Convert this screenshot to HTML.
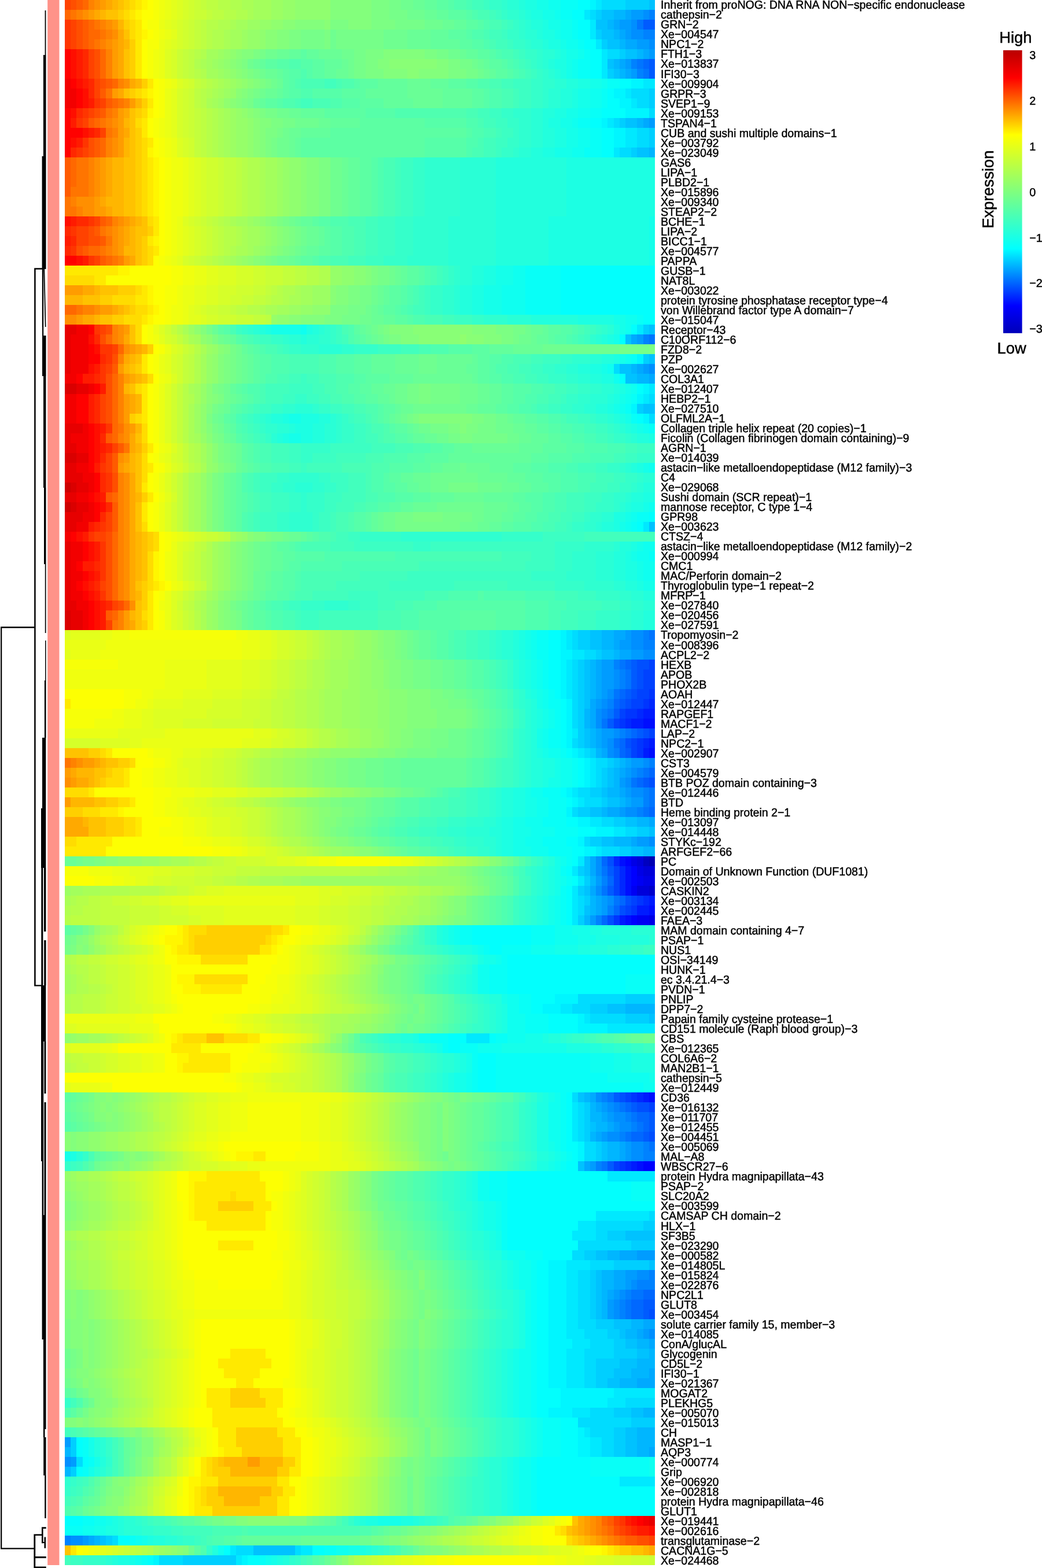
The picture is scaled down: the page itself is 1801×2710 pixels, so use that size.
<!DOCTYPE html>
<html lang="en"><head><meta charset="utf-8"><title>Expression heatmap</title>
<style>html,body{margin:0;padding:0;background:#fff}svg{display:block}text{font-family:"Liberation Sans",Arial,Helvetica,sans-serif;fill:#000;text-rendering:geometricPrecision}</style></head><body>
<svg width="1801" height="2710" viewBox="0 0 1801 2710">
<rect width="1801" height="2710" fill="#fff"/>
<g transform="translate(112,0) scale(10.2,17.0126)" shape-rendering="crispEdges">
<path fill="#0000b3" d="M99 87h1v1h-1z"/>
<path fill="#0000c0" d="M98 87h1v1h-1z"/>
<path fill="#0000cd" d="M99 90h1v1h-1z"/>
<path fill="#0000da" d="M97 87h1v1h-1zM98 88h2v1h-2zM97 90h2v1h-2z"/>
<path fill="#0000e7" d="M96 87h1v1h-1zM97 88h1v1h-1zM98 89h2v1h-2zM99 93h1v1h-1z"/>
<path fill="#0000f3" d="M97 89h1v1h-1zM96 90h1v1h-1zM97 93h2v1h-2z"/>
<path fill="#0001ff" d="M95 87h1v1h-1zM96 88h1v1h-1zM96 89h1v1h-1zM96 93h1v1h-1zM98 118h2v1h-2z"/>
<path fill="#000eff" d="M98 73h2v1h-2zM99 76h1v1h-1zM94 87h1v1h-1zM95 88h1v1h-1zM95 89h1v1h-1zM95 90h1v1h-1zM99 92h1v1h-1zM95 93h1v1h-1zM99 111h1v1h-1zM97 118h1v1h-1z"/>
<path fill="#001bff" d="M98 72h2v1h-2zM96 73h2v1h-2zM99 75h1v1h-1zM98 76h1v1h-1zM99 91h1v1h-1zM97 92h2v1h-2zM94 93h1v1h-1zM98 111h1v1h-1zM96 118h1v1h-1z"/>
<path fill="#0028ff" d="M99 71h1v1h-1zM97 72h1v1h-1zM95 73h1v1h-1zM98 75h1v1h-1zM93 87h1v1h-1zM94 88h1v1h-1zM94 89h1v1h-1zM94 90h1v1h-1zM98 91h1v1h-1zM97 111h1v1h-1zM95 118h1v1h-1z"/>
<path fill="#0035ff" d="M99 70h1v1h-1zM98 71h1v1h-1zM95 72h2v1h-2zM94 73h1v1h-1zM97 75h1v1h-1zM97 76h1v1h-1zM97 91h1v1h-1zM96 92h1v1h-1zM93 93h1v1h-1zM96 111h1v1h-1zM94 118h1v1h-1z"/>
<path fill="#0042ff" d="M99 67h1v1h-1zM98 68h2v1h-2zM98 69h2v1h-2zM97 70h2v1h-2zM96 71h2v1h-2zM94 72h1v1h-1zM93 73h1v1h-1zM99 74h1v1h-1zM96 75h1v1h-1zM96 76h1v1h-1zM93 88h1v1h-1zM93 89h1v1h-1zM93 90h1v1h-1zM96 91h1v1h-1zM95 92h1v1h-1zM95 111h1v1h-1zM99 112h1v1h-1zM93 118h1v1h-1z"/>
<path fill="#004fff" d="M97 67h2v1h-2zM97 68h1v1h-1zM97 69h1v1h-1zM96 70h1v1h-1zM95 71h1v1h-1zM98 74h1v1h-1zM95 75h1v1h-1zM99 79h1v1h-1zM92 87h1v1h-1zM95 91h1v1h-1zM94 92h1v1h-1zM92 93h1v1h-1zM94 111h1v1h-1zM97 112h2v1h-2zM99 115h1v1h-1zM99 133h1v1h-1z"/>
<path fill="#005bff" d="M98 2h2v1h-2zM99 6h1v1h-1zM99 7h1v1h-1zM96 67h1v1h-1zM96 68h1v1h-1zM96 69h1v1h-1zM95 70h1v1h-1zM94 71h1v1h-1zM93 72h1v1h-1zM92 73h1v1h-1zM97 74h1v1h-1zM95 76h1v1h-1zM98 79h1v1h-1zM92 88h1v1h-1zM92 90h1v1h-1zM93 111h1v1h-1zM96 112h1v1h-1zM99 113h1v1h-1zM99 114h1v1h-1zM98 115h1v1h-1zM92 118h1v1h-1zM98 132h2v1h-2zM98 133h1v1h-1z"/>
<path fill="#0068ff" d="M98 6h1v1h-1zM95 67h1v1h-1zM94 70h1v1h-1zM93 71h1v1h-1zM96 74h1v1h-1zM94 75h1v1h-1zM94 76h1v1h-1zM99 78h1v1h-1zM97 79h1v1h-1zM99 82h1v1h-1zM91 87h1v1h-1zM92 89h1v1h-1zM94 91h1v1h-1zM93 92h1v1h-1zM91 93h1v1h-1zM95 112h1v1h-1zM97 113h2v1h-2zM98 114h1v1h-1zM96 115h2v1h-2zM98 131h2v1h-2zM96 132h2v1h-2zM96 133h2v1h-2z"/>
<path fill="#0075ff" d="M97 2h1v1h-1zM97 6h1v1h-1zM98 7h1v1h-1zM99 34h1v1h-1zM99 64h1v1h-1zM94 67h1v1h-1zM95 68h1v1h-1zM95 69h1v1h-1zM93 70h1v1h-1zM92 72h1v1h-1zM91 73h1v1h-1zM95 74h1v1h-1zM93 75h1v1h-1zM98 78h1v1h-1zM96 79h1v1h-1zM99 80h1v1h-1zM99 81h1v1h-1zM98 82h1v1h-1zM91 88h1v1h-1zM91 90h1v1h-1zM93 91h1v1h-1zM92 111h1v1h-1zM94 112h1v1h-1zM96 113h1v1h-1zM97 114h1v1h-1zM95 115h1v1h-1zM99 116h1v1h-1zM91 118h1v1h-1zM96 131h2v1h-2zM95 132h1v1h-1zM95 133h1v1h-1z"/>
<path fill="#0082ff" d="M99 1h1v1h-1zM98 3h2v1h-2zM96 6h1v1h-1zM97 7h1v1h-1zM98 34h1v1h-1zM98 64h1v1h-1zM98 65h2v1h-2zM93 67h1v1h-1zM94 68h1v1h-1zM94 69h1v1h-1zM92 71h1v1h-1zM91 72h1v1h-1zM94 74h1v1h-1zM93 76h1v1h-1zM99 77h1v1h-1zM97 78h1v1h-1zM98 80h1v1h-1zM98 81h1v1h-1zM97 82h1v1h-1zM91 89h1v1h-1zM92 92h1v1h-1zM90 93h1v1h-1zM91 111h1v1h-1zM93 112h1v1h-1zM95 113h1v1h-1zM96 114h1v1h-1zM94 115h1v1h-1zM98 116h1v1h-1zM98 117h2v1h-2zM90 118h1v1h-1zM99 129h1v1h-1zM97 130h3v1h-3zM95 131h1v1h-1zM94 132h1v1h-1zM94 133h1v1h-1zM0 156h1v1h-1z"/>
<path fill="#008fff" d="M98 1h1v1h-1zM96 2h1v1h-1zM96 3h2v1h-2zM99 4h1v1h-1zM99 37h1v1h-1zM96 64h2v1h-2zM96 65h2v1h-2zM98 66h2v1h-2zM93 68h1v1h-1zM93 69h1v1h-1zM92 70h1v1h-1zM91 71h1v1h-1zM90 72h1v1h-1zM90 73h1v1h-1zM93 74h1v1h-1zM92 75h1v1h-1zM92 76h1v1h-1zM98 77h1v1h-1zM96 78h1v1h-1zM95 79h1v1h-1zM96 80h2v1h-2zM95 82h2v1h-2zM99 85h1v1h-1zM90 87h1v1h-1zM90 88h1v1h-1zM90 90h1v1h-1zM92 91h1v1h-1zM90 111h1v1h-1zM92 112h1v1h-1zM93 113h2v1h-2zM94 114h2v1h-2zM92 115h2v1h-2zM96 116h2v1h-2zM96 117h2v1h-2zM97 129h2v1h-2zM96 130h1v1h-1zM94 131h1v1h-1zM93 132h1v1h-1zM93 133h1v1h-1zM99 135h1v1h-1zM0 148h1v1h-1zM1 156h2v1h-2z"/>
<path fill="#009cff" d="M96 1h2v1h-2zM94 2h2v1h-2zM95 3h1v1h-1zM97 4h2v1h-2zM99 5h1v1h-1zM95 6h1v1h-1zM96 7h1v1h-1zM99 12h1v1h-1zM97 34h1v1h-1zM98 37h1v1h-1zM95 64h1v1h-1zM94 65h2v1h-2zM96 66h2v1h-2zM91 67h2v1h-2zM91 68h2v1h-2zM91 69h2v1h-2zM91 70h1v1h-1zM90 71h1v1h-1zM91 74h2v1h-2zM91 75h1v1h-1zM96 77h2v1h-2zM95 78h1v1h-1zM94 79h1v1h-1zM95 80h1v1h-1zM96 81h2v1h-2zM94 82h1v1h-1zM97 85h2v1h-2zM90 89h1v1h-1zM91 91h1v1h-1zM91 92h1v1h-1zM89 93h1v1h-1zM91 112h1v1h-1zM92 113h1v1h-1zM93 114h1v1h-1zM91 115h1v1h-1zM95 116h1v1h-1zM95 117h1v1h-1zM89 118h1v1h-1zM97 127h3v1h-3zM95 129h2v1h-2zM95 130h1v1h-1zM93 131h1v1h-1zM92 132h1v1h-1zM92 133h1v1h-1zM98 135h1v1h-1zM0 146h1v1h-1zM1 148h1v1h-1zM3 156h1v1h-1z"/>
<path fill="#00a9ff" d="M95 1h1v1h-1zM93 2h1v1h-1zM94 3h1v1h-1zM95 4h2v1h-2zM98 5h1v1h-1zM94 6h1v1h-1zM95 7h1v1h-1zM98 12h1v1h-1zM96 34h1v1h-1zM97 37h1v1h-1zM99 38h1v1h-1zM93 64h2v1h-2zM93 65h1v1h-1zM94 66h2v1h-2zM90 67h1v1h-1zM90 68h1v1h-1zM90 69h1v1h-1zM90 70h1v1h-1zM89 71h1v1h-1zM89 72h1v1h-1zM89 73h1v1h-1zM90 74h1v1h-1zM90 75h1v1h-1zM91 76h1v1h-1zM95 77h1v1h-1zM94 78h1v1h-1zM94 80h1v1h-1zM95 81h1v1h-1zM92 82h2v1h-2zM99 83h1v1h-1zM96 85h1v1h-1zM89 87h1v1h-1zM89 88h1v1h-1zM89 90h1v1h-1zM90 91h1v1h-1zM90 92h1v1h-1zM89 111h1v1h-1zM90 112h1v1h-1zM91 113h1v1h-1zM92 114h1v1h-1zM90 115h1v1h-1zM94 116h1v1h-1zM94 117h1v1h-1zM88 118h1v1h-1zM94 127h3v1h-3zM93 129h2v1h-2zM93 130h2v1h-2zM92 131h1v1h-1zM98 134h2v1h-2zM97 135h1v1h-1zM99 136h1v1h-1zM99 139h1v1h-1zM97 140h3v1h-3zM99 147h1v1h-1zM4 156h1v1h-1z"/>
<path fill="#00b6ff" d="M93 1h2v1h-2zM92 2h1v1h-1zM93 3h1v1h-1zM94 4h1v1h-1zM97 5h1v1h-1zM93 6h1v1h-1zM94 7h1v1h-1zM97 12h1v1h-1zM99 15h1v1h-1zM96 37h1v1h-1zM97 38h2v1h-2zM91 64h2v1h-2zM91 65h2v1h-2zM93 66h1v1h-1zM89 67h1v1h-1zM89 68h1v1h-1zM89 69h1v1h-1zM89 70h1v1h-1zM88 72h1v1h-1zM88 73h1v1h-1zM89 74h1v1h-1zM89 75h1v1h-1zM90 76h1v1h-1zM94 77h1v1h-1zM93 78h1v1h-1zM93 79h1v1h-1zM92 80h2v1h-2zM94 81h1v1h-1zM91 82h1v1h-1zM97 83h2v1h-2zM93 85h3v1h-3zM98 86h2v1h-2zM89 89h1v1h-1zM89 91h1v1h-1zM89 92h1v1h-1zM88 93h1v1h-1zM95 102h5v1h-5zM88 111h1v1h-1zM89 112h1v1h-1zM89 113h2v1h-2zM90 114h2v1h-2zM89 115h1v1h-1zM92 116h2v1h-2zM92 117h2v1h-2zM92 127h2v1h-2zM91 129h2v1h-2zM91 130h2v1h-2zM91 131h1v1h-1zM91 132h1v1h-1zM91 133h1v1h-1zM96 134h2v1h-2zM95 135h2v1h-2zM97 136h2v1h-2zM99 137h1v1h-1zM97 138h3v1h-3zM96 139h3v1h-3zM94 140h3v1h-3zM98 143h2v1h-2zM97 145h3v1h-3zM97 146h3v1h-3zM0 147h1v1h-1zM97 147h2v1h-2zM0 149h1v1h-1zM5 156h1v1h-1z"/>
<path fill="#00c2ff" d="M99 0h1v1h-1zM91 1h2v1h-2zM90 2h2v1h-2zM91 3h2v1h-2zM92 4h2v1h-2zM95 5h2v1h-2zM92 6h1v1h-1zM93 7h1v1h-1zM95 12h2v1h-2zM97 15h2v1h-2zM99 33h1v1h-1zM95 34h1v1h-1zM99 36h1v1h-1zM94 37h2v1h-2zM95 38h2v1h-2zM98 41h2v1h-2zM99 53h1v1h-1zM89 64h2v1h-2zM89 65h2v1h-2zM91 66h2v1h-2zM88 67h1v1h-1zM88 68h1v1h-1zM88 69h1v1h-1zM88 70h1v1h-1zM88 71h1v1h-1zM88 74h1v1h-1zM88 75h1v1h-1zM93 77h1v1h-1zM92 78h1v1h-1zM92 79h1v1h-1zM91 80h1v1h-1zM92 81h2v1h-2zM89 82h2v1h-2zM95 83h2v1h-2zM99 84h1v1h-1zM91 85h2v1h-2zM96 86h2v1h-2zM88 87h1v1h-1zM88 88h1v1h-1zM88 90h1v1h-1zM88 92h1v1h-1zM92 102h3v1h-3zM99 103h1v1h-1zM87 111h1v1h-1zM89 114h1v1h-1zM91 116h1v1h-1zM91 117h1v1h-1zM87 118h1v1h-1zM95 125h5v1h-5zM90 127h2v1h-2zM99 128h1v1h-1zM90 129h1v1h-1zM90 130h1v1h-1zM90 131h1v1h-1zM90 132h1v1h-1zM90 133h1v1h-1zM93 134h3v1h-3zM94 135h1v1h-1zM95 136h2v1h-2zM97 137h2v1h-2zM94 138h3v1h-3zM93 139h3v1h-3zM92 140h2v1h-2zM96 143h2v1h-2zM95 145h2v1h-2zM95 146h2v1h-2zM95 147h2v1h-2zM6 156h1v1h-1zM32 157h7v1h-7z"/>
<path fill="#00cfff" d="M95 0h4v1h-4zM90 1h1v1h-1zM90 3h1v1h-1zM91 4h1v1h-1zM94 5h1v1h-1zM92 7h1v1h-1zM99 9h1v1h-1zM99 10h1v1h-1zM94 12h1v1h-1zM99 13h1v1h-1zM99 14h1v1h-1zM96 15h1v1h-1zM98 33h1v1h-1zM98 36h1v1h-1zM97 41h1v1h-1zM87 64h2v1h-2zM87 65h2v1h-2zM90 66h1v1h-1zM87 67h1v1h-1zM87 68h1v1h-1zM87 69h1v1h-1zM87 70h1v1h-1zM87 71h1v1h-1zM87 72h1v1h-1zM87 73h1v1h-1zM87 74h1v1h-1zM87 75h1v1h-1zM89 76h1v1h-1zM92 77h1v1h-1zM91 78h1v1h-1zM91 79h1v1h-1zM89 80h2v1h-2zM91 81h1v1h-1zM87 82h2v1h-2zM93 83h2v1h-2zM97 84h2v1h-2zM89 85h2v1h-2zM94 86h2v1h-2zM87 88h1v1h-1zM88 89h1v1h-1zM87 90h1v1h-1zM88 91h1v1h-1zM87 93h1v1h-1zM95 101h5v1h-5zM89 102h3v1h-3zM95 103h4v1h-4zM88 112h1v1h-1zM88 113h1v1h-1zM88 114h1v1h-1zM88 115h1v1h-1zM90 116h1v1h-1zM90 117h1v1h-1zM98 124h2v1h-2zM92 125h3v1h-3zM96 126h4v1h-4zM88 127h2v1h-2zM93 128h6v1h-6zM89 129h1v1h-1zM89 130h1v1h-1zM89 131h1v1h-1zM89 132h1v1h-1zM89 133h1v1h-1zM90 134h3v1h-3zM92 135h2v1h-2zM93 136h2v1h-2zM93 137h4v1h-4zM90 138h4v1h-4zM90 139h3v1h-3zM90 140h2v1h-2zM93 143h3v1h-3zM96 144h4v1h-4zM93 145h2v1h-2zM1 146h1v1h-1zM93 146h2v1h-2zM1 147h1v1h-1zM93 147h2v1h-2zM1 149h1v1h-1zM7 156h1v1h-1zM20 158h9v1h-9z"/>
<path fill="#00dcff" d="M91 0h4v1h-4zM89 1h1v1h-1zM92 5h2v1h-2zM96 9h3v1h-3zM97 10h2v1h-2zM99 11h1v1h-1zM93 12h1v1h-1zM97 13h2v1h-2zM97 14h2v1h-2zM94 15h2v1h-2zM93 37h1v1h-1zM99 40h1v1h-1zM99 42h1v1h-1zM86 64h1v1h-1zM86 65h1v1h-1zM88 66h2v1h-2zM86 67h1v1h-1zM86 68h1v1h-1zM86 69h1v1h-1zM86 70h1v1h-1zM86 71h1v1h-1zM86 72h1v1h-1zM86 73h1v1h-1zM86 75h1v1h-1zM88 76h1v1h-1zM90 77h2v1h-2zM90 78h1v1h-1zM90 79h1v1h-1zM87 80h2v1h-2zM88 81h3v1h-3zM86 82h1v1h-1zM91 83h2v1h-2zM95 84h2v1h-2zM88 85h1v1h-1zM91 86h3v1h-3zM87 91h1v1h-1zM87 92h1v1h-1zM87 101h8v1h-8zM86 102h3v1h-3zM89 103h6v1h-6zM86 111h1v1h-1zM87 112h1v1h-1zM87 113h1v1h-1zM87 114h1v1h-1zM87 115h1v1h-1zM88 116h2v1h-2zM88 117h2v1h-2zM99 123h1v1h-1zM90 124h8v1h-8zM90 125h2v1h-2zM87 126h9v1h-9zM86 127h2v1h-2zM89 128h4v1h-4zM87 129h2v1h-2zM87 130h2v1h-2zM87 131h2v1h-2zM87 132h2v1h-2zM87 133h2v1h-2zM87 134h3v1h-3zM88 135h4v1h-4zM89 136h4v1h-4zM88 137h5v1h-5zM88 138h2v1h-2zM88 139h2v1h-2zM88 140h2v1h-2zM95 142h5v1h-5zM89 143h4v1h-4zM87 144h9v1h-9zM89 145h4v1h-4zM91 146h2v1h-2zM91 147h2v1h-2zM2 148h1v1h-1zM8 156h1v1h-1zM29 157h3v1h-3zM39 157h1v1h-1zM16 158h4v1h-4z"/>
<path fill="#00e9ff" d="M90 0h1v1h-1zM88 1h1v1h-1zM89 2h1v1h-1zM89 3h1v1h-1zM90 4h1v1h-1zM91 5h1v1h-1zM91 6h1v1h-1zM91 7h1v1h-1zM98 8h2v1h-2zM95 9h1v1h-1zM96 10h1v1h-1zM92 12h1v1h-1zM95 13h2v1h-2zM95 14h2v1h-2zM93 15h1v1h-1zM97 33h1v1h-1zM99 39h1v1h-1zM98 40h1v1h-1zM98 53h1v1h-1zM85 64h1v1h-1zM85 65h1v1h-1zM86 66h2v1h-2zM85 67h1v1h-1zM85 68h1v1h-1zM85 69h1v1h-1zM85 70h1v1h-1zM86 74h1v1h-1zM87 76h1v1h-1zM89 77h1v1h-1zM89 78h1v1h-1zM89 79h1v1h-1zM86 80h1v1h-1zM87 81h1v1h-1zM89 83h2v1h-2zM93 84h2v1h-2zM90 86h1v1h-1zM87 87h1v1h-1zM86 88h1v1h-1zM87 89h1v1h-1zM86 90h1v1h-1zM86 91h1v1h-1zM86 92h1v1h-1zM86 93h1v1h-1zM84 102h2v1h-2zM88 103h1v1h-1zM92 104h8v1h-8zM68 105h4v1h-4zM86 112h1v1h-1zM86 113h1v1h-1zM86 114h1v1h-1zM86 115h1v1h-1zM92 119h8v1h-8zM90 123h9v1h-9zM87 124h3v1h-3zM86 125h4v1h-4zM85 128h4v1h-4zM85 129h2v1h-2zM85 130h2v1h-2zM85 131h2v1h-2zM85 132h2v1h-2zM85 133h2v1h-2zM85 134h2v1h-2zM85 135h3v1h-3zM86 136h3v1h-3zM85 137h3v1h-3zM85 138h3v1h-3zM85 139h3v1h-3zM85 140h3v1h-3zM93 141h7v1h-7zM92 142h3v1h-3zM86 143h3v1h-3zM88 145h1v1h-1zM89 146h2v1h-2zM89 147h2v1h-2zM94 150h6v1h-6zM28 157h1v1h-1zM40 157h2v1h-2zM29 158h1v1h-1z"/>
<path fill="#00f6ff" d="M89 0h1v1h-1zM96 8h2v1h-2zM93 9h2v1h-2zM94 10h2v1h-2zM95 11h4v1h-4zM91 12h1v1h-1zM93 13h2v1h-2zM93 14h2v1h-2zM97 36h1v1h-1zM98 39h1v1h-1zM97 40h1v1h-1zM96 41h1v1h-1zM98 42h1v1h-1zM84 64h1v1h-1zM84 65h1v1h-1zM84 66h2v1h-2zM84 67h1v1h-1zM84 68h1v1h-1zM84 69h1v1h-1zM84 70h1v1h-1zM85 71h1v1h-1zM85 72h1v1h-1zM85 73h1v1h-1zM85 74h1v1h-1zM85 75h1v1h-1zM86 76h1v1h-1zM88 77h1v1h-1zM88 78h1v1h-1zM88 79h1v1h-1zM85 80h1v1h-1zM86 81h1v1h-1zM85 82h1v1h-1zM87 83h2v1h-2zM90 84h3v1h-3zM87 85h1v1h-1zM88 86h2v1h-2zM83 101h4v1h-4zM81 102h3v1h-3zM87 103h1v1h-1zM87 104h5v1h-5zM87 116h1v1h-1zM87 117h1v1h-1zM82 128h3v1h-3zM82 129h3v1h-3zM82 130h3v1h-3zM82 131h3v1h-3zM82 132h3v1h-3zM82 133h3v1h-3zM82 134h3v1h-3zM82 135h3v1h-3zM82 136h4v1h-4zM82 137h3v1h-3zM82 138h3v1h-3zM82 139h3v1h-3zM82 140h3v1h-3zM84 141h9v1h-9zM84 142h8v1h-8zM82 143h4v1h-4zM87 145h1v1h-1zM87 146h2v1h-2zM87 147h2v1h-2zM15 158h1v1h-1zM30 158h1v1h-1z"/>
<path fill="#02fffd" d="M87 0h2v1h-2zM86 1h2v1h-2zM87 2h2v1h-2zM87 3h2v1h-2zM88 4h2v1h-2zM89 5h2v1h-2zM89 6h2v1h-2zM89 7h2v1h-2zM94 8h2v1h-2zM92 9h1v1h-1zM92 10h2v1h-2zM91 11h4v1h-4zM89 12h2v1h-2zM91 13h2v1h-2zM91 14h2v1h-2zM91 15h2v1h-2zM84 27h16v1h-16zM84 28h16v1h-16zM84 29h16v1h-16zM84 30h16v1h-16zM84 31h16v1h-16zM98 32h2v1h-2zM96 33h1v1h-1zM94 34h1v1h-1zM94 38h1v1h-1zM97 39h1v1h-1zM97 42h1v1h-1zM99 52h1v1h-1zM97 53h1v1h-1zM82 64h2v1h-2zM82 65h2v1h-2zM82 66h2v1h-2zM82 67h2v1h-2zM82 68h2v1h-2zM82 69h2v1h-2zM83 70h1v1h-1zM84 71h1v1h-1zM84 72h1v1h-1zM84 73h1v1h-1zM84 74h1v1h-1zM84 75h1v1h-1zM85 76h1v1h-1zM87 77h1v1h-1zM87 78h1v1h-1zM87 79h1v1h-1zM84 80h1v1h-1zM85 81h1v1h-1zM85 83h2v1h-2zM87 84h3v1h-3zM85 85h2v1h-2zM86 86h2v1h-2zM86 87h1v1h-1zM85 88h1v1h-1zM86 89h1v1h-1zM85 90h1v1h-1zM85 91h1v1h-1zM85 92h1v1h-1zM85 93h1v1h-1zM69 94h10v1h-10zM69 95h10v1h-10zM72 96h2v1h-2zM75 97h25v1h-25zM75 98h25v1h-25zM75 99h20v1h-20zM75 100h20v1h-20zM79 101h4v1h-4zM79 102h2v1h-2zM82 103h5v1h-5zM82 104h5v1h-5zM65 105h3v1h-3zM72 105h1v1h-1zM65 106h2v1h-2zM70 107h3v1h-3zM70 108h3v1h-3zM70 109h3v1h-3zM70 110h3v1h-3zM85 111h1v1h-1zM85 112h1v1h-1zM85 113h1v1h-1zM85 114h1v1h-1zM85 115h1v1h-1zM85 116h2v1h-2zM86 117h1v1h-1zM85 118h2v1h-2zM75 119h17v1h-17zM75 120h21v1h-21zM75 121h21v1h-21zM75 122h25v1h-25zM75 123h15v1h-15zM75 124h12v1h-12zM75 125h11v1h-11zM75 126h12v1h-12zM81 127h5v1h-5zM80 128h2v1h-2zM80 129h2v1h-2zM80 130h2v1h-2zM80 131h2v1h-2zM80 132h2v1h-2zM80 133h2v1h-2zM80 134h2v1h-2zM80 135h2v1h-2zM80 136h2v1h-2zM80 137h2v1h-2zM80 138h2v1h-2zM80 139h2v1h-2zM80 140h2v1h-2zM80 141h4v1h-4zM80 142h4v1h-4zM80 143h2v1h-2zM84 144h3v1h-3zM84 145h3v1h-3zM2 146h1v1h-1zM84 146h3v1h-3zM2 147h1v1h-1zM84 147h3v1h-3zM3 148h1v1h-1zM80 148h9v1h-9zM2 149h1v1h-1zM80 149h9v1h-9zM80 150h14v1h-14zM80 151h20v1h-20zM80 152h20v1h-20zM80 153h20v1h-20zM0 154h3v1h-3zM9 156h2v1h-2zM27 157h1v1h-1zM42 157h2v1h-2zM14 158h1v1h-1zM31 158h2v1h-2z"/>
<path fill="#08fff7" d="M84 0h3v1h-3zM84 1h2v1h-2zM86 2h1v1h-1zM86 3h1v1h-1zM87 4h1v1h-1zM88 5h1v1h-1zM87 6h2v1h-2zM87 7h2v1h-2zM92 8h2v1h-2zM91 9h1v1h-1zM91 10h1v1h-1zM89 11h2v1h-2zM87 12h2v1h-2zM89 13h2v1h-2zM89 14h2v1h-2zM88 15h3v1h-3zM78 27h6v1h-6zM78 28h6v1h-6zM78 29h6v1h-6zM78 30h6v1h-6zM78 31h6v1h-6zM97 32h1v1h-1zM96 36h1v1h-1zM96 40h1v1h-1zM95 41h1v1h-1zM96 42h1v1h-1zM99 43h1v1h-1zM97 52h2v1h-2zM96 53h1v1h-1zM99 56h1v1h-1zM80 64h2v1h-2zM80 65h2v1h-2zM80 66h2v1h-2zM81 67h1v1h-1zM81 68h1v1h-1zM81 69h1v1h-1zM82 70h1v1h-1zM82 71h2v1h-2zM83 72h1v1h-1zM83 73h1v1h-1zM82 74h2v1h-2zM82 75h2v1h-2zM84 76h1v1h-1zM86 77h1v1h-1zM86 78h1v1h-1zM86 79h1v1h-1zM81 80h3v1h-3zM82 81h3v1h-3zM82 82h3v1h-3zM81 83h4v1h-4zM83 84h4v1h-4zM81 85h4v1h-4zM82 86h4v1h-4zM85 87h1v1h-1zM84 88h1v1h-1zM85 89h1v1h-1zM84 90h1v1h-1zM84 91h1v1h-1zM84 92h1v1h-1zM84 93h1v1h-1zM67 94h2v1h-2zM79 94h4v1h-4zM67 95h2v1h-2zM79 95h4v1h-4zM71 96h1v1h-1zM74 96h5v1h-5zM74 97h1v1h-1zM72 98h3v1h-3zM72 99h3v1h-3zM95 99h5v1h-5zM72 100h3v1h-3zM95 100h5v1h-5zM77 101h2v1h-2zM77 102h2v1h-2zM78 103h4v1h-4zM78 104h4v1h-4zM62 105h3v1h-3zM73 105h2v1h-2zM64 106h1v1h-1zM67 106h3v1h-3zM69 107h1v1h-1zM73 107h16v1h-16zM69 108h1v1h-1zM73 108h16v1h-16zM69 109h1v1h-1zM73 109h19v1h-19zM69 110h1v1h-1zM73 110h25v1h-25zM84 111h1v1h-1zM84 112h1v1h-1zM84 113h1v1h-1zM84 114h1v1h-1zM84 115h1v1h-1zM84 116h1v1h-1zM85 117h1v1h-1zM84 118h1v1h-1zM72 119h3v1h-3zM72 120h3v1h-3zM96 120h4v1h-4zM72 121h3v1h-3zM96 121h4v1h-4zM74 122h1v1h-1zM74 123h1v1h-1zM74 124h1v1h-1zM74 125h1v1h-1zM74 126h1v1h-1zM78 127h3v1h-3zM79 128h1v1h-1zM79 129h1v1h-1zM79 130h1v1h-1zM79 131h1v1h-1zM79 132h1v1h-1zM79 133h1v1h-1zM79 134h1v1h-1zM79 135h1v1h-1zM79 136h1v1h-1zM79 137h1v1h-1zM79 138h1v1h-1zM79 139h1v1h-1zM79 140h1v1h-1zM79 141h1v1h-1zM79 142h1v1h-1zM79 143h1v1h-1zM81 144h3v1h-3zM81 145h3v1h-3zM3 146h1v1h-1zM81 146h3v1h-3zM3 147h1v1h-1zM81 147h3v1h-3zM4 148h1v1h-1zM79 148h1v1h-1zM89 148h10v1h-10zM3 149h1v1h-1zM79 149h1v1h-1zM89 149h10v1h-10zM79 150h1v1h-1zM79 151h1v1h-1zM79 152h1v1h-1zM79 153h1v1h-1zM3 154h2v1h-2zM0 155h3v1h-3zM11 156h1v1h-1zM44 157h2v1h-2zM13 158h1v1h-1zM33 158h1v1h-1z"/>
<path fill="#0ffff0" d="M82 0h2v1h-2zM83 1h1v1h-1zM84 2h2v1h-2zM84 3h2v1h-2zM85 4h2v1h-2zM87 5h1v1h-1zM86 6h1v1h-1zM86 7h1v1h-1zM91 8h1v1h-1zM89 9h2v1h-2zM89 10h2v1h-2zM87 11h2v1h-2zM86 12h1v1h-1zM87 13h2v1h-2zM87 14h2v1h-2zM86 15h2v1h-2zM76 27h2v1h-2zM76 28h2v1h-2zM74 29h4v1h-4zM74 30h4v1h-4zM74 31h4v1h-4zM95 32h2v1h-2zM40 33h1v1h-1zM95 33h1v1h-1zM95 36h1v1h-1zM92 37h1v1h-1zM93 38h1v1h-1zM96 39h1v1h-1zM95 40h1v1h-1zM94 41h1v1h-1zM98 43h1v1h-1zM99 47h1v1h-1zM99 51h1v1h-1zM96 52h1v1h-1zM95 53h1v1h-1zM98 55h2v1h-2zM97 56h2v1h-2zM98 57h2v1h-2zM98 58h2v1h-2zM79 64h1v1h-1zM79 65h1v1h-1zM79 66h1v1h-1zM80 67h1v1h-1zM80 68h1v1h-1zM80 69h1v1h-1zM81 70h1v1h-1zM81 71h1v1h-1zM82 72h1v1h-1zM82 73h1v1h-1zM81 74h1v1h-1zM81 75h1v1h-1zM82 76h2v1h-2zM84 77h2v1h-2zM84 78h2v1h-2zM84 79h2v1h-2zM79 80h2v1h-2zM80 81h2v1h-2zM80 82h2v1h-2zM78 83h3v1h-3zM79 84h4v1h-4zM78 85h3v1h-3zM79 86h3v1h-3zM84 87h1v1h-1zM84 89h1v1h-1zM83 91h1v1h-1zM83 92h1v1h-1zM83 93h1v1h-1zM66 94h1v1h-1zM83 94h3v1h-3zM66 95h1v1h-1zM83 95h4v1h-4zM70 96h1v1h-1zM79 96h4v1h-4zM73 97h1v1h-1zM70 98h2v1h-2zM70 99h2v1h-2zM70 100h2v1h-2zM75 101h2v1h-2zM75 102h2v1h-2zM75 103h3v1h-3zM75 104h3v1h-3zM60 105h2v1h-2zM75 105h3v1h-3zM70 106h4v1h-4zM89 107h4v1h-4zM89 108h4v1h-4zM68 109h1v1h-1zM92 109h7v1h-7zM68 110h1v1h-1zM98 110h2v1h-2zM83 111h1v1h-1zM82 112h2v1h-2zM82 113h2v1h-2zM82 114h2v1h-2zM82 115h2v1h-2zM83 116h1v1h-1zM84 117h1v1h-1zM83 118h1v1h-1zM70 119h2v1h-2zM70 120h2v1h-2zM70 121h2v1h-2zM73 122h1v1h-1zM73 123h1v1h-1zM73 124h1v1h-1zM75 127h3v1h-3zM77 128h2v1h-2zM77 129h2v1h-2zM77 130h2v1h-2zM78 131h1v1h-1zM78 132h1v1h-1zM78 133h1v1h-1zM78 134h1v1h-1zM78 135h1v1h-1zM78 136h1v1h-1zM77 137h2v1h-2zM77 138h2v1h-2zM77 139h2v1h-2zM77 140h2v1h-2zM77 141h2v1h-2zM77 142h2v1h-2zM77 143h2v1h-2zM80 144h1v1h-1zM80 145h1v1h-1zM80 146h1v1h-1zM80 147h1v1h-1zM77 148h2v1h-2zM99 148h1v1h-1zM77 149h2v1h-2zM99 149h1v1h-1zM77 150h2v1h-2zM77 151h2v1h-2zM77 152h2v1h-2zM77 153h2v1h-2zM5 154h2v1h-2zM3 155h2v1h-2zM12 156h1v1h-1zM26 157h1v1h-1zM46 157h2v1h-2zM12 158h1v1h-1zM34 158h1v1h-1z"/>
<path fill="#15ffea" d="M80 0h2v1h-2zM81 1h2v1h-2zM82 2h2v1h-2zM83 3h1v1h-1zM84 4h1v1h-1zM85 5h2v1h-2zM85 6h1v1h-1zM85 7h1v1h-1zM89 8h2v1h-2zM87 9h2v1h-2zM87 10h2v1h-2zM85 11h2v1h-2zM84 12h2v1h-2zM85 13h2v1h-2zM85 14h2v1h-2zM83 15h3v1h-3zM99 22h1v1h-1zM99 23h1v1h-1zM99 24h1v1h-1zM99 25h1v1h-1zM99 26h1v1h-1zM73 27h3v1h-3zM73 28h3v1h-3zM71 29h3v1h-3zM71 30h3v1h-3zM71 31h3v1h-3zM93 32h2v1h-2zM35 33h5v1h-5zM94 33h1v1h-1zM93 34h1v1h-1zM94 36h1v1h-1zM91 37h1v1h-1zM95 39h1v1h-1zM94 40h1v1h-1zM93 41h1v1h-1zM38 42h2v1h-2zM95 42h1v1h-1zM97 43h1v1h-1zM38 44h2v1h-2zM98 47h1v1h-1zM98 51h1v1h-1zM95 52h1v1h-1zM94 53h1v1h-1zM97 55h1v1h-1zM96 56h1v1h-1zM97 57h1v1h-1zM97 58h1v1h-1zM98 59h2v1h-2zM78 64h1v1h-1zM78 65h1v1h-1zM78 66h1v1h-1zM79 67h1v1h-1zM79 68h1v1h-1zM79 69h1v1h-1zM80 70h1v1h-1zM80 71h1v1h-1zM81 72h1v1h-1zM81 73h1v1h-1zM80 74h1v1h-1zM80 75h1v1h-1zM81 76h1v1h-1zM83 77h1v1h-1zM83 78h1v1h-1zM82 79h2v1h-2zM78 80h1v1h-1zM78 81h2v1h-2zM78 82h2v1h-2zM76 83h2v1h-2zM76 84h3v1h-3zM76 85h2v1h-2zM76 86h3v1h-3zM83 87h1v1h-1zM83 88h1v1h-1zM83 89h1v1h-1zM83 90h1v1h-1zM82 91h1v1h-1zM82 92h1v1h-1zM82 93h1v1h-1zM65 94h1v1h-1zM86 94h3v1h-3zM65 95h1v1h-1zM87 95h3v1h-3zM69 96h1v1h-1zM83 96h4v1h-4zM71 97h2v1h-2zM74 101h1v1h-1zM78 105h3v1h-3zM63 106h1v1h-1zM74 106h11v1h-11zM68 107h1v1h-1zM93 107h3v1h-3zM68 108h1v1h-1zM93 108h3v1h-3zM66 109h2v1h-2zM99 109h1v1h-1zM66 110h2v1h-2zM82 111h1v1h-1zM82 116h1v1h-1zM0 117h1v1h-1zM83 117h1v1h-1zM82 118h1v1h-1zM71 122h2v1h-2zM71 123h2v1h-2zM71 124h2v1h-2zM73 125h1v1h-1zM73 126h1v1h-1zM74 127h1v1h-1zM76 128h1v1h-1zM76 129h1v1h-1zM76 130h1v1h-1zM76 137h1v1h-1zM76 138h1v1h-1zM76 139h1v1h-1zM76 140h1v1h-1zM76 141h1v1h-1zM76 142h1v1h-1zM76 143h1v1h-1zM79 144h1v1h-1zM79 145h1v1h-1zM4 146h1v1h-1zM79 146h1v1h-1zM4 147h1v1h-1zM79 147h1v1h-1zM5 148h1v1h-1zM76 148h1v1h-1zM4 149h1v1h-1zM76 149h1v1h-1zM76 150h1v1h-1zM76 151h1v1h-1zM76 152h1v1h-1zM76 153h1v1h-1zM7 154h1v1h-1zM53 154h4v1h-4zM5 155h2v1h-2zM13 156h1v1h-1zM48 157h2v1h-2zM11 158h1v1h-1zM35 158h1v1h-1z"/>
<path fill="#1cffe3" d="M78 0h2v1h-2zM79 1h2v1h-2zM81 2h1v1h-1zM81 3h2v1h-2zM82 4h2v1h-2zM84 5h1v1h-1zM83 6h2v1h-2zM84 7h1v1h-1zM87 8h2v1h-2zM86 9h1v1h-1zM86 10h1v1h-1zM83 11h2v1h-2zM82 12h2v1h-2zM83 13h2v1h-2zM83 14h2v1h-2zM81 15h2v1h-2zM85 16h15v1h-15zM85 17h15v1h-15zM85 18h15v1h-15zM85 19h15v1h-15zM85 20h15v1h-15zM85 21h15v1h-15zM82 22h17v1h-17zM82 23h17v1h-17zM82 24h17v1h-17zM82 25h17v1h-17zM82 26h17v1h-17zM71 27h2v1h-2zM71 28h2v1h-2zM69 29h2v1h-2zM69 30h2v1h-2zM69 31h2v1h-2zM87 32h6v1h-6zM34 33h1v1h-1zM41 33h1v1h-1zM93 33h1v1h-1zM92 34h1v1h-1zM93 36h1v1h-1zM89 37h2v1h-2zM91 38h2v1h-2zM94 39h1v1h-1zM93 40h1v1h-1zM92 41h1v1h-1zM37 42h1v1h-1zM40 42h3v1h-3zM94 42h1v1h-1zM39 43h3v1h-3zM96 43h1v1h-1zM37 44h1v1h-1zM40 44h2v1h-2zM99 44h1v1h-1zM97 47h1v1h-1zM98 50h2v1h-2zM96 51h2v1h-2zM93 52h2v1h-2zM93 53h1v1h-1zM96 55h1v1h-1zM95 56h1v1h-1zM95 57h2v1h-2zM95 58h2v1h-2zM97 59h1v1h-1zM77 64h1v1h-1zM77 65h1v1h-1zM77 66h1v1h-1zM78 67h1v1h-1zM78 68h1v1h-1zM78 69h1v1h-1zM79 70h1v1h-1zM80 72h1v1h-1zM80 73h1v1h-1zM80 76h1v1h-1zM81 77h2v1h-2zM81 78h2v1h-2zM81 79h1v1h-1zM76 80h2v1h-2zM76 81h2v1h-2zM76 82h2v1h-2zM74 83h2v1h-2zM74 84h2v1h-2zM74 85h2v1h-2zM74 86h2v1h-2zM82 88h1v1h-1zM82 89h1v1h-1zM82 90h1v1h-1zM81 91h1v1h-1zM81 92h1v1h-1zM81 93h1v1h-1zM64 94h1v1h-1zM89 94h2v1h-2zM64 95h1v1h-1zM90 95h4v1h-4zM67 96h2v1h-2zM87 96h2v1h-2zM70 97h1v1h-1zM69 98h1v1h-1zM69 99h1v1h-1zM69 100h1v1h-1zM74 102h1v1h-1zM74 103h1v1h-1zM74 104h1v1h-1zM59 105h1v1h-1zM81 105h1v1h-1zM62 106h1v1h-1zM85 106h4v1h-4zM67 107h1v1h-1zM96 107h4v1h-4zM67 108h1v1h-1zM96 108h4v1h-4zM65 109h1v1h-1zM65 110h1v1h-1zM81 111h1v1h-1zM80 112h2v1h-2zM80 113h2v1h-2zM80 114h2v1h-2zM80 115h2v1h-2zM80 116h2v1h-2zM1 117h1v1h-1zM82 117h1v1h-1zM80 118h2v1h-2zM69 119h1v1h-1zM69 120h1v1h-1zM69 121h1v1h-1zM70 122h1v1h-1zM70 123h1v1h-1zM70 124h1v1h-1zM72 125h1v1h-1zM72 126h1v1h-1zM75 128h1v1h-1zM75 129h1v1h-1zM75 130h1v1h-1zM77 131h1v1h-1zM77 132h1v1h-1zM77 133h1v1h-1zM77 134h1v1h-1zM77 135h1v1h-1zM77 136h1v1h-1zM75 137h1v1h-1zM75 138h1v1h-1zM75 139h1v1h-1zM75 140h1v1h-1zM75 141h1v1h-1zM75 142h1v1h-1zM75 143h1v1h-1zM78 144h1v1h-1zM78 145h1v1h-1zM78 146h1v1h-1zM78 147h1v1h-1zM75 148h1v1h-1zM75 149h1v1h-1zM75 150h1v1h-1zM75 151h1v1h-1zM75 152h1v1h-1zM75 153h1v1h-1zM8 154h1v1h-1zM51 154h2v1h-2zM57 154h2v1h-2zM7 155h2v1h-2zM14 156h1v1h-1zM50 157h1v1h-1zM9 158h2v1h-2zM36 158h1v1h-1z"/>
<path fill="#22ffdd" d="M77 0h1v1h-1zM78 1h1v1h-1zM79 2h2v1h-2zM80 3h1v1h-1zM81 4h1v1h-1zM83 5h1v1h-1zM82 6h1v1h-1zM83 7h1v1h-1zM85 8h2v1h-2zM84 9h2v1h-2zM84 10h2v1h-2zM81 11h2v1h-2zM81 12h1v1h-1zM81 13h2v1h-2zM81 14h2v1h-2zM79 15h2v1h-2zM73 16h12v1h-12zM73 17h12v1h-12zM73 18h12v1h-12zM73 19h12v1h-12zM73 20h12v1h-12zM73 21h12v1h-12zM73 22h9v1h-9zM73 23h9v1h-9zM73 24h9v1h-9zM73 25h9v1h-9zM73 26h9v1h-9zM69 27h2v1h-2zM69 28h2v1h-2zM67 29h2v1h-2zM67 30h2v1h-2zM67 31h2v1h-2zM79 32h8v1h-8zM33 33h1v1h-1zM42 33h1v1h-1zM40 34h1v1h-1zM91 34h1v1h-1zM91 36h2v1h-2zM87 37h2v1h-2zM89 38h2v1h-2zM93 39h1v1h-1zM92 40h1v1h-1zM90 41h2v1h-2zM35 42h2v1h-2zM43 42h2v1h-2zM93 42h1v1h-1zM38 43h1v1h-1zM42 43h2v1h-2zM95 43h1v1h-1zM36 44h1v1h-1zM42 44h2v1h-2zM97 44h2v1h-2zM96 47h1v1h-1zM98 49h2v1h-2zM96 50h2v1h-2zM95 51h1v1h-1zM91 53h2v1h-2zM94 55h2v1h-2zM93 56h2v1h-2zM93 57h2v1h-2zM93 58h2v1h-2zM95 59h2v1h-2zM98 60h2v1h-2zM98 62h2v1h-2zM98 63h2v1h-2zM76 64h1v1h-1zM76 65h1v1h-1zM76 66h1v1h-1zM77 67h1v1h-1zM77 68h1v1h-1zM77 69h1v1h-1zM78 70h1v1h-1zM79 71h1v1h-1zM79 72h1v1h-1zM79 73h1v1h-1zM79 74h1v1h-1zM79 75h1v1h-1zM79 76h1v1h-1zM79 77h2v1h-2zM79 78h2v1h-2zM79 79h2v1h-2zM74 80h2v1h-2zM74 81h2v1h-2zM74 82h2v1h-2zM73 83h1v1h-1zM72 84h2v1h-2zM73 85h1v1h-1zM73 86h1v1h-1zM82 87h1v1h-1zM81 88h1v1h-1zM81 89h1v1h-1zM81 90h1v1h-1zM80 91h1v1h-1zM80 92h1v1h-1zM80 93h1v1h-1zM63 94h1v1h-1zM91 94h5v1h-5zM63 95h1v1h-1zM94 95h5v1h-5zM66 96h1v1h-1zM89 96h3v1h-3zM68 99h1v1h-1zM68 100h1v1h-1zM72 101h2v1h-2zM73 102h1v1h-1zM73 103h1v1h-1zM73 104h1v1h-1zM57 105h2v1h-2zM82 105h2v1h-2zM61 106h1v1h-1zM89 106h2v1h-2zM66 107h1v1h-1zM66 108h1v1h-1zM64 109h1v1h-1zM64 110h1v1h-1zM80 111h1v1h-1zM80 117h2v1h-2zM68 119h1v1h-1zM68 120h1v1h-1zM68 121h1v1h-1zM69 122h1v1h-1zM69 123h1v1h-1zM69 124h1v1h-1zM71 125h1v1h-1zM71 126h1v1h-1zM72 127h2v1h-2zM74 128h1v1h-1zM74 129h1v1h-1zM74 130h1v1h-1zM76 131h1v1h-1zM76 132h1v1h-1zM76 133h1v1h-1zM76 134h1v1h-1zM76 135h1v1h-1zM76 136h1v1h-1zM74 137h1v1h-1zM74 138h1v1h-1zM74 139h1v1h-1zM74 140h1v1h-1zM74 141h1v1h-1zM74 142h1v1h-1zM74 143h1v1h-1zM77 144h1v1h-1zM77 145h1v1h-1zM5 146h1v1h-1zM77 146h1v1h-1zM5 147h1v1h-1zM77 147h1v1h-1zM6 148h1v1h-1zM74 148h1v1h-1zM5 149h1v1h-1zM74 149h1v1h-1zM74 150h1v1h-1zM74 151h1v1h-1zM74 152h1v1h-1zM74 153h1v1h-1zM9 154h1v1h-1zM50 154h1v1h-1zM59 154h1v1h-1zM9 155h1v1h-1zM15 156h2v1h-2zM25 157h1v1h-1zM51 157h1v1h-1zM8 158h1v1h-1zM37 158h1v1h-1z"/>
<path fill="#29ffd6" d="M75 0h2v1h-2zM77 1h1v1h-1zM78 2h1v1h-1zM78 3h2v1h-2zM79 4h2v1h-2zM81 5h2v1h-2zM81 6h1v1h-1zM82 7h1v1h-1zM83 8h2v1h-2zM82 9h2v1h-2zM82 10h2v1h-2zM79 11h2v1h-2zM79 12h2v1h-2zM79 13h2v1h-2zM79 14h2v1h-2zM77 15h2v1h-2zM67 16h6v1h-6zM67 17h6v1h-6zM67 18h6v1h-6zM67 19h6v1h-6zM67 20h6v1h-6zM67 21h6v1h-6zM65 22h8v1h-8zM65 23h8v1h-8zM65 24h8v1h-8zM65 25h8v1h-8zM65 26h8v1h-8zM67 27h2v1h-2zM67 28h2v1h-2zM66 29h1v1h-1zM66 30h1v1h-1zM66 31h1v1h-1zM75 32h4v1h-4zM32 33h1v1h-1zM43 33h1v1h-1zM92 33h1v1h-1zM38 34h2v1h-2zM41 34h2v1h-2zM90 34h1v1h-1zM43 35h4v1h-4zM89 36h2v1h-2zM85 37h2v1h-2zM87 38h2v1h-2zM91 39h2v1h-2zM89 40h3v1h-3zM39 41h3v1h-3zM88 41h2v1h-2zM34 42h1v1h-1zM45 42h1v1h-1zM92 42h1v1h-1zM36 43h2v1h-2zM44 43h2v1h-2zM94 43h1v1h-1zM35 44h1v1h-1zM44 44h2v1h-2zM96 44h1v1h-1zM95 47h1v1h-1zM98 48h2v1h-2zM39 49h3v1h-3zM97 49h1v1h-1zM95 50h1v1h-1zM94 51h1v1h-1zM91 52h2v1h-2zM90 53h1v1h-1zM93 55h1v1h-1zM90 56h3v1h-3zM90 57h3v1h-3zM90 58h3v1h-3zM93 59h2v1h-2zM96 60h2v1h-2zM98 61h2v1h-2zM96 62h2v1h-2zM96 63h2v1h-2zM74 64h2v1h-2zM74 65h2v1h-2zM74 66h2v1h-2zM76 67h1v1h-1zM76 68h1v1h-1zM76 69h1v1h-1zM78 71h1v1h-1zM78 72h1v1h-1zM78 73h1v1h-1zM78 74h1v1h-1zM78 75h1v1h-1zM78 76h1v1h-1zM78 77h1v1h-1zM78 78h1v1h-1zM78 79h1v1h-1zM73 80h1v1h-1zM73 81h1v1h-1zM73 82h1v1h-1zM71 83h2v1h-2zM68 84h4v1h-4zM71 85h2v1h-2zM72 86h1v1h-1zM81 87h1v1h-1zM80 88h1v1h-1zM80 89h1v1h-1zM80 90h1v1h-1zM79 91h1v1h-1zM79 92h1v1h-1zM79 93h1v1h-1zM96 94h4v1h-4zM99 95h1v1h-1zM65 96h1v1h-1zM92 96h2v1h-2zM69 97h1v1h-1zM68 98h1v1h-1zM67 99h1v1h-1zM67 100h1v1h-1zM71 101h1v1h-1zM72 102h1v1h-1zM72 103h1v1h-1zM72 104h1v1h-1zM55 105h2v1h-2zM84 105h1v1h-1zM59 106h2v1h-2zM91 106h2v1h-2zM64 107h2v1h-2zM64 108h2v1h-2zM63 109h1v1h-1zM63 110h1v1h-1zM79 112h1v1h-1zM79 113h1v1h-1zM79 114h1v1h-1zM79 115h1v1h-1zM79 116h1v1h-1zM2 117h1v1h-1zM79 118h1v1h-1zM67 119h1v1h-1zM67 120h1v1h-1zM67 121h1v1h-1zM67 122h2v1h-2zM68 123h1v1h-1zM68 124h1v1h-1zM69 125h2v1h-2zM69 126h2v1h-2zM71 127h1v1h-1zM72 128h2v1h-2zM73 129h1v1h-1zM73 130h1v1h-1zM74 131h2v1h-2zM74 132h2v1h-2zM75 133h1v1h-1zM74 134h2v1h-2zM74 135h2v1h-2zM74 136h2v1h-2zM73 137h1v1h-1zM73 138h1v1h-1zM73 139h1v1h-1zM73 140h1v1h-1zM73 141h1v1h-1zM73 142h1v1h-1zM73 143h1v1h-1zM76 144h1v1h-1zM76 145h1v1h-1zM6 146h1v1h-1zM76 146h1v1h-1zM6 147h1v1h-1zM76 147h1v1h-1zM72 148h2v1h-2zM6 149h1v1h-1zM72 149h2v1h-2zM72 150h2v1h-2zM72 151h2v1h-2zM72 152h2v1h-2zM72 153h2v1h-2zM10 154h2v1h-2zM49 154h1v1h-1zM60 154h1v1h-1zM10 155h3v1h-3zM17 156h2v1h-2zM52 157h1v1h-1zM7 158h1v1h-1z"/>
<path fill="#2fffd0" d="M74 0h1v1h-1zM75 1h2v1h-2zM77 2h1v1h-1zM77 3h1v1h-1zM78 4h1v1h-1zM80 5h1v1h-1zM80 6h1v1h-1zM81 7h1v1h-1zM81 8h2v1h-2zM81 9h1v1h-1zM81 10h1v1h-1zM76 11h3v1h-3zM77 12h2v1h-2zM77 13h2v1h-2zM77 14h2v1h-2zM76 15h1v1h-1zM61 16h6v1h-6zM61 17h6v1h-6zM61 18h6v1h-6zM61 19h6v1h-6zM61 20h6v1h-6zM61 21h6v1h-6zM59 22h6v1h-6zM59 23h6v1h-6zM59 24h6v1h-6zM59 25h6v1h-6zM58 26h7v1h-7zM66 27h1v1h-1zM66 28h1v1h-1zM64 29h2v1h-2zM64 30h2v1h-2zM64 31h2v1h-2zM71 32h4v1h-4zM31 33h1v1h-1zM44 33h1v1h-1zM91 33h1v1h-1zM37 34h1v1h-1zM43 34h2v1h-2zM89 34h1v1h-1zM40 35h3v1h-3zM47 35h2v1h-2zM86 36h3v1h-3zM83 37h2v1h-2zM85 38h2v1h-2zM89 39h2v1h-2zM87 40h2v1h-2zM37 41h2v1h-2zM42 41h1v1h-1zM86 41h2v1h-2zM33 42h1v1h-1zM46 42h1v1h-1zM90 42h2v1h-2zM34 43h2v1h-2zM46 43h1v1h-1zM93 43h1v1h-1zM46 44h1v1h-1zM95 44h1v1h-1zM94 47h1v1h-1zM38 48h5v1h-5zM97 48h1v1h-1zM37 49h2v1h-2zM42 49h2v1h-2zM96 49h1v1h-1zM40 50h1v1h-1zM93 50h2v1h-2zM40 51h1v1h-1zM93 51h1v1h-1zM38 52h4v1h-4zM89 52h2v1h-2zM38 53h4v1h-4zM88 53h2v1h-2zM57 54h17v1h-17zM88 55h5v1h-5zM86 56h4v1h-4zM86 57h4v1h-4zM85 58h5v1h-5zM88 59h5v1h-5zM94 60h2v1h-2zM44 61h4v1h-4zM96 61h2v1h-2zM94 62h2v1h-2zM94 63h2v1h-2zM73 64h1v1h-1zM73 65h1v1h-1zM73 66h1v1h-1zM77 70h1v1h-1zM77 71h1v1h-1zM77 74h1v1h-1zM77 75h1v1h-1zM77 76h1v1h-1zM77 77h1v1h-1zM77 78h1v1h-1zM77 79h1v1h-1zM72 80h1v1h-1zM72 81h1v1h-1zM72 82h1v1h-1zM68 83h3v1h-3zM65 84h3v1h-3zM68 85h3v1h-3zM70 86h2v1h-2zM79 88h1v1h-1zM79 89h1v1h-1zM79 90h1v1h-1zM78 91h1v1h-1zM78 92h1v1h-1zM78 93h1v1h-1zM62 94h1v1h-1zM62 95h1v1h-1zM64 96h1v1h-1zM94 96h2v1h-2zM68 97h1v1h-1zM67 98h1v1h-1zM66 99h1v1h-1zM66 100h1v1h-1zM70 101h1v1h-1zM71 102h1v1h-1zM71 103h1v1h-1zM71 104h1v1h-1zM54 105h1v1h-1zM85 105h1v1h-1zM57 106h2v1h-2zM93 106h3v1h-3zM63 107h1v1h-1zM63 108h1v1h-1zM62 109h1v1h-1zM62 110h1v1h-1zM79 111h1v1h-1zM78 112h1v1h-1zM78 113h1v1h-1zM78 114h1v1h-1zM78 115h1v1h-1zM78 116h1v1h-1zM79 117h1v1h-1zM78 118h1v1h-1zM66 119h1v1h-1zM66 120h1v1h-1zM66 121h1v1h-1zM66 122h1v1h-1zM67 123h1v1h-1zM67 124h1v1h-1zM68 125h1v1h-1zM68 126h1v1h-1zM69 127h2v1h-2zM71 128h1v1h-1zM72 129h1v1h-1zM72 130h1v1h-1zM73 131h1v1h-1zM73 132h1v1h-1zM74 133h1v1h-1zM73 134h1v1h-1zM73 135h1v1h-1zM73 136h1v1h-1zM72 137h1v1h-1zM72 138h1v1h-1zM72 139h1v1h-1zM72 140h1v1h-1zM72 141h1v1h-1zM72 142h1v1h-1zM72 143h1v1h-1zM74 144h2v1h-2zM74 145h2v1h-2zM74 146h2v1h-2zM74 147h2v1h-2zM7 148h1v1h-1zM71 148h1v1h-1zM71 149h1v1h-1zM0 150h1v1h-1zM71 150h1v1h-1zM71 151h1v1h-1zM71 152h1v1h-1zM71 153h1v1h-1zM12 154h1v1h-1zM61 154h1v1h-1zM13 155h2v1h-2zM19 156h1v1h-1zM53 157h1v1h-1zM6 158h1v1h-1zM38 158h1v1h-1z"/>
<path fill="#35ffca" d="M72 0h2v1h-2zM74 1h1v1h-1zM76 2h1v1h-1zM75 3h2v1h-2zM76 4h2v1h-2zM78 5h2v1h-2zM79 6h1v1h-1zM80 7h1v1h-1zM79 8h2v1h-2zM79 9h2v1h-2zM79 10h2v1h-2zM74 11h2v1h-2zM75 12h2v1h-2zM76 13h1v1h-1zM75 14h2v1h-2zM74 15h2v1h-2zM59 16h2v1h-2zM59 17h2v1h-2zM59 18h2v1h-2zM59 19h2v1h-2zM59 20h2v1h-2zM59 21h2v1h-2zM56 22h3v1h-3zM56 23h3v1h-3zM56 24h3v1h-3zM56 25h3v1h-3zM54 26h4v1h-4zM65 27h1v1h-1zM65 28h1v1h-1zM62 29h2v1h-2zM62 30h2v1h-2zM62 31h2v1h-2zM69 32h2v1h-2zM30 33h1v1h-1zM45 33h1v1h-1zM90 33h1v1h-1zM35 34h2v1h-2zM45 34h1v1h-1zM38 35h2v1h-2zM49 35h4v1h-4zM84 36h2v1h-2zM81 37h2v1h-2zM82 38h3v1h-3zM87 39h2v1h-2zM39 40h2v1h-2zM85 40h2v1h-2zM35 41h2v1h-2zM43 41h2v1h-2zM84 41h2v1h-2zM32 42h1v1h-1zM47 42h1v1h-1zM89 42h1v1h-1zM33 43h1v1h-1zM47 43h2v1h-2zM92 43h1v1h-1zM34 44h1v1h-1zM47 44h2v1h-2zM93 44h2v1h-2zM40 45h5v1h-5zM40 46h2v1h-2zM97 46h3v1h-3zM92 47h2v1h-2zM36 48h2v1h-2zM43 48h2v1h-2zM95 48h2v1h-2zM35 49h2v1h-2zM44 49h2v1h-2zM94 49h2v1h-2zM38 50h2v1h-2zM41 50h3v1h-3zM91 50h2v1h-2zM38 51h2v1h-2zM41 51h3v1h-3zM90 51h3v1h-3zM36 52h2v1h-2zM42 52h1v1h-1zM88 52h1v1h-1zM36 53h2v1h-2zM42 53h1v1h-1zM86 53h2v1h-2zM50 54h7v1h-7zM74 54h7v1h-7zM59 55h3v1h-3zM83 55h5v1h-5zM83 56h3v1h-3zM83 57h3v1h-3zM79 58h6v1h-6zM83 59h5v1h-5zM90 60h4v1h-4zM40 61h4v1h-4zM48 61h2v1h-2zM94 61h2v1h-2zM90 62h4v1h-4zM90 63h4v1h-4zM72 64h1v1h-1zM72 65h1v1h-1zM72 66h1v1h-1zM75 67h1v1h-1zM75 68h1v1h-1zM75 69h1v1h-1zM76 70h1v1h-1zM76 71h1v1h-1zM77 72h1v1h-1zM77 73h1v1h-1zM76 74h1v1h-1zM76 75h1v1h-1zM76 76h1v1h-1zM76 77h1v1h-1zM76 78h1v1h-1zM76 79h1v1h-1zM70 80h2v1h-2zM70 81h2v1h-2zM70 82h2v1h-2zM65 83h3v1h-3zM63 84h2v1h-2zM66 85h2v1h-2zM68 86h2v1h-2zM80 87h1v1h-1zM78 88h1v1h-1zM77 91h1v1h-1zM77 92h1v1h-1zM77 93h1v1h-1zM61 94h1v1h-1zM61 95h1v1h-1zM63 96h1v1h-1zM96 96h2v1h-2zM67 97h1v1h-1zM66 98h1v1h-1zM65 99h1v1h-1zM65 100h1v1h-1zM69 101h1v1h-1zM70 102h1v1h-1zM70 103h1v1h-1zM69 104h2v1h-2zM53 105h1v1h-1zM86 105h2v1h-2zM55 106h2v1h-2zM96 106h2v1h-2zM62 107h1v1h-1zM62 108h1v1h-1zM61 109h1v1h-1zM61 110h1v1h-1zM78 111h1v1h-1zM77 112h1v1h-1zM77 113h1v1h-1zM77 114h1v1h-1zM77 115h1v1h-1zM77 116h1v1h-1zM3 117h1v1h-1zM78 117h1v1h-1zM0 118h1v1h-1zM77 118h1v1h-1zM64 119h2v1h-2zM64 120h2v1h-2zM64 121h2v1h-2zM65 122h1v1h-1zM66 123h1v1h-1zM66 124h1v1h-1zM67 125h1v1h-1zM67 126h1v1h-1zM68 127h1v1h-1zM70 128h1v1h-1zM71 129h1v1h-1zM71 130h1v1h-1zM72 131h1v1h-1zM72 132h1v1h-1zM73 133h1v1h-1zM72 134h1v1h-1zM72 135h1v1h-1zM72 136h1v1h-1zM71 137h1v1h-1zM71 138h1v1h-1zM71 139h1v1h-1zM71 140h1v1h-1zM71 141h1v1h-1zM0 142h1v1h-1zM71 142h1v1h-1zM71 143h1v1h-1zM73 144h1v1h-1zM73 145h1v1h-1zM7 146h1v1h-1zM73 146h1v1h-1zM7 147h1v1h-1zM73 147h1v1h-1zM70 148h1v1h-1zM7 149h1v1h-1zM70 149h1v1h-1zM1 150h1v1h-1zM69 150h2v1h-2zM0 151h1v1h-1zM69 151h2v1h-2zM69 152h2v1h-2zM69 153h2v1h-2zM13 154h1v1h-1zM48 154h1v1h-1zM62 154h1v1h-1zM15 155h3v1h-3zM20 156h2v1h-2zM24 157h1v1h-1zM54 157h1v1h-1zM3 158h3v1h-3zM39 158h1v1h-1z"/>
<path fill="#3cffc3" d="M71 0h1v1h-1zM73 1h1v1h-1zM75 2h1v1h-1zM74 3h1v1h-1zM75 4h1v1h-1zM77 5h1v1h-1zM78 6h1v1h-1zM79 7h1v1h-1zM76 8h3v1h-3zM77 9h2v1h-2zM77 10h2v1h-2zM72 11h2v1h-2zM73 12h2v1h-2zM74 13h2v1h-2zM73 14h2v1h-2zM73 15h1v1h-1zM57 16h2v1h-2zM57 17h2v1h-2zM57 18h2v1h-2zM57 19h2v1h-2zM57 20h2v1h-2zM57 21h2v1h-2zM53 22h3v1h-3zM53 23h3v1h-3zM53 24h3v1h-3zM53 25h3v1h-3zM51 26h3v1h-3zM64 27h1v1h-1zM64 28h1v1h-1zM61 29h1v1h-1zM61 30h1v1h-1zM61 31h1v1h-1zM66 32h3v1h-3zM29 33h1v1h-1zM46 33h1v1h-1zM89 33h1v1h-1zM33 34h2v1h-2zM46 34h1v1h-1zM88 34h1v1h-1zM37 35h1v1h-1zM53 35h4v1h-4zM81 36h3v1h-3zM79 37h2v1h-2zM40 38h1v1h-1zM80 38h2v1h-2zM38 39h4v1h-4zM85 39h2v1h-2zM37 40h2v1h-2zM41 40h2v1h-2zM84 40h1v1h-1zM33 41h2v1h-2zM45 41h2v1h-2zM82 41h2v1h-2zM31 42h1v1h-1zM48 42h1v1h-1zM87 42h2v1h-2zM32 43h1v1h-1zM49 43h2v1h-2zM90 43h2v1h-2zM33 44h1v1h-1zM49 44h2v1h-2zM92 44h1v1h-1zM38 45h2v1h-2zM45 45h7v1h-7zM97 45h3v1h-3zM38 46h2v1h-2zM42 46h4v1h-4zM95 46h2v1h-2zM40 47h1v1h-1zM90 47h2v1h-2zM33 48h3v1h-3zM45 48h3v1h-3zM93 48h2v1h-2zM33 49h2v1h-2zM46 49h2v1h-2zM92 49h2v1h-2zM35 50h3v1h-3zM44 50h3v1h-3zM88 50h3v1h-3zM35 51h3v1h-3zM44 51h2v1h-2zM88 51h2v1h-2zM33 52h3v1h-3zM43 52h2v1h-2zM86 52h2v1h-2zM33 53h3v1h-3zM43 53h2v1h-2zM85 53h1v1h-1zM48 54h2v1h-2zM81 54h7v1h-7zM49 55h10v1h-10zM62 55h21v1h-21zM79 56h4v1h-4zM78 57h5v1h-5zM58 58h21v1h-21zM55 59h11v1h-11zM75 59h8v1h-8zM48 60h5v1h-5zM87 60h3v1h-3zM38 61h2v1h-2zM50 61h3v1h-3zM91 61h3v1h-3zM40 62h3v1h-3zM87 62h3v1h-3zM40 63h3v1h-3zM87 63h3v1h-3zM70 64h2v1h-2zM70 65h2v1h-2zM70 66h2v1h-2zM74 67h1v1h-1zM74 68h1v1h-1zM74 69h1v1h-1zM76 72h1v1h-1zM76 73h1v1h-1zM74 77h2v1h-2zM74 78h2v1h-2zM74 79h2v1h-2zM68 80h2v1h-2zM68 81h2v1h-2zM68 82h2v1h-2zM63 83h2v1h-2zM60 84h3v1h-3zM64 85h2v1h-2zM66 86h2v1h-2zM79 87h1v1h-1zM78 89h1v1h-1zM78 90h1v1h-1zM76 91h1v1h-1zM76 92h1v1h-1zM76 93h1v1h-1zM62 96h1v1h-1zM98 96h2v1h-2zM66 97h1v1h-1zM65 98h1v1h-1zM64 99h1v1h-1zM64 100h1v1h-1zM68 101h1v1h-1zM69 102h1v1h-1zM69 103h1v1h-1zM68 104h1v1h-1zM52 105h1v1h-1zM88 105h1v1h-1zM54 106h1v1h-1zM98 106h2v1h-2zM61 107h1v1h-1zM61 108h1v1h-1zM59 109h2v1h-2zM59 110h2v1h-2zM76 116h1v1h-1zM77 117h1v1h-1zM1 118h1v1h-1zM76 118h1v1h-1zM63 119h1v1h-1zM63 120h1v1h-1zM63 121h1v1h-1zM64 122h1v1h-1zM64 123h2v1h-2zM65 124h1v1h-1zM66 125h1v1h-1zM66 126h1v1h-1zM67 127h1v1h-1zM69 128h1v1h-1zM70 129h1v1h-1zM70 130h1v1h-1zM71 131h1v1h-1zM71 132h1v1h-1zM72 133h1v1h-1zM71 134h1v1h-1zM71 135h1v1h-1zM71 136h1v1h-1zM70 137h1v1h-1zM70 138h1v1h-1zM70 139h1v1h-1zM70 140h1v1h-1zM70 141h1v1h-1zM70 142h1v1h-1zM70 143h1v1h-1zM72 144h1v1h-1zM72 145h1v1h-1zM72 146h1v1h-1zM72 147h1v1h-1zM69 148h1v1h-1zM69 149h1v1h-1zM2 150h1v1h-1zM68 150h1v1h-1zM1 151h1v1h-1zM68 151h1v1h-1zM68 152h1v1h-1zM68 153h1v1h-1zM14 154h1v1h-1zM63 154h1v1h-1zM18 155h2v1h-2zM22 156h1v1h-1zM1 158h2v1h-2z"/>
<path fill="#42ffbd" d="M69 0h2v1h-2zM72 1h1v1h-1zM74 2h1v1h-1zM72 3h2v1h-2zM73 4h2v1h-2zM76 5h1v1h-1zM77 6h1v1h-1zM78 7h1v1h-1zM44 8h2v1h-2zM74 8h2v1h-2zM76 9h1v1h-1zM40 10h2v1h-2zM76 10h1v1h-1zM70 11h2v1h-2zM71 12h2v1h-2zM73 13h1v1h-1zM71 14h2v1h-2zM71 15h2v1h-2zM56 16h1v1h-1zM56 17h1v1h-1zM56 18h1v1h-1zM56 19h1v1h-1zM56 20h1v1h-1zM56 21h1v1h-1zM51 22h2v1h-2zM51 23h2v1h-2zM51 24h2v1h-2zM51 25h2v1h-2zM48 26h3v1h-3zM63 27h1v1h-1zM63 28h1v1h-1zM60 29h1v1h-1zM60 30h1v1h-1zM59 31h2v1h-2zM64 32h2v1h-2zM88 33h1v1h-1zM32 34h1v1h-1zM47 34h1v1h-1zM87 34h1v1h-1zM36 35h1v1h-1zM57 35h3v1h-3zM79 36h2v1h-2zM77 37h2v1h-2zM38 38h2v1h-2zM41 38h2v1h-2zM78 38h2v1h-2zM34 39h4v1h-4zM42 39h2v1h-2zM83 39h2v1h-2zM34 40h3v1h-3zM43 40h2v1h-2zM82 40h2v1h-2zM32 41h1v1h-1zM47 41h2v1h-2zM80 41h2v1h-2zM30 42h1v1h-1zM49 42h2v1h-2zM85 42h2v1h-2zM31 43h1v1h-1zM51 43h1v1h-1zM88 43h2v1h-2zM32 44h1v1h-1zM51 44h2v1h-2zM90 44h2v1h-2zM35 45h3v1h-3zM52 45h4v1h-4zM95 45h2v1h-2zM35 46h3v1h-3zM46 46h5v1h-5zM93 46h2v1h-2zM38 47h2v1h-2zM41 47h6v1h-6zM87 47h3v1h-3zM32 48h1v1h-1zM48 48h3v1h-3zM90 48h3v1h-3zM32 49h1v1h-1zM48 49h3v1h-3zM89 49h3v1h-3zM33 50h2v1h-2zM47 50h4v1h-4zM85 50h3v1h-3zM33 51h2v1h-2zM46 51h3v1h-3zM85 51h3v1h-3zM32 52h1v1h-1zM45 52h1v1h-1zM84 52h2v1h-2zM32 53h1v1h-1zM45 53h1v1h-1zM83 53h2v1h-2zM46 54h2v1h-2zM88 54h12v1h-12zM45 55h4v1h-4zM74 56h5v1h-5zM60 57h18v1h-18zM50 58h8v1h-8zM46 59h9v1h-9zM66 59h9v1h-9zM42 60h6v1h-6zM53 60h8v1h-8zM83 60h4v1h-4zM37 61h1v1h-1zM53 61h3v1h-3zM85 61h6v1h-6zM39 62h1v1h-1zM43 62h10v1h-10zM84 62h3v1h-3zM39 63h1v1h-1zM43 63h10v1h-10zM84 63h3v1h-3zM68 64h2v1h-2zM68 65h2v1h-2zM68 66h2v1h-2zM73 67h1v1h-1zM73 68h1v1h-1zM73 69h1v1h-1zM75 70h1v1h-1zM75 71h1v1h-1zM75 74h1v1h-1zM75 75h1v1h-1zM75 76h1v1h-1zM73 77h1v1h-1zM73 78h1v1h-1zM73 79h1v1h-1zM67 80h1v1h-1zM65 81h3v1h-3zM65 82h3v1h-3zM60 83h3v1h-3zM58 84h2v1h-2zM62 85h2v1h-2zM65 86h1v1h-1zM77 88h1v1h-1zM77 89h1v1h-1zM77 90h1v1h-1zM60 94h1v1h-1zM60 95h1v1h-1zM61 96h1v1h-1zM65 97h1v1h-1zM64 98h1v1h-1zM63 99h1v1h-1zM63 100h1v1h-1zM67 101h1v1h-1zM68 102h1v1h-1zM68 103h1v1h-1zM67 104h1v1h-1zM51 105h1v1h-1zM89 105h1v1h-1zM53 106h1v1h-1zM59 107h2v1h-2zM59 108h2v1h-2zM58 109h1v1h-1zM58 110h1v1h-1zM77 111h1v1h-1zM76 112h1v1h-1zM76 113h1v1h-1zM76 114h1v1h-1zM76 115h1v1h-1zM74 116h2v1h-2zM76 117h1v1h-1zM2 118h1v1h-1zM75 118h1v1h-1zM62 119h1v1h-1zM62 120h1v1h-1zM62 121h1v1h-1zM63 122h1v1h-1zM63 123h1v1h-1zM64 124h1v1h-1zM65 125h1v1h-1zM65 126h1v1h-1zM66 127h1v1h-1zM68 128h1v1h-1zM69 129h1v1h-1zM69 130h1v1h-1zM70 131h1v1h-1zM70 132h1v1h-1zM71 133h1v1h-1zM70 134h1v1h-1zM70 135h1v1h-1zM70 136h1v1h-1zM69 137h1v1h-1zM69 138h1v1h-1zM69 139h1v1h-1zM69 140h1v1h-1zM69 141h1v1h-1zM1 142h1v1h-1zM69 142h1v1h-1zM69 143h1v1h-1zM71 144h1v1h-1zM0 145h1v1h-1zM71 145h1v1h-1zM8 146h1v1h-1zM71 146h1v1h-1zM8 147h1v1h-1zM71 147h1v1h-1zM8 148h1v1h-1zM68 148h1v1h-1zM8 149h1v1h-1zM68 149h1v1h-1zM3 150h1v1h-1zM67 150h1v1h-1zM2 151h1v1h-1zM67 151h1v1h-1zM0 152h1v1h-1zM67 152h1v1h-1zM67 153h1v1h-1zM15 154h2v1h-2zM47 154h1v1h-1zM64 154h1v1h-1zM20 155h5v1h-5zM23 156h1v1h-1zM55 157h1v1h-1zM0 158h1v1h-1zM40 158h1v1h-1z"/>
<path fill="#49ffb6" d="M68 0h1v1h-1zM70 1h2v1h-2zM72 2h2v1h-2zM71 3h1v1h-1zM72 4h1v1h-1zM74 5h2v1h-2zM76 6h1v1h-1zM77 7h1v1h-1zM40 8h4v1h-4zM46 8h1v1h-1zM72 8h2v1h-2zM74 9h2v1h-2zM39 10h1v1h-1zM42 10h3v1h-3zM74 10h2v1h-2zM68 11h2v1h-2zM70 12h1v1h-1zM71 13h2v1h-2zM70 14h1v1h-1zM69 15h2v1h-2zM54 16h2v1h-2zM54 17h2v1h-2zM54 18h2v1h-2zM54 19h2v1h-2zM54 20h2v1h-2zM54 21h2v1h-2zM48 22h3v1h-3zM49 23h2v1h-2zM49 24h2v1h-2zM49 25h2v1h-2zM45 26h3v1h-3zM62 27h1v1h-1zM62 28h1v1h-1zM59 29h1v1h-1zM59 30h1v1h-1zM58 31h1v1h-1zM61 32h3v1h-3zM28 33h1v1h-1zM47 33h1v1h-1zM87 33h1v1h-1zM31 34h1v1h-1zM86 34h1v1h-1zM34 35h2v1h-2zM60 35h2v1h-2zM38 36h5v1h-5zM76 36h3v1h-3zM38 37h5v1h-5zM75 37h2v1h-2zM36 38h2v1h-2zM43 38h3v1h-3zM76 38h2v1h-2zM33 39h1v1h-1zM44 39h2v1h-2zM81 39h2v1h-2zM33 40h1v1h-1zM45 40h2v1h-2zM80 40h2v1h-2zM31 41h1v1h-1zM49 41h2v1h-2zM79 41h1v1h-1zM29 42h1v1h-1zM51 42h1v1h-1zM84 42h1v1h-1zM30 43h1v1h-1zM52 43h2v1h-2zM86 43h2v1h-2zM31 44h1v1h-1zM53 44h1v1h-1zM88 44h2v1h-2zM33 45h2v1h-2zM56 45h3v1h-3zM92 45h3v1h-3zM33 46h2v1h-2zM51 46h3v1h-3zM89 46h4v1h-4zM35 47h3v1h-3zM47 47h5v1h-5zM85 47h2v1h-2zM31 48h1v1h-1zM51 48h1v1h-1zM87 48h3v1h-3zM31 49h1v1h-1zM51 49h1v1h-1zM87 49h2v1h-2zM32 50h1v1h-1zM51 50h2v1h-2zM83 50h2v1h-2zM32 51h1v1h-1zM49 51h2v1h-2zM83 51h2v1h-2zM31 52h1v1h-1zM46 52h2v1h-2zM82 52h2v1h-2zM31 53h1v1h-1zM46 53h2v1h-2zM81 53h2v1h-2zM45 54h1v1h-1zM40 55h5v1h-5zM56 56h18v1h-18zM47 57h13v1h-13zM40 58h10v1h-10zM40 59h6v1h-6zM39 60h3v1h-3zM61 60h4v1h-4zM78 60h5v1h-5zM35 61h2v1h-2zM56 61h3v1h-3zM82 61h3v1h-3zM37 62h2v1h-2zM53 62h4v1h-4zM82 62h2v1h-2zM37 63h2v1h-2zM53 63h4v1h-4zM82 63h2v1h-2zM66 64h2v1h-2zM66 65h2v1h-2zM66 66h2v1h-2zM72 67h1v1h-1zM72 68h1v1h-1zM72 69h1v1h-1zM74 70h1v1h-1zM74 71h1v1h-1zM75 72h1v1h-1zM75 73h1v1h-1zM74 74h1v1h-1zM74 75h1v1h-1zM74 76h1v1h-1zM72 77h1v1h-1zM72 78h1v1h-1zM72 79h1v1h-1zM65 80h2v1h-2zM62 81h3v1h-3zM62 82h3v1h-3zM58 83h2v1h-2zM56 84h2v1h-2zM60 85h2v1h-2zM63 86h2v1h-2zM78 87h1v1h-1zM76 88h1v1h-1zM75 91h1v1h-1zM75 92h1v1h-1zM75 93h1v1h-1zM59 95h1v1h-1zM59 96h2v1h-2zM64 97h1v1h-1zM63 98h1v1h-1zM62 99h1v1h-1zM62 100h1v1h-1zM66 101h1v1h-1zM67 102h1v1h-1zM67 103h1v1h-1zM66 104h1v1h-1zM50 105h1v1h-1zM90 105h1v1h-1zM52 106h1v1h-1zM58 107h1v1h-1zM58 108h1v1h-1zM56 109h2v1h-2zM56 110h2v1h-2zM76 111h1v1h-1zM74 112h2v1h-2zM74 113h2v1h-2zM74 114h2v1h-2zM74 115h2v1h-2zM73 116h1v1h-1zM4 117h1v1h-1zM74 117h2v1h-2zM74 118h1v1h-1zM61 119h1v1h-1zM61 120h1v1h-1zM61 121h1v1h-1zM62 122h1v1h-1zM62 123h1v1h-1zM63 124h1v1h-1zM64 125h1v1h-1zM64 126h1v1h-1zM65 127h1v1h-1zM67 128h1v1h-1zM68 129h1v1h-1zM68 130h1v1h-1zM69 131h1v1h-1zM69 132h1v1h-1zM70 133h1v1h-1zM69 134h1v1h-1zM69 135h1v1h-1zM69 136h1v1h-1zM68 137h1v1h-1zM68 138h1v1h-1zM68 139h1v1h-1zM68 140h1v1h-1zM68 141h1v1h-1zM68 142h1v1h-1zM68 143h1v1h-1zM69 144h2v1h-2zM1 145h1v1h-1zM70 145h1v1h-1zM70 146h1v1h-1zM70 147h1v1h-1zM67 148h1v1h-1zM67 149h1v1h-1zM66 150h1v1h-1zM66 151h1v1h-1zM1 152h1v1h-1zM66 152h1v1h-1zM66 153h1v1h-1zM17 154h1v1h-1zM25 155h5v1h-5zM31 155h19v1h-19zM24 156h1v1h-1zM56 157h1v1h-1zM41 158h1v1h-1z"/>
<path fill="#4fffb0" d="M66 0h2v1h-2zM69 1h1v1h-1zM71 2h1v1h-1zM69 3h2v1h-2zM71 4h1v1h-1zM73 5h1v1h-1zM38 6h2v1h-2zM75 6h1v1h-1zM40 7h1v1h-1zM76 7h1v1h-1zM39 8h1v1h-1zM47 8h2v1h-2zM70 8h2v1h-2zM40 9h2v1h-2zM72 9h2v1h-2zM37 10h2v1h-2zM45 10h2v1h-2zM72 10h2v1h-2zM56 11h12v1h-12zM68 12h2v1h-2zM69 13h2v1h-2zM68 14h2v1h-2zM68 15h1v1h-1zM53 16h1v1h-1zM53 17h1v1h-1zM53 18h1v1h-1zM53 19h1v1h-1zM53 20h1v1h-1zM53 21h1v1h-1zM45 22h3v1h-3zM47 23h2v1h-2zM47 24h2v1h-2zM47 25h2v1h-2zM43 26h2v1h-2zM61 27h1v1h-1zM61 28h1v1h-1zM58 29h1v1h-1zM58 30h1v1h-1zM57 31h1v1h-1zM59 32h2v1h-2zM48 33h1v1h-1zM86 33h1v1h-1zM30 34h1v1h-1zM48 34h1v1h-1zM85 34h1v1h-1zM33 35h1v1h-1zM62 35h3v1h-3zM35 36h3v1h-3zM43 36h3v1h-3zM74 36h2v1h-2zM35 37h3v1h-3zM43 37h3v1h-3zM73 37h2v1h-2zM34 38h2v1h-2zM46 38h3v1h-3zM74 38h2v1h-2zM31 39h2v1h-2zM46 39h2v1h-2zM79 39h2v1h-2zM32 40h1v1h-1zM47 40h2v1h-2zM78 40h2v1h-2zM30 41h1v1h-1zM51 41h2v1h-2zM77 41h2v1h-2zM52 42h1v1h-1zM82 42h2v1h-2zM29 43h1v1h-1zM54 43h1v1h-1zM84 43h2v1h-2zM30 44h1v1h-1zM54 44h2v1h-2zM86 44h2v1h-2zM32 45h1v1h-1zM59 45h3v1h-3zM88 45h4v1h-4zM32 46h1v1h-1zM54 46h4v1h-4zM86 46h3v1h-3zM33 47h2v1h-2zM52 47h3v1h-3zM82 47h3v1h-3zM30 48h1v1h-1zM52 48h2v1h-2zM84 48h3v1h-3zM30 49h1v1h-1zM52 49h2v1h-2zM84 49h3v1h-3zM31 50h1v1h-1zM53 50h3v1h-3zM81 50h2v1h-2zM31 51h1v1h-1zM51 51h2v1h-2zM81 51h2v1h-2zM30 52h1v1h-1zM48 52h1v1h-1zM80 52h2v1h-2zM30 53h1v1h-1zM48 53h1v1h-1zM79 53h2v1h-2zM43 54h2v1h-2zM39 55h1v1h-1zM44 56h12v1h-12zM40 57h7v1h-7zM39 58h1v1h-1zM39 59h1v1h-1zM38 60h1v1h-1zM65 60h5v1h-5zM71 60h7v1h-7zM34 61h1v1h-1zM59 61h4v1h-4zM78 61h4v1h-4zM35 62h2v1h-2zM57 62h3v1h-3zM78 62h4v1h-4zM35 63h2v1h-2zM57 63h3v1h-3zM78 63h4v1h-4zM65 64h1v1h-1zM65 65h1v1h-1zM65 66h1v1h-1zM71 67h1v1h-1zM71 68h1v1h-1zM71 69h1v1h-1zM73 70h1v1h-1zM73 71h1v1h-1zM74 72h1v1h-1zM74 73h1v1h-1zM73 74h1v1h-1zM73 75h1v1h-1zM73 76h1v1h-1zM71 77h1v1h-1zM71 78h1v1h-1zM71 79h1v1h-1zM64 80h1v1h-1zM60 81h2v1h-2zM60 82h2v1h-2zM56 83h2v1h-2zM55 84h1v1h-1zM58 85h2v1h-2zM62 86h1v1h-1zM76 89h1v1h-1zM76 90h1v1h-1zM74 91h1v1h-1zM74 92h1v1h-1zM74 93h1v1h-1zM59 94h1v1h-1zM58 96h1v1h-1zM63 97h1v1h-1zM62 98h1v1h-1zM61 99h1v1h-1zM61 100h1v1h-1zM66 102h1v1h-1zM66 103h1v1h-1zM65 104h1v1h-1zM91 105h2v1h-2zM51 106h1v1h-1zM56 107h2v1h-2zM56 108h2v1h-2zM55 109h1v1h-1zM55 110h1v1h-1zM73 112h1v1h-1zM73 113h1v1h-1zM73 114h1v1h-1zM73 115h1v1h-1zM72 116h1v1h-1zM73 117h1v1h-1zM3 118h1v1h-1zM73 118h1v1h-1zM59 119h2v1h-2zM59 120h2v1h-2zM59 121h2v1h-2zM61 122h1v1h-1zM61 123h1v1h-1zM62 124h1v1h-1zM63 125h1v1h-1zM63 126h1v1h-1zM64 127h1v1h-1zM66 128h1v1h-1zM67 129h1v1h-1zM67 130h1v1h-1zM68 131h1v1h-1zM68 132h1v1h-1zM69 133h1v1h-1zM68 134h1v1h-1zM68 135h1v1h-1zM68 136h1v1h-1zM67 137h1v1h-1zM67 138h1v1h-1zM67 139h1v1h-1zM67 140h1v1h-1zM67 141h1v1h-1zM2 142h1v1h-1zM67 142h1v1h-1zM0 143h1v1h-1zM67 143h1v1h-1zM68 144h1v1h-1zM2 145h1v1h-1zM69 145h1v1h-1zM9 146h1v1h-1zM69 146h1v1h-1zM9 147h1v1h-1zM69 147h1v1h-1zM9 148h1v1h-1zM66 148h1v1h-1zM9 149h1v1h-1zM66 149h1v1h-1zM4 150h1v1h-1zM65 150h1v1h-1zM3 151h1v1h-1zM65 151h1v1h-1zM2 152h1v1h-1zM65 152h1v1h-1zM0 153h1v1h-1zM65 153h1v1h-1zM18 154h1v1h-1zM46 154h1v1h-1zM65 154h1v1h-1zM30 155h1v1h-1zM50 155h2v1h-2zM25 156h2v1h-2zM23 157h1v1h-1z"/>
<path fill="#56ffa9" d="M65 0h1v1h-1zM68 1h1v1h-1zM70 2h1v1h-1zM68 3h1v1h-1zM69 4h2v1h-2zM72 5h1v1h-1zM36 6h2v1h-2zM40 6h2v1h-2zM74 6h1v1h-1zM38 7h2v1h-2zM41 7h1v1h-1zM75 7h1v1h-1zM38 8h1v1h-1zM49 8h1v1h-1zM68 8h2v1h-2zM38 9h2v1h-2zM42 9h5v1h-5zM71 9h1v1h-1zM36 10h1v1h-1zM47 10h3v1h-3zM71 10h1v1h-1zM51 11h5v1h-5zM61 12h7v1h-7zM68 13h1v1h-1zM61 14h7v1h-7zM61 15h7v1h-7zM52 16h1v1h-1zM52 17h1v1h-1zM52 18h1v1h-1zM52 19h1v1h-1zM52 20h1v1h-1zM52 21h1v1h-1zM43 22h2v1h-2zM45 23h2v1h-2zM45 24h2v1h-2zM45 25h2v1h-2zM42 26h1v1h-1zM60 27h1v1h-1zM60 28h1v1h-1zM57 29h1v1h-1zM57 30h1v1h-1zM56 31h1v1h-1zM58 32h1v1h-1zM27 33h1v1h-1zM84 33h2v1h-2zM29 34h1v1h-1zM49 34h1v1h-1zM83 34h2v1h-2zM32 35h1v1h-1zM65 35h4v1h-4zM33 36h2v1h-2zM46 36h3v1h-3zM72 36h2v1h-2zM33 37h2v1h-2zM46 37h3v1h-3zM72 37h1v1h-1zM33 38h1v1h-1zM49 38h2v1h-2zM72 38h2v1h-2zM30 39h1v1h-1zM48 39h2v1h-2zM76 39h3v1h-3zM31 40h1v1h-1zM49 40h2v1h-2zM76 40h2v1h-2zM29 41h1v1h-1zM53 41h1v1h-1zM75 41h2v1h-2zM28 42h1v1h-1zM53 42h1v1h-1zM80 42h2v1h-2zM55 43h1v1h-1zM82 43h2v1h-2zM29 44h1v1h-1zM56 44h2v1h-2zM84 44h2v1h-2zM31 45h1v1h-1zM62 45h2v1h-2zM85 45h3v1h-3zM31 46h1v1h-1zM58 46h3v1h-3zM82 46h4v1h-4zM32 47h1v1h-1zM55 47h4v1h-4zM79 47h3v1h-3zM54 48h1v1h-1zM81 48h3v1h-3zM54 49h2v1h-2zM82 49h2v1h-2zM30 50h1v1h-1zM56 50h3v1h-3zM78 50h3v1h-3zM30 51h1v1h-1zM53 51h2v1h-2zM79 51h2v1h-2zM49 52h2v1h-2zM78 52h2v1h-2zM49 53h2v1h-2zM76 53h3v1h-3zM42 54h1v1h-1zM38 55h1v1h-1zM39 56h5v1h-5zM38 57h2v1h-2zM37 58h2v1h-2zM37 59h2v1h-2zM36 60h2v1h-2zM70 60h1v1h-1zM33 61h1v1h-1zM63 61h15v1h-15zM34 62h1v1h-1zM60 62h7v1h-7zM73 62h5v1h-5zM34 63h1v1h-1zM60 63h7v1h-7zM73 63h5v1h-5zM63 64h2v1h-2zM63 65h2v1h-2zM63 66h2v1h-2zM69 67h2v1h-2zM69 68h2v1h-2zM69 69h2v1h-2zM72 70h1v1h-1zM72 71h1v1h-1zM73 72h1v1h-1zM73 73h1v1h-1zM72 74h1v1h-1zM72 75h1v1h-1zM72 76h1v1h-1zM69 77h2v1h-2zM69 78h2v1h-2zM69 79h2v1h-2zM63 80h1v1h-1zM57 81h3v1h-3zM57 82h3v1h-3zM55 83h1v1h-1zM53 84h2v1h-2zM56 85h2v1h-2zM60 86h2v1h-2zM77 87h1v1h-1zM75 88h1v1h-1zM73 91h1v1h-1zM73 92h1v1h-1zM73 93h1v1h-1zM58 95h1v1h-1zM57 96h1v1h-1zM62 97h1v1h-1zM61 98h1v1h-1zM65 101h1v1h-1zM65 102h1v1h-1zM65 103h1v1h-1zM64 104h1v1h-1zM93 105h1v1h-1zM50 106h1v1h-1zM55 107h1v1h-1zM55 108h1v1h-1zM54 109h1v1h-1zM54 110h1v1h-1zM74 111h2v1h-2zM72 112h1v1h-1zM72 113h1v1h-1zM0 114h1v1h-1zM72 114h1v1h-1zM72 115h1v1h-1zM71 116h1v1h-1zM72 117h1v1h-1zM72 118h1v1h-1zM58 119h1v1h-1zM58 120h1v1h-1zM58 121h1v1h-1zM59 122h2v1h-2zM59 123h2v1h-2zM61 124h1v1h-1zM62 125h1v1h-1zM62 126h1v1h-1zM63 127h1v1h-1zM65 128h1v1h-1zM66 129h1v1h-1zM66 130h1v1h-1zM67 131h1v1h-1zM67 132h1v1h-1zM68 133h1v1h-1zM67 134h1v1h-1zM67 135h1v1h-1zM67 136h1v1h-1zM66 137h1v1h-1zM66 138h1v1h-1zM66 139h1v1h-1zM66 140h1v1h-1zM66 141h1v1h-1zM66 142h1v1h-1zM66 143h1v1h-1zM67 144h1v1h-1zM3 145h1v1h-1zM68 145h1v1h-1zM68 146h1v1h-1zM68 147h1v1h-1zM65 148h1v1h-1zM65 149h1v1h-1zM64 150h1v1h-1zM4 151h1v1h-1zM64 151h1v1h-1zM64 152h1v1h-1zM1 153h1v1h-1zM64 153h1v1h-1zM19 154h1v1h-1zM66 154h1v1h-1zM52 155h1v1h-1zM27 156h2v1h-2zM57 157h1v1h-1zM42 158h1v1h-1z"/>
<path fill="#5cffa3" d="M63 0h2v1h-2zM65 1h3v1h-3zM68 2h2v1h-2zM65 3h3v1h-3zM67 4h2v1h-2zM40 5h1v1h-1zM70 5h2v1h-2zM34 6h2v1h-2zM42 6h2v1h-2zM72 6h2v1h-2zM37 7h1v1h-1zM42 7h2v1h-2zM73 7h2v1h-2zM37 8h1v1h-1zM50 8h3v1h-3zM65 8h3v1h-3zM37 9h1v1h-1zM47 9h4v1h-4zM69 9h2v1h-2zM34 10h2v1h-2zM50 10h4v1h-4zM69 10h2v1h-2zM44 11h7v1h-7zM50 12h11v1h-11zM45 13h23v1h-23zM40 14h21v1h-21zM40 15h21v1h-21zM50 16h2v1h-2zM50 17h2v1h-2zM50 18h2v1h-2zM50 19h2v1h-2zM50 20h2v1h-2zM50 21h2v1h-2zM42 22h1v1h-1zM44 23h1v1h-1zM44 24h1v1h-1zM43 25h2v1h-2zM40 26h2v1h-2zM58 27h2v1h-2zM58 28h2v1h-2zM55 29h2v1h-2zM55 30h2v1h-2zM54 31h2v1h-2zM56 32h2v1h-2zM26 33h1v1h-1zM49 33h1v1h-1zM82 33h2v1h-2zM50 34h1v1h-1zM82 34h1v1h-1zM31 35h1v1h-1zM69 35h3v1h-3zM32 36h1v1h-1zM49 36h3v1h-3zM70 36h2v1h-2zM32 37h1v1h-1zM49 37h3v1h-3zM70 37h2v1h-2zM32 38h1v1h-1zM51 38h4v1h-4zM70 38h2v1h-2zM29 39h1v1h-1zM50 39h2v1h-2zM74 39h2v1h-2zM30 40h1v1h-1zM51 40h2v1h-2zM74 40h2v1h-2zM28 41h1v1h-1zM54 41h2v1h-2zM73 41h2v1h-2zM27 42h1v1h-1zM54 42h1v1h-1zM78 42h2v1h-2zM28 43h1v1h-1zM56 43h2v1h-2zM80 43h2v1h-2zM58 44h1v1h-1zM82 44h2v1h-2zM30 45h1v1h-1zM64 45h2v1h-2zM81 45h4v1h-4zM30 46h1v1h-1zM61 46h4v1h-4zM79 46h3v1h-3zM31 47h1v1h-1zM59 47h3v1h-3zM76 47h3v1h-3zM29 48h1v1h-1zM55 48h2v1h-2zM78 48h3v1h-3zM29 49h1v1h-1zM56 49h2v1h-2zM79 49h3v1h-3zM29 50h1v1h-1zM59 50h3v1h-3zM76 50h2v1h-2zM29 51h1v1h-1zM55 51h2v1h-2zM77 51h2v1h-2zM29 52h1v1h-1zM51 52h1v1h-1zM76 52h2v1h-2zM29 53h1v1h-1zM51 53h1v1h-1zM74 53h2v1h-2zM41 54h1v1h-1zM36 55h2v1h-2zM37 56h2v1h-2zM37 57h1v1h-1zM35 58h2v1h-2zM35 59h2v1h-2zM34 60h2v1h-2zM32 61h1v1h-1zM32 62h2v1h-2zM67 62h6v1h-6zM32 63h2v1h-2zM67 63h6v1h-6zM62 64h1v1h-1zM62 65h1v1h-1zM62 66h1v1h-1zM68 67h1v1h-1zM68 68h1v1h-1zM68 69h1v1h-1zM71 70h1v1h-1zM71 71h1v1h-1zM72 72h1v1h-1zM72 73h1v1h-1zM71 74h1v1h-1zM71 75h1v1h-1zM71 76h1v1h-1zM68 77h1v1h-1zM68 78h1v1h-1zM68 79h1v1h-1zM62 80h1v1h-1zM56 81h1v1h-1zM56 82h1v1h-1zM53 83h2v1h-2zM52 84h1v1h-1zM55 85h1v1h-1zM58 86h2v1h-2zM74 88h1v1h-1zM75 89h1v1h-1zM75 90h1v1h-1zM72 91h1v1h-1zM72 92h1v1h-1zM72 93h1v1h-1zM0 94h1v1h-1zM58 94h1v1h-1zM57 95h1v1h-1zM56 96h1v1h-1zM61 97h1v1h-1zM60 98h1v1h-1zM60 99h1v1h-1zM60 100h1v1h-1zM64 101h1v1h-1zM64 102h1v1h-1zM64 103h1v1h-1zM63 104h1v1h-1zM49 105h1v1h-1zM94 105h1v1h-1zM49 106h1v1h-1zM54 107h1v1h-1zM54 108h1v1h-1zM0 111h1v1h-1zM73 111h1v1h-1zM71 112h1v1h-1zM0 113h1v1h-1zM71 113h1v1h-1zM1 114h1v1h-1zM71 114h1v1h-1zM71 115h1v1h-1zM70 116h1v1h-1zM5 117h1v1h-1zM71 117h1v1h-1zM4 118h1v1h-1zM71 118h1v1h-1zM56 119h2v1h-2zM56 120h2v1h-2zM56 121h2v1h-2zM58 122h1v1h-1zM58 123h1v1h-1zM59 124h2v1h-2zM61 125h1v1h-1zM61 126h1v1h-1zM62 127h1v1h-1zM64 128h1v1h-1zM65 129h1v1h-1zM65 130h1v1h-1zM66 131h1v1h-1zM66 132h1v1h-1zM67 133h1v1h-1zM66 134h1v1h-1zM66 135h1v1h-1zM66 136h1v1h-1zM65 137h1v1h-1zM65 138h1v1h-1zM65 139h1v1h-1zM65 140h1v1h-1zM0 141h1v1h-1zM65 141h1v1h-1zM65 142h1v1h-1zM1 143h1v1h-1zM65 143h1v1h-1zM66 144h1v1h-1zM4 145h1v1h-1zM67 145h1v1h-1zM67 146h1v1h-1zM67 147h1v1h-1zM64 148h1v1h-1zM64 149h1v1h-1zM5 150h1v1h-1zM63 150h1v1h-1zM63 151h1v1h-1zM3 152h1v1h-1zM63 152h1v1h-1zM2 153h1v1h-1zM63 153h1v1h-1zM20 154h2v1h-2zM45 154h1v1h-1zM67 154h1v1h-1zM53 155h1v1h-1zM29 156h1v1h-1zM22 157h1v1h-1zM58 157h1v1h-1zM43 158h1v1h-1z"/>
<path fill="#63ff9c" d="M61 0h2v1h-2zM63 1h2v1h-2zM66 2h2v1h-2zM62 3h3v1h-3zM62 4h5v1h-5zM38 5h2v1h-2zM41 5h2v1h-2zM68 5h2v1h-2zM33 6h1v1h-1zM44 6h3v1h-3zM71 6h1v1h-1zM36 7h1v1h-1zM44 7h2v1h-2zM72 7h1v1h-1zM53 8h5v1h-5zM62 8h3v1h-3zM36 9h1v1h-1zM51 9h7v1h-7zM64 9h5v1h-5zM33 10h1v1h-1zM54 10h5v1h-5zM64 10h5v1h-5zM40 11h4v1h-4zM45 12h5v1h-5zM40 13h5v1h-5zM39 14h1v1h-1zM39 15h1v1h-1zM48 16h2v1h-2zM48 17h2v1h-2zM48 18h2v1h-2zM48 19h2v1h-2zM48 20h2v1h-2zM48 21h2v1h-2zM40 22h2v1h-2zM43 23h1v1h-1zM43 24h1v1h-1zM41 25h2v1h-2zM39 26h1v1h-1zM57 27h1v1h-1zM57 28h1v1h-1zM54 29h1v1h-1zM54 30h1v1h-1zM53 31h1v1h-1zM54 32h2v1h-2zM50 33h1v1h-1zM81 33h1v1h-1zM28 34h1v1h-1zM51 34h1v1h-1zM80 34h2v1h-2zM30 35h1v1h-1zM72 35h4v1h-4zM31 36h1v1h-1zM52 36h4v1h-4zM69 36h1v1h-1zM31 37h1v1h-1zM52 37h4v1h-4zM68 37h2v1h-2zM31 38h1v1h-1zM55 38h4v1h-4zM69 38h1v1h-1zM28 39h1v1h-1zM52 39h2v1h-2zM72 39h2v1h-2zM29 40h1v1h-1zM53 40h2v1h-2zM72 40h2v1h-2zM56 41h1v1h-1zM70 41h3v1h-3zM55 42h1v1h-1zM76 42h2v1h-2zM27 43h1v1h-1zM58 43h1v1h-1zM78 43h2v1h-2zM28 44h1v1h-1zM59 44h2v1h-2zM79 44h3v1h-3zM66 45h3v1h-3zM77 45h4v1h-4zM65 46h14v1h-14zM30 47h1v1h-1zM62 47h2v1h-2zM72 47h4v1h-4zM28 48h1v1h-1zM57 48h2v1h-2zM75 48h3v1h-3zM28 49h1v1h-1zM58 49h2v1h-2zM77 49h2v1h-2zM28 50h1v1h-1zM62 50h4v1h-4zM71 50h5v1h-5zM28 51h1v1h-1zM57 51h2v1h-2zM75 51h2v1h-2zM28 52h1v1h-1zM52 52h1v1h-1zM74 52h2v1h-2zM28 53h1v1h-1zM52 53h1v1h-1zM72 53h2v1h-2zM40 54h1v1h-1zM35 55h1v1h-1zM35 56h2v1h-2zM35 57h2v1h-2zM34 58h1v1h-1zM34 59h1v1h-1zM33 60h1v1h-1zM31 61h1v1h-1zM31 62h1v1h-1zM31 63h1v1h-1zM60 64h2v1h-2zM60 65h2v1h-2zM60 66h2v1h-2zM66 67h2v1h-2zM66 68h2v1h-2zM66 69h2v1h-2zM69 70h2v1h-2zM70 71h1v1h-1zM71 72h1v1h-1zM71 73h1v1h-1zM69 74h2v1h-2zM69 75h2v1h-2zM69 76h2v1h-2zM57 77h11v1h-11zM57 78h11v1h-11zM57 79h11v1h-11zM61 80h1v1h-1zM54 81h2v1h-2zM54 82h2v1h-2zM52 83h1v1h-1zM51 84h1v1h-1zM53 85h2v1h-2zM57 86h1v1h-1zM76 87h1v1h-1zM73 88h1v1h-1zM74 89h1v1h-1zM74 90h1v1h-1zM71 91h1v1h-1zM71 92h1v1h-1zM71 93h1v1h-1zM1 94h1v1h-1zM55 96h1v1h-1zM60 97h1v1h-1zM59 98h1v1h-1zM59 99h1v1h-1zM59 100h1v1h-1zM63 101h1v1h-1zM63 102h1v1h-1zM63 103h1v1h-1zM62 104h1v1h-1zM95 105h1v1h-1zM53 109h1v1h-1zM53 110h1v1h-1zM1 111h1v1h-1zM72 111h1v1h-1zM0 112h1v1h-1zM69 112h2v1h-2zM1 113h1v1h-1zM69 113h2v1h-2zM2 114h1v1h-1zM69 114h2v1h-2zM69 115h2v1h-2zM69 116h1v1h-1zM6 117h1v1h-1zM69 117h2v1h-2zM70 118h1v1h-1zM55 119h1v1h-1zM55 120h1v1h-1zM55 121h1v1h-1zM56 122h2v1h-2zM57 123h1v1h-1zM58 124h1v1h-1zM59 125h2v1h-2zM59 126h2v1h-2zM61 127h1v1h-1zM63 128h1v1h-1zM64 129h1v1h-1zM64 130h1v1h-1zM65 131h1v1h-1zM65 132h1v1h-1zM66 133h1v1h-1zM65 134h1v1h-1zM65 135h1v1h-1zM65 136h1v1h-1zM64 137h1v1h-1zM64 138h1v1h-1zM64 139h1v1h-1zM64 140h1v1h-1zM1 141h1v1h-1zM64 141h1v1h-1zM3 142h1v1h-1zM64 142h1v1h-1zM64 143h1v1h-1zM65 144h1v1h-1zM5 145h1v1h-1zM66 145h1v1h-1zM10 146h1v1h-1zM66 146h1v1h-1zM10 147h1v1h-1zM66 147h1v1h-1zM10 148h1v1h-1zM63 148h1v1h-1zM10 149h1v1h-1zM63 149h1v1h-1zM62 150h1v1h-1zM5 151h1v1h-1zM62 151h1v1h-1zM4 152h1v1h-1zM62 152h1v1h-1zM62 153h1v1h-1zM22 154h1v1h-1zM44 154h1v1h-1zM68 154h1v1h-1zM54 155h1v1h-1zM30 156h10v1h-10z"/>
<path fill="#69ff96" d="M59 0h2v1h-2zM61 1h2v1h-2zM64 2h2v1h-2zM58 3h4v1h-4zM58 4h4v1h-4zM36 5h2v1h-2zM43 5h4v1h-4zM67 5h1v1h-1zM32 6h1v1h-1zM47 6h1v1h-1zM70 6h1v1h-1zM34 7h2v1h-2zM46 7h2v1h-2zM71 7h1v1h-1zM36 8h1v1h-1zM58 8h4v1h-4zM34 9h2v1h-2zM58 9h6v1h-6zM32 10h1v1h-1zM59 10h5v1h-5zM38 11h2v1h-2zM43 12h2v1h-2zM38 13h2v1h-2zM38 14h1v1h-1zM38 15h1v1h-1zM47 16h1v1h-1zM47 17h1v1h-1zM47 18h1v1h-1zM47 19h1v1h-1zM47 20h1v1h-1zM47 21h1v1h-1zM39 22h1v1h-1zM41 23h2v1h-2zM41 24h2v1h-2zM40 25h1v1h-1zM38 26h1v1h-1zM56 27h1v1h-1zM56 28h1v1h-1zM53 29h1v1h-1zM53 30h1v1h-1zM52 31h1v1h-1zM52 32h2v1h-2zM25 33h1v1h-1zM51 33h1v1h-1zM79 33h2v1h-2zM27 34h1v1h-1zM52 34h1v1h-1zM79 34h1v1h-1zM76 35h5v1h-5zM30 36h1v1h-1zM56 36h4v1h-4zM63 36h6v1h-6zM30 37h1v1h-1zM56 37h4v1h-4zM63 37h5v1h-5zM30 38h1v1h-1zM59 38h10v1h-10zM54 39h2v1h-2zM70 39h2v1h-2zM28 40h1v1h-1zM55 40h1v1h-1zM70 40h2v1h-2zM27 41h1v1h-1zM57 41h2v1h-2zM68 41h2v1h-2zM26 42h1v1h-1zM56 42h1v1h-1zM75 42h1v1h-1zM59 43h1v1h-1zM76 43h2v1h-2zM27 44h1v1h-1zM61 44h2v1h-2zM77 44h2v1h-2zM29 45h1v1h-1zM69 45h8v1h-8zM29 46h1v1h-1zM29 47h1v1h-1zM64 47h3v1h-3zM68 47h4v1h-4zM27 48h1v1h-1zM59 48h3v1h-3zM70 48h5v1h-5zM27 49h1v1h-1zM60 49h2v1h-2zM74 49h3v1h-3zM27 50h1v1h-1zM66 50h5v1h-5zM27 51h1v1h-1zM59 51h4v1h-4zM71 51h4v1h-4zM27 52h1v1h-1zM53 52h1v1h-1zM71 52h3v1h-3zM27 53h1v1h-1zM53 53h1v1h-1zM70 53h2v1h-2zM38 54h2v1h-2zM33 55h2v1h-2zM33 56h2v1h-2zM33 57h2v1h-2zM32 58h2v1h-2zM32 59h2v1h-2zM32 60h1v1h-1zM30 61h1v1h-1zM30 62h1v1h-1zM30 63h1v1h-1zM59 64h1v1h-1zM59 65h1v1h-1zM59 66h1v1h-1zM64 67h2v1h-2zM64 68h2v1h-2zM64 69h2v1h-2zM68 70h1v1h-1zM69 71h1v1h-1zM70 72h1v1h-1zM70 73h1v1h-1zM68 74h1v1h-1zM68 75h1v1h-1zM68 76h1v1h-1zM54 77h3v1h-3zM54 78h3v1h-3zM54 79h3v1h-3zM59 80h2v1h-2zM52 81h2v1h-2zM52 82h2v1h-2zM51 83h1v1h-1zM49 84h2v1h-2zM52 85h1v1h-1zM56 86h1v1h-1zM0 87h2v1h-2zM72 88h1v1h-1zM73 89h1v1h-1zM73 90h1v1h-1zM70 91h1v1h-1zM70 92h1v1h-1zM70 93h1v1h-1zM2 94h1v1h-1zM57 94h1v1h-1zM56 95h1v1h-1zM59 97h1v1h-1zM58 98h1v1h-1zM58 99h1v1h-1zM58 100h1v1h-1zM62 101h1v1h-1zM62 102h1v1h-1zM62 103h1v1h-1zM61 104h1v1h-1zM96 105h2v1h-2zM48 106h1v1h-1zM53 107h1v1h-1zM53 108h1v1h-1zM52 109h1v1h-1zM52 110h1v1h-1zM2 111h1v1h-1zM71 111h1v1h-1zM1 112h1v1h-1zM68 112h1v1h-1zM2 113h1v1h-1zM68 113h1v1h-1zM3 114h1v1h-1zM68 114h1v1h-1zM68 115h1v1h-1zM68 116h1v1h-1zM7 117h1v1h-1zM68 117h1v1h-1zM69 118h1v1h-1zM54 119h1v1h-1zM54 120h1v1h-1zM54 121h1v1h-1zM55 122h1v1h-1zM56 123h1v1h-1zM57 124h1v1h-1zM58 125h1v1h-1zM58 126h1v1h-1zM60 127h1v1h-1zM62 128h1v1h-1zM63 129h1v1h-1zM63 130h1v1h-1zM64 131h1v1h-1zM64 132h1v1h-1zM65 133h1v1h-1zM64 134h1v1h-1zM64 135h1v1h-1zM64 136h1v1h-1zM63 137h1v1h-1zM63 138h1v1h-1zM63 139h1v1h-1zM63 140h1v1h-1zM63 141h1v1h-1zM63 142h1v1h-1zM2 143h1v1h-1zM63 143h1v1h-1zM64 144h1v1h-1zM6 145h1v1h-1zM65 145h1v1h-1zM11 146h1v1h-1zM65 146h1v1h-1zM11 147h1v1h-1zM65 147h1v1h-1zM62 148h1v1h-1zM62 149h1v1h-1zM6 150h1v1h-1zM61 150h1v1h-1zM61 151h1v1h-1zM5 152h1v1h-1zM61 152h1v1h-1zM3 153h1v1h-1zM61 153h1v1h-1zM23 154h1v1h-1zM43 154h1v1h-1zM69 154h1v1h-1zM55 155h2v1h-2zM40 156h10v1h-10zM59 157h1v1h-1zM44 158h1v1h-1z"/>
<path fill="#6fff90" d="M57 0h2v1h-2zM58 1h3v1h-3zM61 2h3v1h-3zM45 3h1v1h-1zM54 3h4v1h-4zM45 4h1v1h-1zM54 4h4v1h-4zM34 5h2v1h-2zM47 5h2v1h-2zM65 5h2v1h-2zM31 6h1v1h-1zM48 6h1v1h-1zM69 6h1v1h-1zM33 7h1v1h-1zM48 7h1v1h-1zM70 7h1v1h-1zM35 8h1v1h-1zM33 9h1v1h-1zM36 11h2v1h-2zM39 12h4v1h-4zM37 13h1v1h-1zM36 14h2v1h-2zM36 15h2v1h-2zM45 16h2v1h-2zM45 17h2v1h-2zM45 18h2v1h-2zM45 19h2v1h-2zM45 20h2v1h-2zM45 21h2v1h-2zM38 22h1v1h-1zM40 23h1v1h-1zM40 24h1v1h-1zM39 25h1v1h-1zM36 26h2v1h-2zM55 27h1v1h-1zM55 28h1v1h-1zM52 29h1v1h-1zM52 30h1v1h-1zM51 31h1v1h-1zM50 32h2v1h-2zM52 33h1v1h-1zM78 33h1v1h-1zM26 34h1v1h-1zM53 34h1v1h-1zM77 34h2v1h-2zM29 35h1v1h-1zM81 35h13v1h-13zM29 36h1v1h-1zM60 36h3v1h-3zM29 37h1v1h-1zM60 37h3v1h-3zM29 38h1v1h-1zM27 39h1v1h-1zM56 39h2v1h-2zM67 39h3v1h-3zM27 40h1v1h-1zM56 40h2v1h-2zM67 40h3v1h-3zM26 41h1v1h-1zM59 41h9v1h-9zM25 42h1v1h-1zM57 42h1v1h-1zM73 42h2v1h-2zM26 43h1v1h-1zM60 43h2v1h-2zM73 43h3v1h-3zM63 44h2v1h-2zM75 44h2v1h-2zM28 45h1v1h-1zM28 46h1v1h-1zM67 47h1v1h-1zM62 48h8v1h-8zM62 49h3v1h-3zM70 49h4v1h-4zM63 51h8v1h-8zM54 52h2v1h-2zM69 52h2v1h-2zM54 53h2v1h-2zM67 53h3v1h-3zM37 54h1v1h-1zM32 55h1v1h-1zM32 56h1v1h-1zM32 57h1v1h-1zM31 60h1v1h-1zM29 61h1v1h-1zM58 64h1v1h-1zM58 65h1v1h-1zM58 66h1v1h-1zM62 67h2v1h-2zM62 68h2v1h-2zM62 69h2v1h-2zM66 70h2v1h-2zM68 71h1v1h-1zM69 72h1v1h-1zM69 73h1v1h-1zM65 74h3v1h-3zM65 75h3v1h-3zM63 76h5v1h-5zM51 77h3v1h-3zM51 78h3v1h-3zM51 79h3v1h-3zM57 80h2v1h-2zM51 81h1v1h-1zM51 82h1v1h-1zM49 83h2v1h-2zM48 84h1v1h-1zM51 85h1v1h-1zM55 86h1v1h-1zM2 87h1v1h-1zM75 87h1v1h-1zM71 88h1v1h-1zM72 89h1v1h-1zM72 90h1v1h-1zM69 91h1v1h-1zM69 92h1v1h-1zM69 93h1v1h-1zM0 95h1v1h-1zM54 96h1v1h-1zM58 97h1v1h-1zM57 98h1v1h-1zM57 99h1v1h-1zM57 100h1v1h-1zM58 101h1v1h-1zM61 101h1v1h-1zM59 102h1v1h-1zM61 102h1v1h-1zM58 103h1v1h-1zM61 103h1v1h-1zM57 104h1v1h-1zM59 104h2v1h-2zM48 105h1v1h-1zM98 105h2v1h-2zM52 107h1v1h-1zM52 108h1v1h-1zM51 109h1v1h-1zM51 110h1v1h-1zM3 111h1v1h-1zM66 111h1v1h-1zM69 111h2v1h-2zM2 112h1v1h-1zM67 112h1v1h-1zM3 113h1v1h-1zM67 113h1v1h-1zM4 114h1v1h-1zM67 114h1v1h-1zM67 115h1v1h-1zM67 116h1v1h-1zM8 117h1v1h-1zM64 117h1v1h-1zM67 117h1v1h-1zM5 118h1v1h-1zM68 118h1v1h-1zM53 119h1v1h-1zM53 120h1v1h-1zM53 121h1v1h-1zM53 122h2v1h-2zM54 123h2v1h-2zM55 124h2v1h-2zM57 125h1v1h-1zM57 126h1v1h-1zM57 127h1v1h-1zM59 127h1v1h-1zM58 128h1v1h-1zM61 128h1v1h-1zM62 129h1v1h-1zM62 130h1v1h-1zM63 131h1v1h-1zM63 132h1v1h-1zM64 133h1v1h-1zM63 134h1v1h-1zM63 135h1v1h-1zM63 136h1v1h-1zM0 137h1v1h-1zM59 137h1v1h-1zM62 137h1v1h-1zM0 138h1v1h-1zM59 138h1v1h-1zM62 138h1v1h-1zM59 139h1v1h-1zM62 139h1v1h-1zM0 140h1v1h-1zM59 140h1v1h-1zM62 140h1v1h-1zM2 141h1v1h-1zM59 141h1v1h-1zM62 141h1v1h-1zM4 142h1v1h-1zM59 142h1v1h-1zM62 142h1v1h-1zM59 143h1v1h-1zM62 143h1v1h-1zM63 144h1v1h-1zM7 145h1v1h-1zM61 145h1v1h-1zM64 145h1v1h-1zM61 146h1v1h-1zM64 146h1v1h-1zM61 147h1v1h-1zM64 147h1v1h-1zM11 148h1v1h-1zM61 148h1v1h-1zM11 149h1v1h-1zM61 149h1v1h-1zM58 150h1v1h-1zM6 151h1v1h-1zM58 151h1v1h-1zM58 152h1v1h-1zM4 153h1v1h-1zM58 153h1v1h-1zM24 154h1v1h-1zM42 154h1v1h-1zM57 155h1v1h-1zM50 156h2v1h-2zM21 157h1v1h-1z"/>
<path fill="#76ff89" d="M55 0h2v1h-2zM55 1h3v1h-3zM56 2h5v1h-5zM40 3h4v1h-4zM46 3h8v1h-8zM40 4h4v1h-4zM46 4h8v1h-8zM33 5h1v1h-1zM49 5h2v1h-2zM63 5h2v1h-2zM49 6h2v1h-2zM67 6h2v1h-2zM32 7h1v1h-1zM49 7h2v1h-2zM68 7h2v1h-2zM34 8h1v1h-1zM32 9h1v1h-1zM31 10h1v1h-1zM34 11h2v1h-2zM37 12h2v1h-2zM36 13h1v1h-1zM35 14h1v1h-1zM35 15h1v1h-1zM37 22h1v1h-1zM39 23h1v1h-1zM39 24h1v1h-1zM38 25h1v1h-1zM35 26h1v1h-1zM53 27h2v1h-2zM53 28h2v1h-2zM50 29h2v1h-2zM50 30h2v1h-2zM48 31h3v1h-3zM47 32h3v1h-3zM24 33h1v1h-1zM53 33h1v1h-1zM76 33h2v1h-2zM54 34h1v1h-1zM76 34h1v1h-1zM28 35h1v1h-1zM94 35h5v1h-5zM28 36h1v1h-1zM28 37h1v1h-1zM28 38h1v1h-1zM26 39h1v1h-1zM58 39h2v1h-2zM62 39h5v1h-5zM58 40h2v1h-2zM62 40h5v1h-5zM25 41h1v1h-1zM58 42h1v1h-1zM71 42h2v1h-2zM25 43h1v1h-1zM62 43h3v1h-3zM70 43h3v1h-3zM26 44h1v1h-1zM65 44h2v1h-2zM69 44h6v1h-6zM27 45h1v1h-1zM27 46h1v1h-1zM28 47h1v1h-1zM26 48h1v1h-1zM26 49h1v1h-1zM65 49h5v1h-5zM26 50h1v1h-1zM26 51h1v1h-1zM26 52h1v1h-1zM56 52h3v1h-3zM64 52h5v1h-5zM26 53h1v1h-1zM56 53h11v1h-11zM35 54h2v1h-2zM31 55h1v1h-1zM31 56h1v1h-1zM31 57h1v1h-1zM31 58h1v1h-1zM31 59h1v1h-1zM30 60h1v1h-1zM28 61h1v1h-1zM29 62h1v1h-1zM29 63h1v1h-1zM57 64h1v1h-1zM57 65h1v1h-1zM57 66h1v1h-1zM59 67h3v1h-3zM59 68h3v1h-3zM59 69h3v1h-3zM64 70h2v1h-2zM65 71h3v1h-3zM68 72h1v1h-1zM68 73h1v1h-1zM62 74h3v1h-3zM62 75h3v1h-3zM58 76h5v1h-5zM48 77h3v1h-3zM48 78h3v1h-3zM48 79h3v1h-3zM56 80h1v1h-1zM47 81h4v1h-4zM49 82h2v1h-2zM47 83h2v1h-2zM46 84h2v1h-2zM49 85h2v1h-2zM54 86h1v1h-1zM3 87h2v1h-2zM74 87h1v1h-1zM70 88h1v1h-1zM71 89h1v1h-1zM68 91h1v1h-1zM68 92h1v1h-1zM68 93h1v1h-1zM3 94h1v1h-1zM56 94h1v1h-1zM1 95h1v1h-1zM55 95h1v1h-1zM0 96h1v1h-1zM53 96h1v1h-1zM56 97h2v1h-2zM55 98h2v1h-2zM55 99h2v1h-2zM55 100h2v1h-2zM57 101h1v1h-1zM59 101h2v1h-2zM58 102h1v1h-1zM57 103h1v1h-1zM59 103h2v1h-2zM56 104h1v1h-1zM58 104h1v1h-1zM47 106h1v1h-1zM51 107h1v1h-1zM51 108h1v1h-1zM4 111h1v1h-1zM65 111h1v1h-1zM68 111h1v1h-1zM3 112h1v1h-1zM63 112h1v1h-1zM66 112h1v1h-1zM4 113h1v1h-1zM63 113h1v1h-1zM66 113h1v1h-1zM5 114h1v1h-1zM63 114h1v1h-1zM66 114h1v1h-1zM63 115h1v1h-1zM66 115h1v1h-1zM63 116h1v1h-1zM66 116h1v1h-1zM9 117h1v1h-1zM63 117h1v1h-1zM66 117h1v1h-1zM6 118h1v1h-1zM65 118h1v1h-1zM67 118h1v1h-1zM52 119h1v1h-1zM52 120h1v1h-1zM52 121h1v1h-1zM54 124h1v1h-1zM55 125h2v1h-2zM55 126h2v1h-2zM56 127h1v1h-1zM58 127h1v1h-1zM57 128h1v1h-1zM59 128h2v1h-2zM59 129h1v1h-1zM61 129h1v1h-1zM59 130h1v1h-1zM61 130h1v1h-1zM60 131h1v1h-1zM62 131h1v1h-1zM60 132h1v1h-1zM62 132h1v1h-1zM60 133h1v1h-1zM63 133h1v1h-1zM59 134h1v1h-1zM62 134h1v1h-1zM59 135h1v1h-1zM62 135h1v1h-1zM59 136h1v1h-1zM62 136h1v1h-1zM1 137h1v1h-1zM58 137h1v1h-1zM61 137h1v1h-1zM1 138h1v1h-1zM58 138h1v1h-1zM61 138h1v1h-1zM0 139h1v1h-1zM58 139h1v1h-1zM61 139h1v1h-1zM1 140h1v1h-1zM58 140h1v1h-1zM61 140h1v1h-1zM3 141h1v1h-1zM58 141h1v1h-1zM61 141h1v1h-1zM58 142h1v1h-1zM61 142h1v1h-1zM3 143h1v1h-1zM58 143h1v1h-1zM61 143h1v1h-1zM60 144h1v1h-1zM62 144h1v1h-1zM8 145h1v1h-1zM63 145h1v1h-1zM12 146h1v1h-1zM63 146h1v1h-1zM12 147h1v1h-1zM63 147h1v1h-1zM58 148h1v1h-1zM60 148h1v1h-1zM58 149h1v1h-1zM60 149h1v1h-1zM7 150h1v1h-1zM60 150h1v1h-1zM60 151h1v1h-1zM6 152h1v1h-1zM60 152h1v1h-1zM5 153h1v1h-1zM60 153h1v1h-1zM25 154h2v1h-2zM41 154h1v1h-1zM70 154h1v1h-1zM58 155h1v1h-1zM52 156h2v1h-2zM60 157h1v1h-1zM45 158h1v1h-1z"/>
<path fill="#7cff83" d="M52 0h3v1h-3zM52 1h3v1h-3zM45 2h3v1h-3zM52 2h4v1h-4zM38 3h2v1h-2zM44 3h1v1h-1zM38 4h2v1h-2zM44 4h1v1h-1zM32 5h1v1h-1zM51 5h3v1h-3zM61 5h2v1h-2zM30 6h1v1h-1zM51 6h2v1h-2zM65 6h2v1h-2zM31 7h1v1h-1zM51 7h3v1h-3zM65 7h3v1h-3zM33 8h1v1h-1zM31 9h1v1h-1zM30 10h1v1h-1zM33 11h1v1h-1zM35 12h2v1h-2zM34 13h2v1h-2zM34 14h1v1h-1zM34 15h1v1h-1zM43 16h2v1h-2zM43 17h2v1h-2zM43 18h2v1h-2zM43 19h2v1h-2zM43 20h2v1h-2zM43 21h2v1h-2zM36 22h1v1h-1zM38 23h1v1h-1zM38 24h1v1h-1zM37 25h1v1h-1zM34 26h1v1h-1zM52 27h1v1h-1zM52 28h1v1h-1zM48 29h2v1h-2zM48 30h2v1h-2zM45 31h3v1h-3zM44 32h3v1h-3zM54 33h1v1h-1zM73 33h3v1h-3zM25 34h1v1h-1zM55 34h2v1h-2zM74 34h2v1h-2zM99 35h1v1h-1zM27 36h1v1h-1zM27 37h1v1h-1zM27 38h1v1h-1zM25 39h1v1h-1zM60 39h2v1h-2zM26 40h1v1h-1zM60 40h2v1h-2zM24 42h1v1h-1zM59 42h1v1h-1zM69 42h2v1h-2zM65 43h2v1h-2zM68 43h2v1h-2zM25 44h1v1h-1zM67 44h2v1h-2zM26 45h1v1h-1zM26 46h1v1h-1zM27 47h1v1h-1zM25 48h1v1h-1zM25 49h1v1h-1zM25 50h1v1h-1zM25 51h1v1h-1zM25 52h1v1h-1zM59 52h5v1h-5zM25 53h1v1h-1zM34 54h1v1h-1zM30 55h1v1h-1zM30 56h1v1h-1zM30 57h1v1h-1zM30 58h1v1h-1zM30 59h1v1h-1zM29 60h1v1h-1zM28 62h1v1h-1zM28 63h1v1h-1zM56 64h1v1h-1zM56 65h1v1h-1zM56 66h1v1h-1zM57 67h2v1h-2zM57 68h2v1h-2zM57 69h2v1h-2zM62 70h2v1h-2zM62 71h3v1h-3zM63 72h5v1h-5zM63 73h5v1h-5zM59 74h3v1h-3zM59 75h3v1h-3zM56 76h2v1h-2zM46 77h2v1h-2zM46 78h2v1h-2zM46 79h2v1h-2zM54 80h2v1h-2zM45 81h2v1h-2zM47 82h2v1h-2zM46 83h1v1h-1zM45 84h1v1h-1zM48 85h1v1h-1zM53 86h1v1h-1zM5 87h1v1h-1zM69 88h1v1h-1zM70 89h1v1h-1zM71 90h1v1h-1zM66 93h2v1h-2zM1 96h1v1h-1zM54 98h1v1h-1zM54 99h1v1h-1zM54 100h1v1h-1zM56 101h1v1h-1zM57 102h1v1h-1zM60 102h1v1h-1zM56 103h1v1h-1zM47 105h1v1h-1zM50 109h1v1h-1zM50 110h1v1h-1zM64 111h1v1h-1zM67 111h1v1h-1zM4 112h1v1h-1zM62 112h1v1h-1zM65 112h1v1h-1zM62 113h1v1h-1zM65 113h1v1h-1zM6 114h1v1h-1zM62 114h1v1h-1zM65 114h1v1h-1zM62 115h1v1h-1zM65 115h1v1h-1zM62 116h1v1h-1zM65 116h1v1h-1zM62 117h1v1h-1zM65 117h1v1h-1zM7 118h1v1h-1zM64 118h1v1h-1zM66 118h1v1h-1zM52 122h1v1h-1zM53 123h1v1h-1zM53 124h1v1h-1zM54 125h1v1h-1zM54 126h1v1h-1zM56 128h1v1h-1zM58 129h1v1h-1zM58 130h1v1h-1zM59 131h1v1h-1zM61 131h1v1h-1zM59 132h1v1h-1zM61 132h1v1h-1zM59 133h1v1h-1zM62 133h1v1h-1zM0 134h1v1h-1zM58 134h1v1h-1zM61 134h1v1h-1zM0 135h1v1h-1zM58 135h1v1h-1zM61 135h1v1h-1zM0 136h1v1h-1zM58 136h1v1h-1zM61 136h1v1h-1zM2 137h1v1h-1zM57 137h1v1h-1zM60 137h1v1h-1zM2 138h1v1h-1zM57 138h1v1h-1zM60 138h1v1h-1zM1 139h1v1h-1zM57 139h1v1h-1zM60 139h1v1h-1zM2 140h1v1h-1zM57 140h1v1h-1zM60 140h1v1h-1zM57 141h1v1h-1zM60 141h1v1h-1zM57 142h1v1h-1zM60 142h1v1h-1zM57 143h1v1h-1zM60 143h1v1h-1zM59 144h1v1h-1zM61 144h1v1h-1zM9 145h1v1h-1zM60 145h1v1h-1zM62 145h1v1h-1zM60 146h1v1h-1zM62 146h1v1h-1zM60 147h1v1h-1zM62 147h1v1h-1zM12 148h1v1h-1zM57 148h1v1h-1zM59 148h1v1h-1zM12 149h1v1h-1zM57 149h1v1h-1zM59 149h1v1h-1zM57 150h1v1h-1zM59 150h1v1h-1zM7 151h1v1h-1zM57 151h1v1h-1zM59 151h1v1h-1zM57 152h1v1h-1zM59 152h1v1h-1zM57 153h1v1h-1zM59 153h1v1h-1zM27 154h2v1h-2zM71 154h1v1h-1zM59 155h1v1h-1zM54 156h1v1h-1zM61 157h1v1h-1z"/>
<path fill="#83ff7c" d="M45 0h7v1h-7zM45 1h7v1h-7zM39 2h5v1h-5zM48 2h4v1h-4zM36 3h2v1h-2zM36 4h2v1h-2zM30 5h2v1h-2zM54 5h7v1h-7zM29 6h1v1h-1zM53 6h2v1h-2zM63 6h2v1h-2zM30 7h1v1h-1zM54 7h4v1h-4zM60 7h5v1h-5zM32 8h1v1h-1zM30 9h1v1h-1zM29 10h1v1h-1zM32 11h1v1h-1zM33 12h2v1h-2zM33 13h1v1h-1zM33 14h1v1h-1zM33 15h1v1h-1zM41 16h2v1h-2zM41 17h2v1h-2zM41 18h2v1h-2zM41 19h2v1h-2zM41 20h2v1h-2zM41 21h2v1h-2zM35 22h1v1h-1zM37 23h1v1h-1zM37 24h1v1h-1zM36 25h1v1h-1zM33 26h1v1h-1zM51 27h1v1h-1zM51 28h1v1h-1zM46 29h2v1h-2zM46 30h2v1h-2zM40 32h4v1h-4zM23 33h1v1h-1zM55 33h4v1h-4zM69 33h4v1h-4zM57 34h3v1h-3zM71 34h3v1h-3zM27 35h1v1h-1zM26 36h1v1h-1zM26 37h1v1h-1zM26 38h1v1h-1zM25 40h1v1h-1zM24 41h1v1h-1zM60 42h9v1h-9zM24 43h1v1h-1zM67 43h1v1h-1zM26 47h1v1h-1zM32 54h2v1h-2zM29 55h1v1h-1zM29 56h1v1h-1zM29 57h1v1h-1zM29 58h1v1h-1zM29 59h1v1h-1zM28 60h1v1h-1zM27 61h1v1h-1zM27 62h1v1h-1zM27 63h1v1h-1zM54 64h2v1h-2zM54 65h2v1h-2zM54 66h2v1h-2zM55 67h2v1h-2zM55 68h2v1h-2zM55 69h2v1h-2zM58 70h4v1h-4zM58 71h4v1h-4zM58 72h5v1h-5zM58 73h5v1h-5zM57 74h2v1h-2zM57 75h2v1h-2zM53 76h3v1h-3zM44 77h2v1h-2zM44 78h2v1h-2zM44 79h2v1h-2zM52 80h2v1h-2zM43 81h2v1h-2zM45 82h2v1h-2zM44 83h2v1h-2zM44 84h1v1h-1zM46 85h2v1h-2zM52 86h1v1h-1zM6 87h1v1h-1zM73 87h1v1h-1zM68 88h1v1h-1zM69 89h1v1h-1zM70 90h1v1h-1zM66 91h2v1h-2zM66 92h2v1h-2zM65 93h1v1h-1zM4 94h1v1h-1zM55 94h1v1h-1zM2 95h1v1h-1zM54 95h1v1h-1zM3 96h1v1h-1zM52 96h1v1h-1zM55 97h1v1h-1zM53 99h1v1h-1zM53 100h1v1h-1zM55 101h1v1h-1zM56 102h1v1h-1zM55 103h1v1h-1zM54 104h2v1h-2zM46 106h1v1h-1zM50 107h1v1h-1zM50 108h1v1h-1zM49 109h1v1h-1zM49 110h1v1h-1zM5 111h2v1h-2zM8 111h1v1h-1zM62 111h2v1h-2zM5 112h1v1h-1zM7 112h1v1h-1zM60 112h2v1h-2zM64 112h1v1h-1zM5 113h2v1h-2zM8 113h1v1h-1zM60 113h2v1h-2zM64 113h1v1h-1zM7 114h2v1h-2zM60 114h2v1h-2zM64 114h1v1h-1zM1 115h1v1h-1zM60 115h2v1h-2zM64 115h1v1h-1zM1 116h1v1h-1zM60 116h2v1h-2zM64 116h1v1h-1zM10 117h1v1h-1zM12 117h1v1h-1zM61 117h1v1h-1zM8 118h1v1h-1zM10 118h1v1h-1zM63 118h1v1h-1zM51 119h1v1h-1zM51 120h1v1h-1zM51 121h1v1h-1zM0 122h1v1h-1zM51 122h1v1h-1zM0 123h1v1h-1zM52 123h1v1h-1zM53 125h1v1h-1zM53 126h1v1h-1zM55 127h1v1h-1zM55 128h1v1h-1zM57 129h1v1h-1zM60 129h1v1h-1zM57 130h1v1h-1zM60 130h1v1h-1zM0 131h1v1h-1zM2 131h1v1h-1zM58 131h1v1h-1zM0 132h1v1h-1zM2 132h1v1h-1zM58 132h1v1h-1zM0 133h1v1h-1zM2 133h1v1h-1zM58 133h1v1h-1zM61 133h1v1h-1zM1 134h2v1h-2zM4 134h1v1h-1zM57 134h1v1h-1zM60 134h1v1h-1zM1 135h2v1h-2zM4 135h1v1h-1zM57 135h1v1h-1zM60 135h1v1h-1zM1 136h2v1h-2zM4 136h1v1h-1zM57 136h1v1h-1zM60 136h1v1h-1zM4 137h1v1h-1zM56 137h1v1h-1zM4 138h1v1h-1zM56 138h1v1h-1zM2 139h2v1h-2zM56 139h1v1h-1zM4 140h1v1h-1zM56 140h1v1h-1zM4 141h2v1h-2zM56 141h1v1h-1zM5 142h1v1h-1zM56 142h1v1h-1zM4 143h1v1h-1zM56 143h1v1h-1zM0 144h2v1h-2zM3 144h1v1h-1zM58 144h1v1h-1zM10 145h1v1h-1zM12 145h1v1h-1zM59 145h1v1h-1zM13 146h2v1h-2zM59 146h1v1h-1zM13 147h2v1h-2zM59 147h1v1h-1zM8 150h1v1h-1zM56 150h1v1h-1zM8 151h2v1h-2zM56 151h1v1h-1zM7 152h1v1h-1zM56 152h1v1h-1zM6 153h1v1h-1zM56 153h1v1h-1zM29 154h2v1h-2zM38 154h3v1h-3zM72 154h1v1h-1zM60 155h2v1h-2zM55 156h2v1h-2zM20 157h1v1h-1zM62 157h2v1h-2zM46 158h1v1h-1z"/>
<path fill="#89ff76" d="M37 2h2v1h-2zM44 2h1v1h-1zM34 3h2v1h-2zM34 4h2v1h-2zM29 5h1v1h-1zM28 6h1v1h-1zM55 6h8v1h-8zM29 7h1v1h-1zM58 7h2v1h-2zM31 8h1v1h-1zM29 9h1v1h-1zM28 10h1v1h-1zM31 11h1v1h-1zM32 12h1v1h-1zM32 13h1v1h-1zM32 14h1v1h-1zM32 15h1v1h-1zM40 16h1v1h-1zM40 17h1v1h-1zM40 18h1v1h-1zM40 19h1v1h-1zM40 20h1v1h-1zM40 21h1v1h-1zM34 22h1v1h-1zM36 23h1v1h-1zM36 24h1v1h-1zM35 25h1v1h-1zM32 26h1v1h-1zM49 27h2v1h-2zM49 28h2v1h-2zM45 29h1v1h-1zM45 30h1v1h-1zM38 32h2v1h-2zM59 33h10v1h-10zM24 34h1v1h-1zM60 34h7v1h-7zM68 34h3v1h-3zM26 35h1v1h-1zM24 39h1v1h-1zM24 40h1v1h-1zM24 44h1v1h-1zM25 45h1v1h-1zM25 46h1v1h-1zM24 48h1v1h-1zM24 49h1v1h-1zM24 50h1v1h-1zM24 51h1v1h-1zM24 52h1v1h-1zM24 53h1v1h-1zM31 54h1v1h-1zM28 55h1v1h-1zM28 56h1v1h-1zM28 57h1v1h-1zM28 58h1v1h-1zM28 59h1v1h-1zM27 60h1v1h-1zM26 61h1v1h-1zM26 62h1v1h-1zM26 63h1v1h-1zM53 64h1v1h-1zM53 65h1v1h-1zM53 66h1v1h-1zM54 67h1v1h-1zM54 68h1v1h-1zM54 69h1v1h-1zM55 70h3v1h-3zM55 71h3v1h-3zM55 72h3v1h-3zM55 73h3v1h-3zM55 74h2v1h-2zM55 75h2v1h-2zM50 76h3v1h-3zM42 77h2v1h-2zM42 78h2v1h-2zM42 79h2v1h-2zM50 80h2v1h-2zM41 81h2v1h-2zM43 82h2v1h-2zM43 83h1v1h-1zM43 84h1v1h-1zM45 85h1v1h-1zM50 86h2v1h-2zM7 87h2v1h-2zM72 87h1v1h-1zM67 88h1v1h-1zM68 89h1v1h-1zM69 90h1v1h-1zM65 91h1v1h-1zM65 92h1v1h-1zM64 93h1v1h-1zM54 94h1v1h-1zM3 95h1v1h-1zM53 95h1v1h-1zM2 96h1v1h-1zM51 96h1v1h-1zM54 97h1v1h-1zM53 98h1v1h-1zM54 101h1v1h-1zM55 102h1v1h-1zM54 103h1v1h-1zM53 104h1v1h-1zM45 106h1v1h-1zM49 107h1v1h-1zM49 108h1v1h-1zM7 111h1v1h-1zM9 111h1v1h-1zM61 111h1v1h-1zM6 112h1v1h-1zM8 112h1v1h-1zM59 112h1v1h-1zM7 113h1v1h-1zM9 113h1v1h-1zM59 113h1v1h-1zM9 114h1v1h-1zM59 114h1v1h-1zM0 115h1v1h-1zM2 115h2v1h-2zM59 115h1v1h-1zM0 116h1v1h-1zM2 116h2v1h-2zM11 117h1v1h-1zM13 117h1v1h-1zM60 117h1v1h-1zM9 118h1v1h-1zM62 118h1v1h-1zM50 119h1v1h-1zM50 120h1v1h-1zM0 121h1v1h-1zM50 121h1v1h-1zM1 122h1v1h-1zM50 122h1v1h-1zM1 123h1v1h-1zM0 124h1v1h-1zM52 124h1v1h-1zM54 127h1v1h-1zM56 129h1v1h-1zM56 130h1v1h-1zM1 131h1v1h-1zM3 131h1v1h-1zM57 131h1v1h-1zM1 132h1v1h-1zM3 132h1v1h-1zM57 132h1v1h-1zM1 133h1v1h-1zM3 133h1v1h-1zM57 133h1v1h-1zM3 134h1v1h-1zM5 134h1v1h-1zM56 134h1v1h-1zM3 135h1v1h-1zM5 135h1v1h-1zM56 135h1v1h-1zM3 136h1v1h-1zM5 136h1v1h-1zM56 136h1v1h-1zM3 137h1v1h-1zM5 137h1v1h-1zM55 137h1v1h-1zM3 138h1v1h-1zM5 138h1v1h-1zM55 138h1v1h-1zM4 139h1v1h-1zM55 139h1v1h-1zM3 140h1v1h-1zM5 140h1v1h-1zM55 140h1v1h-1zM6 141h1v1h-1zM55 141h1v1h-1zM6 142h2v1h-2zM55 142h1v1h-1zM5 143h2v1h-2zM55 143h1v1h-1zM2 144h1v1h-1zM4 144h1v1h-1zM57 144h1v1h-1zM11 145h1v1h-1zM58 145h1v1h-1zM58 146h1v1h-1zM58 147h1v1h-1zM13 148h1v1h-1zM56 148h1v1h-1zM13 149h1v1h-1zM56 149h1v1h-1zM9 150h2v1h-2zM55 150h1v1h-1zM55 151h1v1h-1zM8 152h2v1h-2zM55 152h1v1h-1zM7 153h2v1h-2zM55 153h1v1h-1zM31 154h7v1h-7zM62 155h1v1h-1zM57 156h1v1h-1zM19 157h1v1h-1zM64 157h1v1h-1z"/>
<path fill="#90ff6f" d="M39 0h6v1h-6zM39 1h6v1h-6zM35 2h2v1h-2zM33 3h1v1h-1zM33 4h1v1h-1zM28 5h1v1h-1zM27 6h1v1h-1zM28 7h1v1h-1zM30 8h1v1h-1zM27 10h1v1h-1zM30 11h1v1h-1zM31 12h1v1h-1zM31 13h1v1h-1zM31 14h1v1h-1zM31 15h1v1h-1zM38 16h2v1h-2zM38 17h2v1h-2zM38 18h2v1h-2zM38 19h2v1h-2zM38 20h2v1h-2zM38 21h2v1h-2zM33 22h1v1h-1zM35 23h1v1h-1zM35 24h1v1h-1zM34 25h1v1h-1zM31 26h1v1h-1zM47 27h2v1h-2zM47 28h2v1h-2zM42 31h3v1h-3zM36 32h2v1h-2zM22 33h1v1h-1zM23 34h1v1h-1zM67 34h1v1h-1zM25 36h1v1h-1zM25 37h1v1h-1zM25 38h1v1h-1zM23 41h1v1h-1zM23 42h1v1h-1zM23 43h1v1h-1zM25 47h1v1h-1zM26 60h1v1h-1zM52 64h1v1h-1zM52 65h1v1h-1zM52 66h1v1h-1zM52 67h2v1h-2zM52 68h2v1h-2zM52 69h2v1h-2zM53 70h2v1h-2zM53 71h2v1h-2zM53 72h2v1h-2zM53 73h2v1h-2zM54 74h1v1h-1zM54 75h1v1h-1zM45 76h5v1h-5zM41 77h1v1h-1zM41 78h1v1h-1zM41 79h1v1h-1zM49 80h1v1h-1zM39 81h2v1h-2zM42 82h1v1h-1zM42 83h1v1h-1zM42 84h1v1h-1zM44 85h1v1h-1zM49 86h1v1h-1zM9 87h2v1h-2zM65 88h2v1h-2zM67 89h1v1h-1zM68 90h1v1h-1zM64 91h1v1h-1zM64 92h1v1h-1zM63 93h1v1h-1zM4 96h1v1h-1zM53 97h1v1h-1zM52 98h1v1h-1zM52 99h1v1h-1zM52 100h1v1h-1zM53 101h1v1h-1zM53 103h1v1h-1zM52 104h1v1h-1zM0 105h1v1h-1zM46 105h1v1h-1zM48 109h1v1h-1zM48 110h1v1h-1zM10 111h1v1h-1zM60 111h1v1h-1zM9 112h1v1h-1zM58 112h1v1h-1zM10 113h1v1h-1zM58 113h1v1h-1zM10 114h1v1h-1zM58 114h1v1h-1zM4 115h2v1h-2zM58 115h1v1h-1zM4 116h2v1h-2zM59 116h1v1h-1zM14 117h1v1h-1zM11 118h1v1h-1zM61 118h1v1h-1zM0 120h1v1h-1zM1 121h1v1h-1zM2 122h1v1h-1zM2 123h1v1h-1zM51 123h1v1h-1zM1 124h1v1h-1zM51 124h1v1h-1zM52 125h1v1h-1zM52 126h1v1h-1zM53 127h1v1h-1zM54 128h1v1h-1zM55 129h1v1h-1zM0 130h1v1h-1zM55 130h1v1h-1zM4 131h1v1h-1zM56 131h1v1h-1zM4 132h1v1h-1zM56 132h1v1h-1zM4 133h1v1h-1zM56 133h1v1h-1zM6 134h1v1h-1zM55 134h1v1h-1zM6 135h1v1h-1zM55 135h1v1h-1zM6 136h1v1h-1zM55 136h1v1h-1zM6 137h1v1h-1zM6 138h1v1h-1zM5 139h1v1h-1zM6 140h1v1h-1zM7 141h1v1h-1zM8 142h1v1h-1zM7 143h1v1h-1zM5 144h1v1h-1zM56 144h1v1h-1zM13 145h1v1h-1zM57 145h1v1h-1zM14 148h1v1h-1zM55 148h1v1h-1zM14 149h1v1h-1zM55 149h1v1h-1zM10 151h1v1h-1zM73 154h1v1h-1zM63 155h1v1h-1zM58 156h1v1h-1zM18 157h1v1h-1zM65 157h1v1h-1zM47 158h1v1h-1z"/>
<path fill="#96ff69" d="M37 0h2v1h-2zM37 1h2v1h-2zM33 2h2v1h-2zM31 3h2v1h-2zM31 4h2v1h-2zM27 5h1v1h-1zM26 6h1v1h-1zM27 7h1v1h-1zM29 8h1v1h-1zM28 9h1v1h-1zM29 11h1v1h-1zM29 12h2v1h-2zM29 13h2v1h-2zM29 14h2v1h-2zM29 15h2v1h-2zM37 16h1v1h-1zM37 17h1v1h-1zM37 18h1v1h-1zM37 19h1v1h-1zM37 20h1v1h-1zM37 21h1v1h-1zM32 22h1v1h-1zM34 23h1v1h-1zM34 24h1v1h-1zM33 25h1v1h-1zM30 26h1v1h-1zM45 27h2v1h-2zM45 28h2v1h-2zM40 31h2v1h-2zM35 32h1v1h-1zM25 35h1v1h-1zM24 36h1v1h-1zM24 37h1v1h-1zM24 38h1v1h-1zM23 39h1v1h-1zM23 40h1v1h-1zM23 44h1v1h-1zM24 45h1v1h-1zM24 46h1v1h-1zM24 47h1v1h-1zM23 48h1v1h-1zM23 49h1v1h-1zM23 50h1v1h-1zM23 51h1v1h-1zM23 52h1v1h-1zM23 53h1v1h-1zM30 54h1v1h-1zM27 55h1v1h-1zM27 56h1v1h-1zM27 57h1v1h-1zM27 58h1v1h-1zM27 59h1v1h-1zM25 61h1v1h-1zM25 62h1v1h-1zM25 63h1v1h-1zM50 64h2v1h-2zM50 65h2v1h-2zM50 66h2v1h-2zM50 67h2v1h-2zM50 68h2v1h-2zM50 69h2v1h-2zM50 70h3v1h-3zM50 71h3v1h-3zM50 72h3v1h-3zM50 73h3v1h-3zM52 74h2v1h-2zM52 75h2v1h-2zM43 76h2v1h-2zM39 77h2v1h-2zM39 78h2v1h-2zM39 79h2v1h-2zM47 80h2v1h-2zM38 81h1v1h-1zM41 82h1v1h-1zM41 83h1v1h-1zM41 84h1v1h-1zM43 85h1v1h-1zM47 86h2v1h-2zM11 87h2v1h-2zM71 87h1v1h-1zM63 88h2v1h-2zM60 89h7v1h-7zM67 90h1v1h-1zM63 91h1v1h-1zM63 92h1v1h-1zM62 93h1v1h-1zM5 94h1v1h-1zM53 94h1v1h-1zM4 95h1v1h-1zM52 95h1v1h-1zM50 96h1v1h-1zM51 99h1v1h-1zM51 100h1v1h-1zM52 101h1v1h-1zM54 102h1v1h-1zM52 103h1v1h-1zM50 104h2v1h-2zM1 105h1v1h-1zM44 106h1v1h-1zM48 107h1v1h-1zM48 108h1v1h-1zM11 111h1v1h-1zM59 111h1v1h-1zM10 112h1v1h-1zM57 112h1v1h-1zM11 113h1v1h-1zM57 113h1v1h-1zM11 114h1v1h-1zM57 114h1v1h-1zM6 115h1v1h-1zM57 115h1v1h-1zM6 116h1v1h-1zM58 116h1v1h-1zM59 117h1v1h-1zM12 118h1v1h-1zM60 118h1v1h-1zM0 119h1v1h-1zM49 119h1v1h-1zM1 120h1v1h-1zM49 120h1v1h-1zM2 121h1v1h-1zM49 121h1v1h-1zM3 122h1v1h-1zM49 122h1v1h-1zM3 123h1v1h-1zM50 123h1v1h-1zM2 124h1v1h-1zM50 124h1v1h-1zM51 125h1v1h-1zM0 126h1v1h-1zM51 126h1v1h-1zM52 127h1v1h-1zM0 128h1v1h-1zM53 128h1v1h-1zM0 129h1v1h-1zM54 129h1v1h-1zM1 130h1v1h-1zM5 131h1v1h-1zM55 131h1v1h-1zM5 132h1v1h-1zM55 132h1v1h-1zM5 133h1v1h-1zM55 133h1v1h-1zM7 134h1v1h-1zM7 135h1v1h-1zM7 136h1v1h-1zM7 137h1v1h-1zM54 137h1v1h-1zM7 138h1v1h-1zM54 138h1v1h-1zM6 139h1v1h-1zM54 139h1v1h-1zM7 140h1v1h-1zM54 140h1v1h-1zM54 141h1v1h-1zM54 142h1v1h-1zM54 143h1v1h-1zM6 144h1v1h-1zM55 144h1v1h-1zM14 145h1v1h-1zM56 145h1v1h-1zM15 146h1v1h-1zM57 146h1v1h-1zM15 147h1v1h-1zM57 147h1v1h-1zM11 150h1v1h-1zM54 150h1v1h-1zM54 151h1v1h-1zM10 152h1v1h-1zM54 152h1v1h-1zM9 153h1v1h-1zM54 153h1v1h-1zM74 154h1v1h-1zM64 155h1v1h-1zM59 156h2v1h-2zM17 157h1v1h-1zM66 157h1v1h-1z"/>
<path fill="#9cff63" d="M35 0h2v1h-2zM35 1h2v1h-2zM31 2h2v1h-2zM30 3h1v1h-1zM30 4h1v1h-1zM26 5h1v1h-1zM25 6h1v1h-1zM26 7h1v1h-1zM28 8h1v1h-1zM27 9h1v1h-1zM26 10h1v1h-1zM28 11h1v1h-1zM28 12h1v1h-1zM28 13h1v1h-1zM28 14h1v1h-1zM28 15h1v1h-1zM36 16h1v1h-1zM36 17h1v1h-1zM36 18h1v1h-1zM36 19h1v1h-1zM36 20h1v1h-1zM36 21h1v1h-1zM31 22h1v1h-1zM33 23h1v1h-1zM33 24h1v1h-1zM32 25h1v1h-1zM29 26h1v1h-1zM42 29h3v1h-3zM42 30h3v1h-3zM38 31h2v1h-2zM21 33h1v1h-1zM24 35h1v1h-1zM22 41h1v1h-1zM22 42h1v1h-1zM22 43h1v1h-1zM29 54h1v1h-1zM26 55h1v1h-1zM26 56h1v1h-1zM26 57h1v1h-1zM26 58h1v1h-1zM26 59h1v1h-1zM25 60h1v1h-1zM24 61h1v1h-1zM24 62h1v1h-1zM24 63h1v1h-1zM49 64h1v1h-1zM49 65h1v1h-1zM49 66h1v1h-1zM48 67h2v1h-2zM48 68h2v1h-2zM48 69h2v1h-2zM47 70h3v1h-3zM47 71h3v1h-3zM47 72h3v1h-3zM47 73h3v1h-3zM50 74h2v1h-2zM50 75h2v1h-2zM41 76h2v1h-2zM37 77h2v1h-2zM37 78h2v1h-2zM37 79h2v1h-2zM45 80h2v1h-2zM37 81h1v1h-1zM40 82h1v1h-1zM40 83h1v1h-1zM40 84h1v1h-1zM42 85h1v1h-1zM45 86h2v1h-2zM13 87h3v1h-3zM70 87h1v1h-1zM60 88h3v1h-3zM40 89h20v1h-20zM0 90h1v1h-1zM66 90h1v1h-1zM62 91h1v1h-1zM62 92h1v1h-1zM60 93h2v1h-2zM5 96h1v1h-1zM52 97h1v1h-1zM51 98h1v1h-1zM50 99h1v1h-1zM50 100h1v1h-1zM51 101h1v1h-1zM53 102h1v1h-1zM50 103h2v1h-2zM49 104h1v1h-1zM2 105h2v1h-2zM45 105h1v1h-1zM47 107h1v1h-1zM47 108h1v1h-1zM47 109h1v1h-1zM47 110h1v1h-1zM12 111h1v1h-1zM58 111h1v1h-1zM11 112h1v1h-1zM56 112h1v1h-1zM12 113h1v1h-1zM56 113h1v1h-1zM12 114h1v1h-1zM56 114h1v1h-1zM7 115h2v1h-2zM56 115h1v1h-1zM7 116h2v1h-2zM57 116h1v1h-1zM15 117h1v1h-1zM58 117h1v1h-1zM13 118h1v1h-1zM1 119h1v1h-1zM48 119h1v1h-1zM2 120h2v1h-2zM48 120h1v1h-1zM3 121h1v1h-1zM48 121h1v1h-1zM4 122h2v1h-2zM48 122h1v1h-1zM4 123h2v1h-2zM3 124h1v1h-1zM50 125h1v1h-1zM1 126h1v1h-1zM50 126h1v1h-1zM0 127h1v1h-1zM51 127h1v1h-1zM1 128h1v1h-1zM52 128h1v1h-1zM1 129h1v1h-1zM53 129h1v1h-1zM2 130h1v1h-1zM54 130h1v1h-1zM6 131h1v1h-1zM6 132h1v1h-1zM6 133h1v1h-1zM8 134h1v1h-1zM54 134h1v1h-1zM8 135h1v1h-1zM54 135h1v1h-1zM8 136h1v1h-1zM54 136h1v1h-1zM8 137h1v1h-1zM53 137h1v1h-1zM8 138h1v1h-1zM53 138h1v1h-1zM7 139h1v1h-1zM53 139h1v1h-1zM8 140h1v1h-1zM53 140h1v1h-1zM8 141h1v1h-1zM53 141h1v1h-1zM9 142h1v1h-1zM53 142h1v1h-1zM8 143h1v1h-1zM53 143h1v1h-1zM7 144h1v1h-1zM55 145h1v1h-1zM16 146h1v1h-1zM56 146h1v1h-1zM56 147h1v1h-1zM54 148h1v1h-1zM54 149h1v1h-1zM53 150h1v1h-1zM11 151h1v1h-1zM53 151h1v1h-1zM53 152h1v1h-1zM10 153h1v1h-1zM53 153h1v1h-1zM75 154h1v1h-1zM65 155h1v1h-1zM61 156h1v1h-1zM16 157h1v1h-1zM67 157h1v1h-1z"/>
<path fill="#a3ff5c" d="M32 0h3v1h-3zM32 1h3v1h-3zM29 2h2v1h-2zM28 3h2v1h-2zM28 4h2v1h-2zM24 5h2v1h-2zM24 6h1v1h-1zM24 7h2v1h-2zM27 8h1v1h-1zM26 9h1v1h-1zM25 10h1v1h-1zM27 11h1v1h-1zM27 12h1v1h-1zM27 13h1v1h-1zM27 14h1v1h-1zM27 15h1v1h-1zM34 16h2v1h-2zM34 17h2v1h-2zM34 18h2v1h-2zM34 19h2v1h-2zM34 20h2v1h-2zM34 21h2v1h-2zM29 22h2v1h-2zM31 23h2v1h-2zM31 24h2v1h-2zM31 25h1v1h-1zM28 26h1v1h-1zM40 29h2v1h-2zM40 30h2v1h-2zM36 31h2v1h-2zM22 34h1v1h-1zM23 36h1v1h-1zM23 37h1v1h-1zM23 38h1v1h-1zM22 39h1v1h-1zM22 40h1v1h-1zM22 44h1v1h-1zM23 45h1v1h-1zM23 46h1v1h-1zM22 48h1v1h-1zM22 49h1v1h-1zM22 50h1v1h-1zM22 51h1v1h-1zM22 52h1v1h-1zM22 53h1v1h-1zM28 54h1v1h-1zM25 55h1v1h-1zM25 56h1v1h-1zM25 57h1v1h-1zM25 58h1v1h-1zM25 59h1v1h-1zM24 60h1v1h-1zM47 64h2v1h-2zM47 65h2v1h-2zM47 66h2v1h-2zM45 67h3v1h-3zM45 68h3v1h-3zM45 69h3v1h-3zM44 70h3v1h-3zM44 71h3v1h-3zM44 72h3v1h-3zM44 73h3v1h-3zM48 74h2v1h-2zM48 75h2v1h-2zM39 76h2v1h-2zM35 77h2v1h-2zM35 78h2v1h-2zM35 79h2v1h-2zM44 80h1v1h-1zM36 81h1v1h-1zM39 82h1v1h-1zM39 83h1v1h-1zM39 84h1v1h-1zM41 85h1v1h-1zM44 86h1v1h-1zM16 87h2v1h-2zM69 87h1v1h-1zM58 88h2v1h-2zM37 89h3v1h-3zM1 90h2v1h-2zM64 90h2v1h-2zM60 91h2v1h-2zM60 92h2v1h-2zM59 93h1v1h-1zM6 94h1v1h-1zM52 94h1v1h-1zM5 95h1v1h-1zM51 95h1v1h-1zM6 96h1v1h-1zM49 96h1v1h-1zM51 97h1v1h-1zM50 98h1v1h-1zM0 99h1v1h-1zM49 99h1v1h-1zM0 100h1v1h-1zM49 100h1v1h-1zM50 101h1v1h-1zM52 102h1v1h-1zM48 103h2v1h-2zM47 104h2v1h-2zM4 105h2v1h-2zM43 106h1v1h-1zM13 111h1v1h-1zM57 111h1v1h-1zM12 112h1v1h-1zM55 112h1v1h-1zM13 113h1v1h-1zM55 113h1v1h-1zM13 114h1v1h-1zM55 114h1v1h-1zM9 115h2v1h-2zM55 115h1v1h-1zM9 116h2v1h-2zM56 116h1v1h-1zM16 117h1v1h-1zM57 117h1v1h-1zM14 118h1v1h-1zM59 118h1v1h-1zM2 119h2v1h-2zM4 120h2v1h-2zM4 121h2v1h-2zM6 122h1v1h-1zM6 123h1v1h-1zM49 123h1v1h-1zM4 124h2v1h-2zM49 124h1v1h-1zM0 125h1v1h-1zM2 126h1v1h-1zM1 127h1v1h-1zM50 127h1v1h-1zM2 128h2v1h-2zM51 128h1v1h-1zM2 129h2v1h-2zM52 129h1v1h-1zM3 130h1v1h-1zM53 130h1v1h-1zM7 131h1v1h-1zM54 131h1v1h-1zM7 132h1v1h-1zM54 132h1v1h-1zM7 133h1v1h-1zM54 133h1v1h-1zM9 134h1v1h-1zM53 134h1v1h-1zM9 135h1v1h-1zM53 135h1v1h-1zM9 136h1v1h-1zM53 136h1v1h-1zM9 137h1v1h-1zM9 138h1v1h-1zM8 139h1v1h-1zM9 140h1v1h-1zM9 141h1v1h-1zM10 142h1v1h-1zM9 143h1v1h-1zM8 144h1v1h-1zM54 144h1v1h-1zM15 145h1v1h-1zM55 146h1v1h-1zM16 147h1v1h-1zM55 147h1v1h-1zM15 148h1v1h-1zM53 148h1v1h-1zM15 149h1v1h-1zM53 149h1v1h-1zM12 150h1v1h-1zM11 152h1v1h-1zM66 155h1v1h-1zM62 156h1v1h-1zM15 157h1v1h-1zM68 157h1v1h-1zM48 158h1v1h-1z"/>
<path fill="#a9ff56" d="M30 0h2v1h-2zM31 1h1v1h-1zM28 2h1v1h-1zM27 3h1v1h-1zM27 4h1v1h-1zM23 6h1v1h-1zM26 8h1v1h-1zM25 9h1v1h-1zM24 10h1v1h-1zM26 11h1v1h-1zM26 12h1v1h-1zM26 13h1v1h-1zM26 14h1v1h-1zM26 15h1v1h-1zM33 16h1v1h-1zM33 17h1v1h-1zM33 18h1v1h-1zM33 19h1v1h-1zM33 20h1v1h-1zM33 21h1v1h-1zM28 22h1v1h-1zM30 23h1v1h-1zM30 24h1v1h-1zM29 25h2v1h-2zM27 26h1v1h-1zM39 29h1v1h-1zM38 30h2v1h-2zM34 31h2v1h-2zM20 33h1v1h-1zM21 34h1v1h-1zM23 35h1v1h-1zM21 39h1v1h-1zM21 41h1v1h-1zM21 42h1v1h-1zM21 43h1v1h-1zM21 44h1v1h-1zM23 47h1v1h-1zM21 48h1v1h-1zM21 49h1v1h-1zM21 50h1v1h-1zM21 51h1v1h-1zM21 52h1v1h-1zM21 53h1v1h-1zM23 61h1v1h-1zM23 62h1v1h-1zM23 63h1v1h-1zM45 64h2v1h-2zM45 65h2v1h-2zM45 66h2v1h-2zM44 67h1v1h-1zM44 68h1v1h-1zM44 69h1v1h-1zM43 70h1v1h-1zM43 71h1v1h-1zM43 72h1v1h-1zM43 73h1v1h-1zM46 74h2v1h-2zM46 75h2v1h-2zM37 76h2v1h-2zM33 77h2v1h-2zM33 78h2v1h-2zM33 79h2v1h-2zM43 80h1v1h-1zM34 81h2v1h-2zM37 82h2v1h-2zM37 83h2v1h-2zM37 84h2v1h-2zM40 85h1v1h-1zM43 86h1v1h-1zM18 87h3v1h-3zM68 87h1v1h-1zM55 88h3v1h-3zM33 89h4v1h-4zM3 90h3v1h-3zM62 90h2v1h-2zM0 91h1v1h-1zM59 91h1v1h-1zM58 92h2v1h-2zM57 93h2v1h-2zM7 94h1v1h-1zM48 96h1v1h-1zM50 97h1v1h-1zM0 98h1v1h-1zM1 99h1v1h-1zM48 99h1v1h-1zM1 100h1v1h-1zM48 100h1v1h-1zM49 101h1v1h-1zM51 102h1v1h-1zM45 103h3v1h-3zM45 104h2v1h-2zM6 105h1v1h-1zM42 106h1v1h-1zM46 107h1v1h-1zM46 108h1v1h-1zM46 109h1v1h-1zM46 110h1v1h-1zM14 111h1v1h-1zM56 111h1v1h-1zM13 112h1v1h-1zM14 113h1v1h-1zM14 114h1v1h-1zM11 115h1v1h-1zM11 116h1v1h-1zM55 116h1v1h-1zM56 117h1v1h-1zM58 118h1v1h-1zM4 119h2v1h-2zM47 119h1v1h-1zM6 120h1v1h-1zM47 120h1v1h-1zM6 121h1v1h-1zM47 121h1v1h-1zM7 122h1v1h-1zM47 122h1v1h-1zM7 123h1v1h-1zM48 123h1v1h-1zM6 124h1v1h-1zM48 124h1v1h-1zM1 125h1v1h-1zM49 125h1v1h-1zM3 126h1v1h-1zM49 126h1v1h-1zM2 127h2v1h-2zM4 128h2v1h-2zM50 128h1v1h-1zM4 129h2v1h-2zM51 129h1v1h-1zM4 130h2v1h-2zM52 130h1v1h-1zM8 131h1v1h-1zM53 131h1v1h-1zM8 132h1v1h-1zM53 132h1v1h-1zM8 133h1v1h-1zM53 133h1v1h-1zM10 134h1v1h-1zM52 134h1v1h-1zM10 135h1v1h-1zM52 135h1v1h-1zM10 136h1v1h-1zM52 136h1v1h-1zM10 137h1v1h-1zM52 137h1v1h-1zM10 138h1v1h-1zM52 138h1v1h-1zM9 139h1v1h-1zM52 139h1v1h-1zM10 140h1v1h-1zM52 140h1v1h-1zM10 141h1v1h-1zM52 141h1v1h-1zM11 142h1v1h-1zM52 142h1v1h-1zM10 143h1v1h-1zM52 143h1v1h-1zM9 144h1v1h-1zM53 144h1v1h-1zM16 145h1v1h-1zM54 145h1v1h-1zM17 146h1v1h-1zM17 147h1v1h-1zM13 150h1v1h-1zM52 150h1v1h-1zM12 151h1v1h-1zM52 151h1v1h-1zM12 152h1v1h-1zM52 152h1v1h-1zM11 153h1v1h-1zM52 153h1v1h-1zM76 154h1v1h-1zM67 155h1v1h-1zM63 156h1v1h-1zM69 157h2v1h-2z"/>
<path fill="#b0ff4f" d="M28 0h2v1h-2zM29 1h2v1h-2zM26 2h2v1h-2zM25 3h2v1h-2zM25 4h2v1h-2zM23 5h1v1h-1zM22 6h1v1h-1zM23 7h1v1h-1zM25 8h1v1h-1zM24 9h1v1h-1zM25 11h1v1h-1zM25 12h1v1h-1zM25 13h1v1h-1zM25 14h1v1h-1zM25 15h1v1h-1zM31 16h2v1h-2zM31 17h2v1h-2zM31 18h2v1h-2zM31 19h2v1h-2zM31 20h2v1h-2zM31 21h2v1h-2zM27 22h1v1h-1zM29 23h1v1h-1zM29 24h1v1h-1zM28 25h1v1h-1zM26 26h1v1h-1zM43 27h2v1h-2zM43 28h2v1h-2zM37 29h2v1h-2zM37 30h1v1h-1zM33 31h1v1h-1zM22 36h1v1h-1zM22 37h1v1h-1zM22 38h1v1h-1zM21 40h1v1h-1zM22 45h1v1h-1zM22 46h1v1h-1zM24 55h1v1h-1zM24 56h1v1h-1zM24 57h1v1h-1zM24 58h1v1h-1zM24 59h1v1h-1zM23 60h1v1h-1zM22 61h1v1h-1zM44 64h1v1h-1zM44 65h1v1h-1zM44 66h1v1h-1zM42 67h2v1h-2zM42 68h2v1h-2zM42 69h2v1h-2zM41 70h2v1h-2zM41 71h2v1h-2zM41 72h2v1h-2zM41 73h2v1h-2zM45 74h1v1h-1zM45 75h1v1h-1zM35 76h2v1h-2zM32 77h1v1h-1zM32 78h1v1h-1zM32 79h1v1h-1zM42 80h1v1h-1zM33 81h1v1h-1zM36 82h1v1h-1zM36 83h1v1h-1zM36 84h1v1h-1zM38 85h2v1h-2zM42 86h1v1h-1zM21 87h1v1h-1zM67 87h1v1h-1zM53 88h2v1h-2zM31 89h2v1h-2zM6 90h5v1h-5zM60 90h2v1h-2zM1 91h1v1h-1zM57 91h2v1h-2zM0 92h1v1h-1zM56 92h2v1h-2zM55 93h2v1h-2zM8 94h1v1h-1zM51 94h1v1h-1zM6 95h1v1h-1zM50 95h1v1h-1zM7 96h1v1h-1zM0 97h1v1h-1zM49 97h1v1h-1zM1 98h1v1h-1zM49 98h1v1h-1zM2 99h1v1h-1zM47 99h1v1h-1zM2 100h2v1h-2zM47 100h1v1h-1zM0 101h1v1h-1zM48 101h1v1h-1zM0 102h1v1h-1zM50 102h1v1h-1zM44 103h1v1h-1zM44 104h1v1h-1zM7 105h1v1h-1zM44 105h1v1h-1zM45 107h1v1h-1zM45 108h1v1h-1zM45 109h1v1h-1zM45 110h1v1h-1zM15 111h1v1h-1zM55 111h1v1h-1zM14 112h1v1h-1zM54 112h1v1h-1zM54 113h1v1h-1zM15 114h1v1h-1zM54 114h1v1h-1zM12 115h2v1h-2zM54 115h1v1h-1zM12 116h2v1h-2zM17 117h1v1h-1zM55 117h1v1h-1zM15 118h1v1h-1zM57 118h1v1h-1zM6 119h1v1h-1zM46 119h1v1h-1zM7 120h1v1h-1zM46 120h1v1h-1zM7 121h1v1h-1zM46 121h1v1h-1zM8 122h1v1h-1zM46 122h1v1h-1zM8 123h1v1h-1zM47 123h1v1h-1zM7 124h1v1h-1zM47 124h1v1h-1zM2 125h2v1h-2zM48 125h1v1h-1zM4 126h2v1h-2zM48 126h1v1h-1zM4 127h2v1h-2zM49 127h1v1h-1zM6 128h1v1h-1zM49 128h1v1h-1zM6 129h1v1h-1zM50 129h1v1h-1zM6 130h1v1h-1zM51 130h1v1h-1zM9 131h1v1h-1zM52 131h1v1h-1zM9 132h1v1h-1zM52 132h1v1h-1zM9 133h1v1h-1zM52 133h1v1h-1zM11 134h1v1h-1zM51 134h1v1h-1zM11 135h1v1h-1zM51 135h1v1h-1zM11 136h1v1h-1zM51 136h1v1h-1zM11 137h1v1h-1zM51 137h1v1h-1zM11 138h1v1h-1zM51 138h1v1h-1zM10 139h1v1h-1zM51 139h1v1h-1zM11 140h1v1h-1zM51 140h1v1h-1zM11 141h1v1h-1zM51 141h1v1h-1zM12 142h1v1h-1zM51 142h1v1h-1zM11 143h1v1h-1zM51 143h1v1h-1zM10 144h1v1h-1zM52 144h1v1h-1zM53 145h1v1h-1zM54 146h1v1h-1zM54 147h1v1h-1zM16 148h1v1h-1zM52 148h1v1h-1zM16 149h1v1h-1zM52 149h1v1h-1zM51 150h1v1h-1zM13 151h1v1h-1zM51 151h1v1h-1zM13 152h1v1h-1zM51 152h1v1h-1zM12 153h1v1h-1zM51 153h1v1h-1zM68 155h1v1h-1zM64 156h2v1h-2zM14 157h1v1h-1zM71 157h1v1h-1zM49 158h1v1h-1z"/>
<path fill="#b6ff49" d="M26 0h2v1h-2zM27 1h2v1h-2zM24 2h2v1h-2zM24 3h1v1h-1zM24 4h1v1h-1zM22 5h1v1h-1zM22 7h1v1h-1zM24 8h1v1h-1zM23 9h1v1h-1zM23 10h1v1h-1zM24 11h1v1h-1zM24 12h1v1h-1zM24 13h1v1h-1zM24 14h1v1h-1zM24 15h1v1h-1zM30 16h1v1h-1zM30 17h1v1h-1zM30 18h1v1h-1zM30 19h1v1h-1zM30 20h1v1h-1zM30 21h1v1h-1zM26 22h1v1h-1zM27 23h2v1h-2zM27 24h2v1h-2zM27 25h1v1h-1zM25 26h1v1h-1zM41 27h2v1h-2zM41 28h2v1h-2zM36 29h1v1h-1zM35 30h2v1h-2zM31 31h2v1h-2zM19 33h1v1h-1zM20 34h1v1h-1zM22 35h1v1h-1zM20 39h1v1h-1zM20 40h1v1h-1zM20 41h1v1h-1zM20 42h1v1h-1zM20 43h1v1h-1zM20 44h1v1h-1zM21 45h1v1h-1zM21 46h1v1h-1zM22 47h1v1h-1zM20 48h1v1h-1zM20 49h1v1h-1zM20 50h1v1h-1zM20 51h1v1h-1zM20 52h1v1h-1zM20 53h1v1h-1zM23 56h1v1h-1zM23 57h1v1h-1zM23 58h1v1h-1zM22 60h1v1h-1zM22 62h1v1h-1zM22 63h1v1h-1zM43 64h1v1h-1zM43 65h1v1h-1zM43 66h1v1h-1zM41 67h1v1h-1zM41 68h1v1h-1zM41 69h1v1h-1zM39 70h2v1h-2zM39 71h2v1h-2zM39 72h2v1h-2zM39 73h2v1h-2zM43 74h2v1h-2zM43 75h2v1h-2zM33 76h2v1h-2zM31 77h1v1h-1zM31 78h1v1h-1zM31 79h1v1h-1zM41 80h1v1h-1zM32 81h1v1h-1zM35 82h1v1h-1zM35 83h1v1h-1zM35 84h1v1h-1zM37 85h1v1h-1zM41 86h1v1h-1zM22 87h2v1h-2zM66 87h1v1h-1zM50 88h3v1h-3zM29 89h2v1h-2zM11 90h5v1h-5zM58 90h2v1h-2zM2 91h2v1h-2zM55 91h2v1h-2zM1 92h2v1h-2zM54 92h2v1h-2zM0 93h1v1h-1zM54 93h1v1h-1zM7 95h1v1h-1zM8 96h1v1h-1zM47 96h1v1h-1zM1 97h1v1h-1zM48 97h1v1h-1zM2 98h2v1h-2zM48 98h1v1h-1zM3 99h1v1h-1zM46 99h1v1h-1zM4 100h2v1h-2zM46 100h1v1h-1zM1 101h2v1h-2zM47 101h1v1h-1zM1 102h2v1h-2zM49 102h1v1h-1zM42 103h2v1h-2zM43 104h1v1h-1zM8 105h1v1h-1zM41 106h1v1h-1zM44 107h1v1h-1zM0 108h1v1h-1zM44 108h1v1h-1zM44 109h1v1h-1zM44 110h1v1h-1zM16 111h2v1h-2zM54 111h1v1h-1zM15 112h1v1h-1zM53 112h1v1h-1zM15 113h1v1h-1zM53 113h1v1h-1zM16 114h1v1h-1zM53 114h1v1h-1zM14 115h1v1h-1zM53 115h1v1h-1zM14 116h1v1h-1zM54 116h1v1h-1zM18 117h1v1h-1zM16 118h2v1h-2zM56 118h1v1h-1zM7 119h1v1h-1zM45 119h1v1h-1zM8 120h1v1h-1zM45 120h1v1h-1zM8 121h1v1h-1zM45 121h1v1h-1zM9 122h2v1h-2zM45 122h1v1h-1zM9 123h2v1h-2zM46 123h1v1h-1zM8 124h1v1h-1zM46 124h1v1h-1zM4 125h2v1h-2zM47 125h1v1h-1zM6 126h1v1h-1zM47 126h1v1h-1zM6 127h1v1h-1zM48 127h1v1h-1zM7 128h1v1h-1zM48 128h1v1h-1zM7 129h1v1h-1zM49 129h1v1h-1zM7 130h1v1h-1zM50 130h1v1h-1zM10 131h1v1h-1zM51 131h1v1h-1zM10 132h1v1h-1zM51 132h1v1h-1zM10 133h1v1h-1zM51 133h1v1h-1zM12 134h1v1h-1zM50 134h1v1h-1zM12 135h1v1h-1zM50 135h1v1h-1zM12 136h1v1h-1zM50 136h1v1h-1zM12 137h2v1h-2zM50 137h1v1h-1zM12 138h1v1h-1zM50 138h1v1h-1zM11 139h1v1h-1zM50 139h1v1h-1zM12 140h1v1h-1zM50 140h1v1h-1zM12 141h1v1h-1zM50 141h1v1h-1zM13 142h1v1h-1zM50 142h1v1h-1zM12 143h1v1h-1zM50 143h1v1h-1zM11 144h1v1h-1zM51 144h1v1h-1zM17 145h1v1h-1zM52 145h1v1h-1zM18 146h1v1h-1zM53 146h1v1h-1zM18 147h1v1h-1zM53 147h1v1h-1zM17 148h1v1h-1zM51 148h1v1h-1zM17 149h1v1h-1zM51 149h1v1h-1zM14 150h1v1h-1zM50 150h1v1h-1zM50 151h1v1h-1zM50 152h1v1h-1zM13 153h1v1h-1zM50 153h1v1h-1zM77 154h1v1h-1zM69 155h1v1h-1zM66 156h1v1h-1zM13 157h1v1h-1zM72 157h2v1h-2z"/>
<path fill="#bdff42" d="M24 0h2v1h-2zM25 1h2v1h-2zM23 2h1v1h-1zM23 3h1v1h-1zM23 4h1v1h-1zM21 5h1v1h-1zM21 6h1v1h-1zM21 7h1v1h-1zM23 8h1v1h-1zM22 9h1v1h-1zM22 10h1v1h-1zM23 11h1v1h-1zM23 12h1v1h-1zM23 13h1v1h-1zM23 14h1v1h-1zM23 15h1v1h-1zM29 16h1v1h-1zM29 17h1v1h-1zM29 18h1v1h-1zM29 19h1v1h-1zM29 20h1v1h-1zM29 21h1v1h-1zM25 22h1v1h-1zM26 23h1v1h-1zM26 24h1v1h-1zM26 25h1v1h-1zM24 26h1v1h-1zM39 27h2v1h-2zM39 28h2v1h-2zM35 29h1v1h-1zM34 30h1v1h-1zM29 31h2v1h-2zM34 32h1v1h-1zM21 36h1v1h-1zM21 37h1v1h-1zM21 38h1v1h-1zM21 47h1v1h-1zM27 54h1v1h-1zM23 55h1v1h-1zM21 61h1v1h-1zM42 64h1v1h-1zM42 65h1v1h-1zM42 66h1v1h-1zM39 67h2v1h-2zM39 68h2v1h-2zM39 69h2v1h-2zM38 70h1v1h-1zM37 71h2v1h-2zM37 72h2v1h-2zM37 73h2v1h-2zM42 74h1v1h-1zM42 75h1v1h-1zM32 76h1v1h-1zM30 77h1v1h-1zM30 78h1v1h-1zM30 79h1v1h-1zM39 80h2v1h-2zM30 81h2v1h-2zM34 82h1v1h-1zM34 83h1v1h-1zM34 84h1v1h-1zM36 85h1v1h-1zM39 86h2v1h-2zM24 87h1v1h-1zM65 87h1v1h-1zM33 88h17v1h-17zM27 89h2v1h-2zM16 90h1v1h-1zM56 90h2v1h-2zM4 91h2v1h-2zM54 91h1v1h-1zM3 92h3v1h-3zM52 92h2v1h-2zM1 93h5v1h-5zM52 93h2v1h-2zM9 94h1v1h-1zM50 94h1v1h-1zM8 95h1v1h-1zM49 95h1v1h-1zM9 96h1v1h-1zM46 96h1v1h-1zM2 97h2v1h-2zM47 97h1v1h-1zM4 98h2v1h-2zM47 98h1v1h-1zM4 99h2v1h-2zM45 99h1v1h-1zM6 100h1v1h-1zM45 100h1v1h-1zM3 101h3v1h-3zM46 101h1v1h-1zM3 102h3v1h-3zM47 102h2v1h-2zM40 103h2v1h-2zM42 104h1v1h-1zM9 105h1v1h-1zM43 105h1v1h-1zM40 106h1v1h-1zM0 107h1v1h-1zM43 107h1v1h-1zM1 108h1v1h-1zM43 108h1v1h-1zM43 109h1v1h-1zM43 110h1v1h-1zM18 111h1v1h-1zM53 111h1v1h-1zM16 112h2v1h-2zM52 112h1v1h-1zM16 113h2v1h-2zM52 113h1v1h-1zM17 114h1v1h-1zM52 114h1v1h-1zM15 115h2v1h-2zM52 115h1v1h-1zM15 116h1v1h-1zM53 116h1v1h-1zM19 117h1v1h-1zM54 117h1v1h-1zM18 118h1v1h-1zM55 118h1v1h-1zM8 119h1v1h-1zM9 120h2v1h-2zM9 121h2v1h-2zM11 122h1v1h-1zM11 123h1v1h-1zM45 123h1v1h-1zM9 124h2v1h-2zM45 124h1v1h-1zM6 125h1v1h-1zM46 125h1v1h-1zM7 126h2v1h-2zM46 126h1v1h-1zM7 127h1v1h-1zM47 127h1v1h-1zM8 128h1v1h-1zM47 128h1v1h-1zM8 129h1v1h-1zM48 129h1v1h-1zM8 130h1v1h-1zM48 130h2v1h-2zM11 131h1v1h-1zM50 131h1v1h-1zM11 132h1v1h-1zM50 132h1v1h-1zM11 133h1v1h-1zM50 133h1v1h-1zM13 134h1v1h-1zM49 134h1v1h-1zM13 135h1v1h-1zM49 135h1v1h-1zM13 136h1v1h-1zM49 136h1v1h-1zM14 137h1v1h-1zM49 137h1v1h-1zM13 138h1v1h-1zM49 138h1v1h-1zM12 139h2v1h-2zM49 139h1v1h-1zM13 140h1v1h-1zM49 140h1v1h-1zM13 141h1v1h-1zM49 141h1v1h-1zM14 142h1v1h-1zM49 142h1v1h-1zM13 143h1v1h-1zM49 143h1v1h-1zM12 144h1v1h-1zM50 144h1v1h-1zM18 145h1v1h-1zM51 145h1v1h-1zM19 146h1v1h-1zM52 146h1v1h-1zM52 147h1v1h-1zM50 148h1v1h-1zM50 149h1v1h-1zM49 150h1v1h-1zM14 151h1v1h-1zM49 151h1v1h-1zM14 152h1v1h-1zM49 152h1v1h-1zM49 153h1v1h-1zM78 154h1v1h-1zM70 155h1v1h-1zM67 156h1v1h-1zM12 157h1v1h-1zM74 157h2v1h-2zM50 158h1v1h-1z"/>
<path fill="#c3ff3c" d="M23 0h1v1h-1zM24 1h1v1h-1zM22 2h1v1h-1zM22 3h1v1h-1zM22 4h1v1h-1zM20 5h1v1h-1zM20 6h1v1h-1zM20 7h1v1h-1zM22 8h1v1h-1zM22 11h1v1h-1zM22 12h1v1h-1zM22 13h1v1h-1zM22 14h1v1h-1zM22 15h1v1h-1zM27 16h2v1h-2zM27 17h2v1h-2zM27 18h2v1h-2zM27 19h2v1h-2zM27 20h2v1h-2zM27 21h2v1h-2zM24 22h1v1h-1zM25 23h1v1h-1zM25 24h1v1h-1zM25 25h1v1h-1zM23 26h1v1h-1zM37 27h2v1h-2zM37 28h2v1h-2zM34 29h1v1h-1zM32 30h2v1h-2zM28 31h1v1h-1zM32 32h2v1h-2zM18 33h1v1h-1zM19 34h1v1h-1zM21 35h1v1h-1zM20 36h1v1h-1zM20 37h1v1h-1zM20 38h1v1h-1zM19 39h1v1h-1zM19 40h1v1h-1zM19 41h1v1h-1zM19 42h1v1h-1zM19 43h1v1h-1zM19 44h1v1h-1zM20 45h1v1h-1zM20 46h1v1h-1zM19 48h1v1h-1zM19 49h1v1h-1zM19 50h1v1h-1zM19 51h1v1h-1zM19 52h1v1h-1zM19 53h1v1h-1zM26 54h1v1h-1zM22 55h1v1h-1zM22 56h1v1h-1zM22 57h1v1h-1zM22 58h1v1h-1zM23 59h1v1h-1zM21 60h1v1h-1zM20 61h1v1h-1zM21 62h1v1h-1zM21 63h1v1h-1zM41 64h1v1h-1zM41 65h1v1h-1zM41 66h1v1h-1zM38 67h1v1h-1zM38 68h1v1h-1zM38 69h1v1h-1zM36 70h2v1h-2zM35 71h2v1h-2zM35 72h2v1h-2zM35 73h2v1h-2zM41 74h1v1h-1zM41 75h1v1h-1zM30 76h2v1h-2zM29 77h1v1h-1zM29 78h1v1h-1zM29 79h1v1h-1zM37 80h2v1h-2zM29 81h1v1h-1zM33 82h1v1h-1zM33 83h1v1h-1zM33 84h1v1h-1zM35 85h1v1h-1zM38 86h1v1h-1zM25 87h2v1h-2zM64 87h1v1h-1zM29 88h4v1h-4zM25 89h2v1h-2zM17 90h2v1h-2zM54 90h2v1h-2zM6 91h2v1h-2zM52 91h2v1h-2zM6 92h5v1h-5zM50 92h2v1h-2zM6 93h5v1h-5zM50 93h2v1h-2zM48 95h1v1h-1zM10 96h1v1h-1zM45 96h1v1h-1zM4 97h2v1h-2zM46 97h1v1h-1zM6 98h1v1h-1zM46 98h1v1h-1zM6 99h1v1h-1zM44 99h1v1h-1zM7 100h1v1h-1zM44 100h1v1h-1zM6 101h1v1h-1zM45 101h1v1h-1zM6 102h1v1h-1zM45 102h2v1h-2zM39 103h1v1h-1zM40 104h2v1h-2zM10 105h1v1h-1zM1 107h2v1h-2zM42 107h1v1h-1zM2 108h2v1h-2zM42 108h1v1h-1zM42 109h1v1h-1zM42 110h1v1h-1zM19 111h1v1h-1zM52 111h1v1h-1zM18 112h1v1h-1zM51 112h1v1h-1zM18 113h1v1h-1zM51 113h1v1h-1zM18 114h1v1h-1zM51 114h1v1h-1zM17 115h1v1h-1zM51 115h1v1h-1zM16 116h1v1h-1zM52 116h1v1h-1zM53 117h1v1h-1zM19 118h1v1h-1zM54 118h1v1h-1zM9 119h2v1h-2zM44 119h1v1h-1zM11 120h1v1h-1zM44 120h1v1h-1zM11 121h1v1h-1zM44 121h1v1h-1zM12 122h1v1h-1zM44 122h1v1h-1zM12 123h1v1h-1zM44 123h1v1h-1zM11 124h1v1h-1zM44 124h1v1h-1zM7 125h2v1h-2zM45 125h1v1h-1zM9 126h2v1h-2zM45 126h1v1h-1zM8 127h1v1h-1zM46 127h1v1h-1zM9 128h2v1h-2zM46 128h1v1h-1zM9 129h2v1h-2zM46 129h2v1h-2zM9 130h2v1h-2zM46 130h2v1h-2zM12 131h1v1h-1zM48 131h2v1h-2zM12 132h1v1h-1zM48 132h2v1h-2zM12 133h1v1h-1zM48 133h2v1h-2zM14 134h1v1h-1zM48 134h1v1h-1zM14 135h1v1h-1zM48 135h1v1h-1zM14 136h1v1h-1zM48 136h1v1h-1zM15 137h1v1h-1zM48 137h1v1h-1zM14 138h1v1h-1zM48 138h1v1h-1zM14 139h1v1h-1zM48 139h1v1h-1zM14 140h1v1h-1zM48 140h1v1h-1zM14 141h1v1h-1zM48 141h1v1h-1zM48 142h1v1h-1zM14 143h1v1h-1zM48 143h1v1h-1zM13 144h1v1h-1zM49 144h1v1h-1zM19 145h1v1h-1zM50 145h1v1h-1zM51 146h1v1h-1zM19 147h1v1h-1zM51 147h1v1h-1zM18 148h1v1h-1zM18 149h1v1h-1zM15 150h1v1h-1zM48 150h1v1h-1zM48 151h1v1h-1zM48 152h1v1h-1zM14 153h1v1h-1zM48 153h1v1h-1zM71 155h1v1h-1zM68 156h1v1h-1zM11 157h1v1h-1zM76 157h1v1h-1zM51 158h1v1h-1z"/>
<path fill="#caff35" d="M22 0h1v1h-1zM22 1h2v1h-2zM21 2h1v1h-1zM21 3h1v1h-1zM21 4h1v1h-1zM19 5h1v1h-1zM19 6h1v1h-1zM19 7h1v1h-1zM21 9h1v1h-1zM21 10h1v1h-1zM21 11h1v1h-1zM21 12h1v1h-1zM21 13h1v1h-1zM26 16h1v1h-1zM26 17h1v1h-1zM26 18h1v1h-1zM26 19h1v1h-1zM26 20h1v1h-1zM26 21h1v1h-1zM23 22h1v1h-1zM24 23h1v1h-1zM24 24h1v1h-1zM24 25h1v1h-1zM22 26h1v1h-1zM34 27h3v1h-3zM34 28h3v1h-3zM32 29h2v1h-2zM30 30h2v1h-2zM26 31h2v1h-2zM29 32h3v1h-3zM20 35h1v1h-1zM20 47h1v1h-1zM24 54h2v1h-2zM21 56h1v1h-1zM21 57h1v1h-1zM21 58h1v1h-1zM22 59h1v1h-1zM20 60h1v1h-1zM20 62h1v1h-1zM20 63h1v1h-1zM39 64h2v1h-2zM39 65h2v1h-2zM39 66h2v1h-2zM36 67h2v1h-2zM36 68h2v1h-2zM36 69h2v1h-2zM35 70h1v1h-1zM33 71h2v1h-2zM33 72h2v1h-2zM32 73h3v1h-3zM39 74h2v1h-2zM39 75h2v1h-2zM29 76h1v1h-1zM27 77h2v1h-2zM27 78h2v1h-2zM27 79h2v1h-2zM35 80h2v1h-2zM27 81h2v1h-2zM31 82h2v1h-2zM31 83h2v1h-2zM31 84h2v1h-2zM34 85h1v1h-1zM37 86h1v1h-1zM27 87h2v1h-2zM63 87h1v1h-1zM25 88h4v1h-4zM22 89h3v1h-3zM19 90h2v1h-2zM52 90h2v1h-2zM8 91h3v1h-3zM50 91h2v1h-2zM11 92h5v1h-5zM48 92h2v1h-2zM11 93h5v1h-5zM48 93h2v1h-2zM10 94h1v1h-1zM49 94h1v1h-1zM9 95h1v1h-1zM11 96h1v1h-1zM44 96h1v1h-1zM6 97h1v1h-1zM45 97h1v1h-1zM7 98h2v1h-2zM45 98h1v1h-1zM7 99h2v1h-2zM43 99h1v1h-1zM8 100h1v1h-1zM43 100h1v1h-1zM7 101h2v1h-2zM44 101h1v1h-1zM7 102h2v1h-2zM44 102h1v1h-1zM37 103h2v1h-2zM39 104h1v1h-1zM11 105h1v1h-1zM42 105h1v1h-1zM39 106h1v1h-1zM3 107h3v1h-3zM41 107h1v1h-1zM4 108h2v1h-2zM41 108h1v1h-1zM40 109h2v1h-2zM40 110h2v1h-2zM20 111h1v1h-1zM51 111h1v1h-1zM19 112h1v1h-1zM50 112h1v1h-1zM19 113h1v1h-1zM50 113h1v1h-1zM19 114h1v1h-1zM50 114h1v1h-1zM18 115h1v1h-1zM50 115h1v1h-1zM17 116h1v1h-1zM51 116h1v1h-1zM20 117h1v1h-1zM52 117h1v1h-1zM20 118h1v1h-1zM53 118h1v1h-1zM11 119h1v1h-1zM43 119h1v1h-1zM12 120h1v1h-1zM43 120h1v1h-1zM12 121h1v1h-1zM43 121h1v1h-1zM13 122h1v1h-1zM43 122h1v1h-1zM13 123h1v1h-1zM43 123h1v1h-1zM12 124h1v1h-1zM43 124h1v1h-1zM9 125h2v1h-2zM44 125h1v1h-1zM11 126h1v1h-1zM44 126h1v1h-1zM9 127h2v1h-2zM45 127h1v1h-1zM11 128h1v1h-1zM45 128h1v1h-1zM11 129h1v1h-1zM45 129h1v1h-1zM11 130h1v1h-1zM45 130h1v1h-1zM13 131h1v1h-1zM46 131h2v1h-2zM13 132h1v1h-1zM46 132h2v1h-2zM13 133h1v1h-1zM46 133h2v1h-2zM15 134h1v1h-1zM47 134h1v1h-1zM15 135h1v1h-1zM47 135h1v1h-1zM15 136h1v1h-1zM47 136h1v1h-1zM16 137h1v1h-1zM46 137h2v1h-2zM15 138h1v1h-1zM46 138h2v1h-2zM15 139h1v1h-1zM46 139h2v1h-2zM15 140h1v1h-1zM46 140h2v1h-2zM15 141h1v1h-1zM46 141h2v1h-2zM15 142h1v1h-1zM46 142h2v1h-2zM46 143h2v1h-2zM14 144h1v1h-1zM48 144h1v1h-1zM49 145h1v1h-1zM20 146h1v1h-1zM50 146h1v1h-1zM50 147h1v1h-1zM49 148h1v1h-1zM49 149h1v1h-1zM16 150h1v1h-1zM47 150h1v1h-1zM15 151h1v1h-1zM47 151h1v1h-1zM47 152h1v1h-1zM47 153h1v1h-1zM79 154h1v1h-1zM72 155h1v1h-1zM69 156h2v1h-2zM10 157h1v1h-1zM77 157h2v1h-2zM52 158h1v1h-1zM99 158h1v1h-1z"/>
<path fill="#d0ff2f" d="M21 0h1v1h-1zM21 1h1v1h-1zM20 2h1v1h-1zM20 3h1v1h-1zM20 4h1v1h-1zM21 8h1v1h-1zM20 9h1v1h-1zM20 10h1v1h-1zM20 11h1v1h-1zM20 12h1v1h-1zM20 13h1v1h-1zM21 14h1v1h-1zM21 15h1v1h-1zM24 16h2v1h-2zM24 17h2v1h-2zM24 18h2v1h-2zM24 19h2v1h-2zM24 20h2v1h-2zM24 21h2v1h-2zM22 22h1v1h-1zM23 23h1v1h-1zM23 24h1v1h-1zM23 25h1v1h-1zM21 26h1v1h-1zM32 27h2v1h-2zM32 28h2v1h-2zM29 29h3v1h-3zM28 30h2v1h-2zM24 31h2v1h-2zM26 32h3v1h-3zM17 33h1v1h-1zM18 34h1v1h-1zM19 36h1v1h-1zM19 37h1v1h-1zM19 38h1v1h-1zM18 39h1v1h-1zM18 40h1v1h-1zM18 41h1v1h-1zM18 42h1v1h-1zM18 43h1v1h-1zM18 44h1v1h-1zM19 45h1v1h-1zM19 46h1v1h-1zM18 48h1v1h-1zM18 49h1v1h-1zM18 51h1v1h-1zM18 52h1v1h-1zM18 53h1v1h-1zM23 54h1v1h-1zM21 55h1v1h-1zM20 56h1v1h-1zM20 57h1v1h-1zM20 58h1v1h-1zM19 61h1v1h-1zM38 64h1v1h-1zM38 65h1v1h-1zM38 66h1v1h-1zM35 67h1v1h-1zM35 68h1v1h-1zM35 69h1v1h-1zM33 70h2v1h-2zM30 71h3v1h-3zM30 72h3v1h-3zM25 73h7v1h-7zM38 74h1v1h-1zM37 75h2v1h-2zM27 76h2v1h-2zM25 77h2v1h-2zM25 78h2v1h-2zM25 79h2v1h-2zM33 80h2v1h-2zM25 81h2v1h-2zM29 82h2v1h-2zM30 83h1v1h-1zM30 84h1v1h-1zM33 85h1v1h-1zM36 86h1v1h-1zM29 87h5v1h-5zM62 87h1v1h-1zM22 88h3v1h-3zM18 89h4v1h-4zM21 90h1v1h-1zM50 90h2v1h-2zM11 91h2v1h-2zM48 91h2v1h-2zM16 92h2v1h-2zM45 92h3v1h-3zM16 93h5v1h-5zM45 93h3v1h-3zM48 94h1v1h-1zM10 95h1v1h-1zM47 95h1v1h-1zM12 96h1v1h-1zM43 96h1v1h-1zM7 97h2v1h-2zM44 97h1v1h-1zM9 98h2v1h-2zM44 98h1v1h-1zM9 99h2v1h-2zM42 99h1v1h-1zM9 100h2v1h-2zM42 100h1v1h-1zM9 101h2v1h-2zM43 101h1v1h-1zM9 102h2v1h-2zM43 102h1v1h-1zM35 103h2v1h-2zM37 104h2v1h-2zM12 105h1v1h-1zM38 106h1v1h-1zM6 107h1v1h-1zM40 107h1v1h-1zM6 108h1v1h-1zM40 108h1v1h-1zM38 109h2v1h-2zM39 110h1v1h-1zM21 111h1v1h-1zM50 111h1v1h-1zM20 112h1v1h-1zM49 112h1v1h-1zM20 113h1v1h-1zM49 113h1v1h-1zM20 114h1v1h-1zM49 114h1v1h-1zM19 115h1v1h-1zM49 115h1v1h-1zM18 116h1v1h-1zM50 116h1v1h-1zM21 117h1v1h-1zM51 117h1v1h-1zM21 118h2v1h-2zM52 118h1v1h-1zM12 119h2v1h-2zM42 119h1v1h-1zM13 120h1v1h-1zM42 120h1v1h-1zM13 121h1v1h-1zM42 121h1v1h-1zM14 122h1v1h-1zM42 122h1v1h-1zM14 123h1v1h-1zM42 123h1v1h-1zM13 124h1v1h-1zM42 124h1v1h-1zM11 125h1v1h-1zM43 125h1v1h-1zM12 126h1v1h-1zM43 126h1v1h-1zM11 127h1v1h-1zM44 127h1v1h-1zM12 128h2v1h-2zM44 128h1v1h-1zM12 129h2v1h-2zM44 129h1v1h-1zM12 130h2v1h-2zM44 130h1v1h-1zM14 131h1v1h-1zM44 131h2v1h-2zM14 132h1v1h-1zM44 132h2v1h-2zM14 133h1v1h-1zM44 133h2v1h-2zM16 134h1v1h-1zM45 134h2v1h-2zM16 135h1v1h-1zM45 135h2v1h-2zM16 136h1v1h-1zM45 136h2v1h-2zM17 137h1v1h-1zM45 137h1v1h-1zM16 138h1v1h-1zM45 138h1v1h-1zM16 139h1v1h-1zM45 139h1v1h-1zM16 140h1v1h-1zM45 140h1v1h-1zM16 141h1v1h-1zM45 141h1v1h-1zM16 142h1v1h-1zM45 142h1v1h-1zM15 143h1v1h-1zM45 143h1v1h-1zM15 144h1v1h-1zM47 144h1v1h-1zM20 145h1v1h-1zM48 145h1v1h-1zM49 146h1v1h-1zM20 147h1v1h-1zM49 147h1v1h-1zM48 148h1v1h-1zM48 149h1v1h-1zM46 150h1v1h-1zM16 151h1v1h-1zM46 151h1v1h-1zM15 152h1v1h-1zM46 152h1v1h-1zM15 153h1v1h-1zM46 153h1v1h-1zM80 154h1v1h-1zM73 155h1v1h-1zM71 156h1v1h-1zM9 157h1v1h-1zM79 157h2v1h-2zM53 158h1v1h-1zM96 158h3v1h-3z"/>
<path fill="#d6ff29" d="M20 0h1v1h-1zM20 1h1v1h-1zM19 2h1v1h-1zM19 3h1v1h-1zM19 4h1v1h-1zM18 5h1v1h-1zM18 6h1v1h-1zM18 7h1v1h-1zM20 8h1v1h-1zM19 9h1v1h-1zM19 10h1v1h-1zM19 11h1v1h-1zM19 12h1v1h-1zM19 13h1v1h-1zM20 14h1v1h-1zM20 15h1v1h-1zM23 16h1v1h-1zM23 17h1v1h-1zM23 18h1v1h-1zM23 19h1v1h-1zM23 20h1v1h-1zM23 21h1v1h-1zM21 22h1v1h-1zM22 23h1v1h-1zM22 24h1v1h-1zM22 25h1v1h-1zM20 26h1v1h-1zM29 27h3v1h-3zM29 28h3v1h-3zM26 29h3v1h-3zM26 30h2v1h-2zM23 31h1v1h-1zM24 32h2v1h-2zM17 34h1v1h-1zM19 35h1v1h-1zM18 36h1v1h-1zM18 37h1v1h-1zM18 46h1v1h-1zM19 47h1v1h-1zM18 50h1v1h-1zM22 54h1v1h-1zM20 55h1v1h-1zM21 59h1v1h-1zM19 60h1v1h-1zM19 62h1v1h-1zM19 63h1v1h-1zM36 64h2v1h-2zM36 65h2v1h-2zM36 66h2v1h-2zM33 67h2v1h-2zM33 68h2v1h-2zM33 69h2v1h-2zM30 70h3v1h-3zM25 71h5v1h-5zM24 72h6v1h-6zM20 73h5v1h-5zM36 74h2v1h-2zM0 75h6v1h-6zM35 75h2v1h-2zM25 76h2v1h-2zM23 77h2v1h-2zM23 78h2v1h-2zM23 79h2v1h-2zM31 80h2v1h-2zM24 81h1v1h-1zM25 82h4v1h-4zM28 83h2v1h-2zM28 84h2v1h-2zM31 85h2v1h-2zM34 86h2v1h-2zM34 87h2v1h-2zM61 87h1v1h-1zM18 88h4v1h-4zM15 89h3v1h-3zM22 90h2v1h-2zM47 90h3v1h-3zM13 91h3v1h-3zM45 91h3v1h-3zM18 92h3v1h-3zM43 92h2v1h-2zM21 93h2v1h-2zM43 93h2v1h-2zM11 94h1v1h-1zM47 94h1v1h-1zM46 95h1v1h-1zM13 96h1v1h-1zM42 96h1v1h-1zM9 97h2v1h-2zM43 97h1v1h-1zM11 98h1v1h-1zM43 98h1v1h-1zM11 99h1v1h-1zM41 99h1v1h-1zM11 100h1v1h-1zM41 100h1v1h-1zM11 101h1v1h-1zM42 101h1v1h-1zM11 102h2v1h-2zM42 102h1v1h-1zM34 103h1v1h-1zM35 104h2v1h-2zM13 105h1v1h-1zM41 105h1v1h-1zM37 106h1v1h-1zM7 107h2v1h-2zM39 107h1v1h-1zM7 108h2v1h-2zM39 108h1v1h-1zM35 109h3v1h-3zM37 110h2v1h-2zM22 111h2v1h-2zM49 111h1v1h-1zM21 112h1v1h-1zM48 112h1v1h-1zM21 113h1v1h-1zM48 113h1v1h-1zM21 114h1v1h-1zM48 114h1v1h-1zM20 115h1v1h-1zM48 115h1v1h-1zM19 116h1v1h-1zM49 116h1v1h-1zM22 117h1v1h-1zM50 117h1v1h-1zM23 118h3v1h-3zM51 118h1v1h-1zM14 119h1v1h-1zM41 119h1v1h-1zM14 120h1v1h-1zM41 120h1v1h-1zM14 121h1v1h-1zM41 121h1v1h-1zM41 122h1v1h-1zM41 123h1v1h-1zM14 124h1v1h-1zM41 124h1v1h-1zM12 125h2v1h-2zM42 125h1v1h-1zM13 126h1v1h-1zM42 126h1v1h-1zM12 127h2v1h-2zM43 127h1v1h-1zM14 128h1v1h-1zM43 128h1v1h-1zM14 129h1v1h-1zM42 129h2v1h-2zM14 130h1v1h-1zM42 130h2v1h-2zM15 131h2v1h-2zM42 131h2v1h-2zM15 132h2v1h-2zM42 132h2v1h-2zM15 133h2v1h-2zM42 133h2v1h-2zM17 134h1v1h-1zM44 134h1v1h-1zM17 135h1v1h-1zM44 135h1v1h-1zM17 136h1v1h-1zM44 136h1v1h-1zM18 137h1v1h-1zM44 137h1v1h-1zM17 138h1v1h-1zM44 138h1v1h-1zM17 139h1v1h-1zM44 139h1v1h-1zM17 140h1v1h-1zM44 140h1v1h-1zM17 141h1v1h-1zM44 141h1v1h-1zM17 142h1v1h-1zM44 142h1v1h-1zM16 143h1v1h-1zM44 143h1v1h-1zM16 144h1v1h-1zM46 144h1v1h-1zM47 145h1v1h-1zM21 146h1v1h-1zM48 146h1v1h-1zM48 147h1v1h-1zM19 148h1v1h-1zM47 148h1v1h-1zM19 149h1v1h-1zM47 149h1v1h-1zM17 150h1v1h-1zM45 150h1v1h-1zM45 151h1v1h-1zM16 152h1v1h-1zM45 152h1v1h-1zM16 153h1v1h-1zM45 153h1v1h-1zM74 155h1v1h-1zM72 156h1v1h-1zM8 157h1v1h-1zM81 157h1v1h-1zM54 158h2v1h-2zM93 158h3v1h-3z"/>
<path fill="#ddff22" d="M19 0h1v1h-1zM19 1h1v1h-1zM18 2h1v1h-1zM18 4h1v1h-1zM17 5h1v1h-1zM17 6h1v1h-1zM17 7h1v1h-1zM19 8h1v1h-1zM19 14h1v1h-1zM19 15h1v1h-1zM22 16h1v1h-1zM22 17h1v1h-1zM22 18h1v1h-1zM22 19h1v1h-1zM22 20h1v1h-1zM22 21h1v1h-1zM20 22h1v1h-1zM21 23h1v1h-1zM21 24h1v1h-1zM21 25h1v1h-1zM26 27h3v1h-3zM26 28h3v1h-3zM24 29h2v1h-2zM24 30h2v1h-2zM22 31h1v1h-1zM23 32h1v1h-1zM16 33h1v1h-1zM18 35h1v1h-1zM18 38h1v1h-1zM17 39h1v1h-1zM17 40h1v1h-1zM17 41h1v1h-1zM17 42h1v1h-1zM17 43h1v1h-1zM17 44h1v1h-1zM18 45h1v1h-1zM18 47h1v1h-1zM17 48h1v1h-1zM17 49h1v1h-1zM17 51h1v1h-1zM17 52h1v1h-1zM17 53h1v1h-1zM21 54h1v1h-1zM19 55h1v1h-1zM19 56h1v1h-1zM19 57h1v1h-1zM19 58h1v1h-1zM20 59h1v1h-1zM18 60h1v1h-1zM18 61h1v1h-1zM18 62h1v1h-1zM18 63h1v1h-1zM0 64h1v1h-1zM35 64h1v1h-1zM35 65h1v1h-1zM35 66h1v1h-1zM30 67h3v1h-3zM30 68h3v1h-3zM30 69h3v1h-3zM25 70h5v1h-5zM20 71h5v1h-5zM15 72h9v1h-9zM15 73h5v1h-5zM35 74h1v1h-1zM6 75h5v1h-5zM33 75h2v1h-2zM23 76h2v1h-2zM20 77h3v1h-3zM21 78h2v1h-2zM21 79h2v1h-2zM29 80h2v1h-2zM22 81h2v1h-2zM23 82h2v1h-2zM25 83h3v1h-3zM25 84h3v1h-3zM30 85h1v1h-1zM33 86h1v1h-1zM36 87h3v1h-3zM60 87h1v1h-1zM15 88h3v1h-3zM14 89h1v1h-1zM24 90h3v1h-3zM43 90h4v1h-4zM16 91h2v1h-2zM43 91h2v1h-2zM21 92h6v1h-6zM39 92h4v1h-4zM23 93h4v1h-4zM39 93h4v1h-4zM12 94h1v1h-1zM46 94h1v1h-1zM11 95h1v1h-1zM45 95h1v1h-1zM14 96h1v1h-1zM41 96h1v1h-1zM11 97h1v1h-1zM42 97h1v1h-1zM12 98h2v1h-2zM42 98h1v1h-1zM12 99h2v1h-2zM40 99h1v1h-1zM12 100h2v1h-2zM40 100h1v1h-1zM12 101h2v1h-2zM40 101h2v1h-2zM13 102h2v1h-2zM40 102h2v1h-2zM32 103h2v1h-2zM0 104h2v1h-2zM34 104h1v1h-1zM14 105h1v1h-1zM40 105h1v1h-1zM0 106h1v1h-1zM36 106h1v1h-1zM9 107h2v1h-2zM38 107h1v1h-1zM9 108h2v1h-2zM38 108h1v1h-1zM34 109h1v1h-1zM35 110h2v1h-2zM24 111h2v1h-2zM48 111h1v1h-1zM22 112h2v1h-2zM47 112h1v1h-1zM22 113h2v1h-2zM47 113h1v1h-1zM22 114h2v1h-2zM47 114h1v1h-1zM21 115h1v1h-1zM47 115h1v1h-1zM20 116h1v1h-1zM48 116h1v1h-1zM23 117h1v1h-1zM49 117h1v1h-1zM26 118h2v1h-2zM50 118h1v1h-1zM15 119h1v1h-1zM40 119h1v1h-1zM15 120h1v1h-1zM40 120h1v1h-1zM15 121h1v1h-1zM40 121h1v1h-1zM15 122h1v1h-1zM40 122h1v1h-1zM15 123h1v1h-1zM40 123h1v1h-1zM15 124h1v1h-1zM40 124h1v1h-1zM14 125h1v1h-1zM41 125h1v1h-1zM14 126h1v1h-1zM41 126h1v1h-1zM14 127h1v1h-1zM42 127h1v1h-1zM15 128h2v1h-2zM42 128h1v1h-1zM15 129h2v1h-2zM41 129h1v1h-1zM15 130h2v1h-2zM41 130h1v1h-1zM17 131h1v1h-1zM41 131h1v1h-1zM17 132h1v1h-1zM41 132h1v1h-1zM17 133h1v1h-1zM41 133h1v1h-1zM18 134h1v1h-1zM43 134h1v1h-1zM18 135h1v1h-1zM43 135h1v1h-1zM18 136h1v1h-1zM43 136h1v1h-1zM19 137h1v1h-1zM42 137h2v1h-2zM18 138h1v1h-1zM42 138h2v1h-2zM18 139h1v1h-1zM42 139h2v1h-2zM18 140h1v1h-1zM42 140h2v1h-2zM18 141h1v1h-1zM43 141h1v1h-1zM18 142h1v1h-1zM43 142h1v1h-1zM17 143h1v1h-1zM43 143h1v1h-1zM17 144h1v1h-1zM45 144h1v1h-1zM21 145h1v1h-1zM46 145h1v1h-1zM47 146h1v1h-1zM21 147h1v1h-1zM47 147h1v1h-1zM46 148h1v1h-1zM46 149h1v1h-1zM18 150h1v1h-1zM44 150h1v1h-1zM17 151h1v1h-1zM44 151h1v1h-1zM44 152h1v1h-1zM44 153h1v1h-1zM81 154h1v1h-1zM75 155h1v1h-1zM73 156h1v1h-1zM7 157h1v1h-1zM82 157h2v1h-2zM56 158h1v1h-1zM90 158h3v1h-3z"/>
<path fill="#e3ff1c" d="M18 0h1v1h-1zM18 1h1v1h-1zM17 2h1v1h-1zM18 3h1v1h-1zM17 4h1v1h-1zM18 9h1v1h-1zM18 10h1v1h-1zM18 11h1v1h-1zM18 12h1v1h-1zM18 13h1v1h-1zM21 16h1v1h-1zM21 17h1v1h-1zM21 18h1v1h-1zM21 19h1v1h-1zM21 20h1v1h-1zM21 21h1v1h-1zM20 23h1v1h-1zM20 24h1v1h-1zM20 25h1v1h-1zM19 26h1v1h-1zM24 27h2v1h-2zM24 28h2v1h-2zM22 29h2v1h-2zM22 30h2v1h-2zM21 31h1v1h-1zM21 32h2v1h-2zM16 34h1v1h-1zM17 36h1v1h-1zM17 37h1v1h-1zM17 46h1v1h-1zM17 50h1v1h-1zM20 54h1v1h-1zM1 64h5v1h-5zM33 64h2v1h-2zM33 65h2v1h-2zM0 66h1v1h-1zM33 66h2v1h-2zM24 67h6v1h-6zM24 68h6v1h-6zM24 69h6v1h-6zM20 70h5v1h-5zM15 71h5v1h-5zM13 72h2v1h-2zM13 73h2v1h-2zM9 74h8v1h-8zM32 74h3v1h-3zM11 75h2v1h-2zM30 75h3v1h-3zM20 76h3v1h-3zM19 77h1v1h-1zM19 78h2v1h-2zM19 79h2v1h-2zM25 80h4v1h-4zM20 81h2v1h-2zM21 82h2v1h-2zM24 83h1v1h-1zM24 84h1v1h-1zM28 85h2v1h-2zM31 86h2v1h-2zM39 87h2v1h-2zM59 87h1v1h-1zM11 88h4v1h-4zM12 89h2v1h-2zM27 90h16v1h-16zM18 91h3v1h-3zM39 91h4v1h-4zM27 92h12v1h-12zM27 93h12v1h-12zM13 94h1v1h-1zM45 94h1v1h-1zM12 95h1v1h-1zM44 95h1v1h-1zM40 96h1v1h-1zM12 97h2v1h-2zM40 97h2v1h-2zM14 98h1v1h-1zM40 98h2v1h-2zM14 99h1v1h-1zM39 99h1v1h-1zM14 100h1v1h-1zM39 100h1v1h-1zM14 101h1v1h-1zM39 101h1v1h-1zM15 102h2v1h-2zM38 102h2v1h-2zM30 103h2v1h-2zM2 104h9v1h-9zM32 104h2v1h-2zM39 105h1v1h-1zM1 106h5v1h-5zM35 106h1v1h-1zM11 107h2v1h-2zM37 107h1v1h-1zM11 108h2v1h-2zM37 108h1v1h-1zM32 109h2v1h-2zM0 110h1v1h-1zM34 110h1v1h-1zM26 111h2v1h-2zM47 111h1v1h-1zM24 112h2v1h-2zM45 112h2v1h-2zM24 113h2v1h-2zM45 113h2v1h-2zM24 114h2v1h-2zM45 114h2v1h-2zM22 115h2v1h-2zM45 115h2v1h-2zM21 116h1v1h-1zM47 116h1v1h-1zM24 117h1v1h-1zM47 117h2v1h-2zM28 118h3v1h-3zM48 118h2v1h-2zM16 119h1v1h-1zM16 120h1v1h-1zM16 121h1v1h-1zM39 121h1v1h-1zM16 122h1v1h-1zM39 122h1v1h-1zM16 123h1v1h-1zM39 123h1v1h-1zM16 124h1v1h-1zM39 124h1v1h-1zM15 125h2v1h-2zM40 125h1v1h-1zM15 126h2v1h-2zM40 126h1v1h-1zM15 127h2v1h-2zM40 127h2v1h-2zM17 128h1v1h-1zM41 128h1v1h-1zM17 129h1v1h-1zM40 129h1v1h-1zM17 130h1v1h-1zM40 130h1v1h-1zM18 131h1v1h-1zM40 131h1v1h-1zM18 132h1v1h-1zM40 132h1v1h-1zM18 133h2v1h-2zM40 133h1v1h-1zM19 134h1v1h-1zM42 134h1v1h-1zM19 135h1v1h-1zM42 135h1v1h-1zM19 136h1v1h-1zM42 136h1v1h-1zM20 137h1v1h-1zM41 137h1v1h-1zM19 138h1v1h-1zM41 138h1v1h-1zM19 139h1v1h-1zM41 139h1v1h-1zM19 140h1v1h-1zM41 140h1v1h-1zM19 141h1v1h-1zM42 141h1v1h-1zM19 142h1v1h-1zM42 142h1v1h-1zM18 143h1v1h-1zM42 143h1v1h-1zM18 144h1v1h-1zM44 144h1v1h-1zM45 145h1v1h-1zM22 146h1v1h-1zM46 146h1v1h-1zM46 147h1v1h-1zM20 148h1v1h-1zM45 148h1v1h-1zM20 149h1v1h-1zM45 149h1v1h-1zM43 150h1v1h-1zM18 151h1v1h-1zM43 151h1v1h-1zM17 152h1v1h-1zM43 152h1v1h-1zM17 153h1v1h-1zM43 153h1v1h-1zM82 154h1v1h-1zM76 155h1v1h-1zM74 156h2v1h-2zM6 157h1v1h-1zM84 157h2v1h-2zM57 158h2v1h-2zM88 158h2v1h-2z"/>
<path fill="#eaff15" d="M17 0h1v1h-1zM17 1h1v1h-1zM16 2h1v1h-1zM17 3h1v1h-1zM16 4h1v1h-1zM16 5h1v1h-1zM16 6h1v1h-1zM16 7h1v1h-1zM18 8h1v1h-1zM17 9h1v1h-1zM17 10h1v1h-1zM17 11h1v1h-1zM17 12h1v1h-1zM17 13h1v1h-1zM18 14h1v1h-1zM18 15h1v1h-1zM20 16h1v1h-1zM20 17h1v1h-1zM20 18h1v1h-1zM20 19h1v1h-1zM20 20h1v1h-1zM20 21h1v1h-1zM19 22h1v1h-1zM19 23h1v1h-1zM19 24h1v1h-1zM19 25h1v1h-1zM18 26h1v1h-1zM22 27h2v1h-2zM22 28h2v1h-2zM20 29h2v1h-2zM20 30h2v1h-2zM20 31h1v1h-1zM20 32h1v1h-1zM15 33h1v1h-1zM17 35h1v1h-1zM16 36h1v1h-1zM16 37h1v1h-1zM17 38h1v1h-1zM16 39h1v1h-1zM16 40h1v1h-1zM16 41h1v1h-1zM16 42h1v1h-1zM16 43h1v1h-1zM16 44h1v1h-1zM17 45h1v1h-1zM16 46h1v1h-1zM17 47h1v1h-1zM16 48h1v1h-1zM16 49h1v1h-1zM16 51h1v1h-1zM16 52h1v1h-1zM16 53h1v1h-1zM19 54h1v1h-1zM18 55h1v1h-1zM18 56h1v1h-1zM18 57h1v1h-1zM18 58h1v1h-1zM19 59h1v1h-1zM17 60h1v1h-1zM17 61h1v1h-1zM17 62h1v1h-1zM17 63h1v1h-1zM6 64h2v1h-2zM31 64h2v1h-2zM0 65h7v1h-7zM30 65h3v1h-3zM1 66h5v1h-5zM30 66h3v1h-3zM17 67h7v1h-7zM17 68h7v1h-7zM17 69h7v1h-7zM15 70h5v1h-5zM14 71h1v1h-1zM10 72h3v1h-3zM10 73h3v1h-3zM0 74h9v1h-9zM17 74h15v1h-15zM13 75h17v1h-17zM18 76h2v1h-2zM18 77h1v1h-1zM17 78h2v1h-2zM17 79h2v1h-2zM22 80h3v1h-3zM19 81h1v1h-1zM19 82h2v1h-2zM22 83h2v1h-2zM22 84h2v1h-2zM25 85h3v1h-3zM30 86h1v1h-1zM41 87h2v1h-2zM57 87h2v1h-2zM8 88h3v1h-3zM10 89h2v1h-2zM21 91h18v1h-18zM14 94h1v1h-1zM43 94h2v1h-2zM13 95h1v1h-1zM42 95h2v1h-2zM15 96h1v1h-1zM39 96h1v1h-1zM14 97h1v1h-1zM39 97h1v1h-1zM15 98h2v1h-2zM39 98h1v1h-1zM15 99h2v1h-2zM38 99h1v1h-1zM15 100h2v1h-2zM38 100h1v1h-1zM15 101h2v1h-2zM37 101h2v1h-2zM17 102h1v1h-1zM35 102h3v1h-3zM0 103h12v1h-12zM29 103h1v1h-1zM11 104h4v1h-4zM30 104h2v1h-2zM15 105h1v1h-1zM38 105h1v1h-1zM6 106h2v1h-2zM34 106h1v1h-1zM13 107h2v1h-2zM36 107h1v1h-1zM13 108h2v1h-2zM35 108h2v1h-2zM30 109h2v1h-2zM1 110h5v1h-5zM32 110h2v1h-2zM28 111h3v1h-3zM45 111h2v1h-2zM26 112h2v1h-2zM43 112h2v1h-2zM26 113h2v1h-2zM43 113h2v1h-2zM26 114h2v1h-2zM43 114h2v1h-2zM24 115h2v1h-2zM43 115h2v1h-2zM22 116h2v1h-2zM45 116h2v1h-2zM25 117h1v1h-1zM45 117h2v1h-2zM31 118h2v1h-2zM45 118h3v1h-3zM17 119h1v1h-1zM39 119h1v1h-1zM17 120h1v1h-1zM39 120h1v1h-1zM17 121h1v1h-1zM38 121h1v1h-1zM17 122h1v1h-1zM38 122h1v1h-1zM17 123h1v1h-1zM38 123h1v1h-1zM17 124h1v1h-1zM38 124h1v1h-1zM17 125h1v1h-1zM39 125h1v1h-1zM17 126h1v1h-1zM39 126h1v1h-1zM17 127h1v1h-1zM39 127h1v1h-1zM18 128h1v1h-1zM40 128h1v1h-1zM18 129h1v1h-1zM38 129h2v1h-2zM18 130h2v1h-2zM38 130h2v1h-2zM19 131h1v1h-1zM38 131h2v1h-2zM19 132h1v1h-1zM38 132h2v1h-2zM20 133h2v1h-2zM38 133h2v1h-2zM20 134h1v1h-1zM40 134h2v1h-2zM20 135h1v1h-1zM40 135h2v1h-2zM20 136h1v1h-1zM40 136h2v1h-2zM21 137h1v1h-1zM40 137h1v1h-1zM20 138h1v1h-1zM40 138h1v1h-1zM20 139h1v1h-1zM40 139h1v1h-1zM20 140h1v1h-1zM40 140h1v1h-1zM20 141h1v1h-1zM41 141h1v1h-1zM20 142h1v1h-1zM41 142h1v1h-1zM19 143h1v1h-1zM41 143h1v1h-1zM19 144h1v1h-1zM42 144h2v1h-2zM22 145h1v1h-1zM44 145h1v1h-1zM44 146h2v1h-2zM22 147h1v1h-1zM44 147h2v1h-2zM44 148h1v1h-1zM44 149h1v1h-1zM42 150h1v1h-1zM42 151h1v1h-1zM18 152h1v1h-1zM42 152h1v1h-1zM18 153h1v1h-1zM42 153h1v1h-1zM77 155h1v1h-1zM76 156h1v1h-1zM5 157h1v1h-1zM86 157h1v1h-1zM59 158h2v1h-2zM85 158h3v1h-3z"/>
<path fill="#f0ff0f" d="M16 0h1v1h-1zM16 1h1v1h-1zM16 3h1v1h-1zM15 5h1v1h-1zM15 6h1v1h-1zM15 7h1v1h-1zM17 8h1v1h-1zM16 12h1v1h-1zM16 13h1v1h-1zM17 14h1v1h-1zM17 15h1v1h-1zM18 16h2v1h-2zM18 17h2v1h-2zM18 18h2v1h-2zM18 19h2v1h-2zM18 20h2v1h-2zM18 21h2v1h-2zM18 22h1v1h-1zM18 23h1v1h-1zM18 24h1v1h-1zM18 25h1v1h-1zM17 26h1v1h-1zM20 27h2v1h-2zM20 28h2v1h-2zM19 29h1v1h-1zM19 30h1v1h-1zM18 31h2v1h-2zM18 32h2v1h-2zM15 34h1v1h-1zM16 38h1v1h-1zM16 45h1v1h-1zM16 50h1v1h-1zM18 54h1v1h-1zM17 56h1v1h-1zM17 57h1v1h-1zM17 58h1v1h-1zM18 59h1v1h-1zM16 61h1v1h-1zM8 64h3v1h-3zM29 64h2v1h-2zM7 65h23v1h-23zM6 66h24v1h-24zM9 67h8v1h-8zM0 68h17v1h-17zM0 69h17v1h-17zM13 70h2v1h-2zM12 71h2v1h-2zM8 72h2v1h-2zM5 73h5v1h-5zM15 76h3v1h-3zM17 77h1v1h-1zM15 78h2v1h-2zM15 79h2v1h-2zM18 80h4v1h-4zM17 81h2v1h-2zM17 82h2v1h-2zM20 83h2v1h-2zM20 84h2v1h-2zM23 85h2v1h-2zM28 86h2v1h-2zM43 87h3v1h-3zM55 87h2v1h-2zM4 88h4v1h-4zM8 89h2v1h-2zM15 94h1v1h-1zM42 94h1v1h-1zM14 95h1v1h-1zM40 95h2v1h-2zM16 96h1v1h-1zM38 96h1v1h-1zM15 97h2v1h-2zM38 97h1v1h-1zM17 98h1v1h-1zM38 98h1v1h-1zM17 99h1v1h-1zM36 99h2v1h-2zM17 100h1v1h-1zM36 100h2v1h-2zM17 101h1v1h-1zM35 101h2v1h-2zM18 102h1v1h-1zM33 102h2v1h-2zM12 103h3v1h-3zM27 103h2v1h-2zM15 104h1v1h-1zM29 104h1v1h-1zM16 105h1v1h-1zM37 105h1v1h-1zM8 106h1v1h-1zM33 106h1v1h-1zM15 107h2v1h-2zM35 107h1v1h-1zM15 108h2v1h-2zM33 108h2v1h-2zM29 109h1v1h-1zM6 110h2v1h-2zM30 110h2v1h-2zM31 111h14v1h-14zM28 112h3v1h-3zM40 112h3v1h-3zM28 113h3v1h-3zM40 113h3v1h-3zM28 114h3v1h-3zM40 114h3v1h-3zM26 115h2v1h-2zM40 115h3v1h-3zM24 116h2v1h-2zM43 116h2v1h-2zM26 117h1v1h-1zM43 117h2v1h-2zM33 118h12v1h-12zM18 119h1v1h-1zM38 119h1v1h-1zM18 120h1v1h-1zM38 120h1v1h-1zM18 121h1v1h-1zM37 121h1v1h-1zM18 122h1v1h-1zM37 122h1v1h-1zM18 123h1v1h-1zM37 123h1v1h-1zM18 124h1v1h-1zM37 124h1v1h-1zM18 125h1v1h-1zM38 125h1v1h-1zM18 126h1v1h-1zM38 126h1v1h-1zM18 127h1v1h-1zM37 127h2v1h-2zM19 128h1v1h-1zM38 128h2v1h-2zM19 129h1v1h-1zM37 129h1v1h-1zM20 130h2v1h-2zM37 130h1v1h-1zM20 131h2v1h-2zM37 131h1v1h-1zM20 132h2v1h-2zM37 132h1v1h-1zM22 133h16v1h-16zM21 134h1v1h-1zM39 134h1v1h-1zM21 135h1v1h-1zM39 135h1v1h-1zM21 136h1v1h-1zM39 136h1v1h-1zM39 137h1v1h-1zM21 138h1v1h-1zM39 138h1v1h-1zM21 139h1v1h-1zM39 139h1v1h-1zM21 140h1v1h-1zM39 140h1v1h-1zM21 141h1v1h-1zM40 141h1v1h-1zM21 142h1v1h-1zM40 142h1v1h-1zM20 143h1v1h-1zM39 143h2v1h-2zM20 144h1v1h-1zM41 144h1v1h-1zM23 145h1v1h-1zM42 145h2v1h-2zM23 146h1v1h-1zM43 146h1v1h-1zM23 147h1v1h-1zM43 147h1v1h-1zM21 148h1v1h-1zM43 148h1v1h-1zM21 149h1v1h-1zM43 149h1v1h-1zM19 150h1v1h-1zM41 150h1v1h-1zM19 151h1v1h-1zM41 151h1v1h-1zM41 152h1v1h-1zM41 153h1v1h-1zM83 154h1v1h-1zM78 155h1v1h-1zM77 156h2v1h-2zM4 157h1v1h-1zM87 157h1v1h-1zM61 158h2v1h-2zM83 158h2v1h-2z"/>
<path fill="#f7ff08" d="M15 0h1v1h-1zM15 1h1v1h-1zM14 2h2v1h-2zM15 3h1v1h-1zM14 4h2v1h-2zM14 5h1v1h-1zM14 6h1v1h-1zM14 7h1v1h-1zM16 8h1v1h-1zM16 9h1v1h-1zM16 10h1v1h-1zM16 11h1v1h-1zM15 12h1v1h-1zM15 13h1v1h-1zM16 14h1v1h-1zM16 15h1v1h-1zM17 16h1v1h-1zM17 17h1v1h-1zM17 18h1v1h-1zM17 19h1v1h-1zM17 20h1v1h-1zM17 21h1v1h-1zM17 22h1v1h-1zM17 23h1v1h-1zM17 24h1v1h-1zM17 25h1v1h-1zM16 26h1v1h-1zM18 27h2v1h-2zM18 28h2v1h-2zM17 29h2v1h-2zM17 30h2v1h-2zM17 31h1v1h-1zM17 32h1v1h-1zM14 33h1v1h-1zM14 34h1v1h-1zM16 35h1v1h-1zM15 36h1v1h-1zM15 37h1v1h-1zM15 39h1v1h-1zM15 40h1v1h-1zM15 41h1v1h-1zM15 42h1v1h-1zM15 43h1v1h-1zM15 44h1v1h-1zM15 46h1v1h-1zM16 47h1v1h-1zM15 48h1v1h-1zM15 49h1v1h-1zM15 51h1v1h-1zM15 52h1v1h-1zM15 53h1v1h-1zM17 54h1v1h-1zM17 55h1v1h-1zM16 60h1v1h-1zM16 62h1v1h-1zM16 63h1v1h-1zM11 64h18v1h-18zM0 67h9v1h-9zM10 70h3v1h-3zM10 71h2v1h-2zM0 72h8v1h-8zM0 73h5v1h-5zM14 76h1v1h-1zM15 77h2v1h-2zM13 78h2v1h-2zM13 79h2v1h-2zM15 80h3v1h-3zM15 81h2v1h-2zM15 82h2v1h-2zM18 83h2v1h-2zM16 84h4v1h-4zM20 85h3v1h-3zM25 86h3v1h-3zM46 87h9v1h-9zM0 88h4v1h-4zM5 89h3v1h-3zM16 94h1v1h-1zM40 94h2v1h-2zM15 95h1v1h-1zM39 95h1v1h-1zM37 96h1v1h-1zM36 97h2v1h-2zM35 98h3v1h-3zM34 99h2v1h-2zM33 100h3v1h-3zM18 101h1v1h-1zM33 101h2v1h-2zM19 102h1v1h-1zM31 102h2v1h-2zM25 103h2v1h-2zM28 104h1v1h-1zM35 105h2v1h-2zM32 106h1v1h-1zM31 107h4v1h-4zM30 108h3v1h-3zM27 109h2v1h-2zM29 110h1v1h-1zM31 112h9v1h-9zM31 113h9v1h-9zM31 114h9v1h-9zM28 115h12v1h-12zM26 116h1v1h-1zM40 116h3v1h-3zM27 117h1v1h-1zM39 117h4v1h-4zM37 119h1v1h-1zM37 120h1v1h-1zM35 121h2v1h-2zM19 122h1v1h-1zM36 122h1v1h-1zM19 123h1v1h-1zM35 123h2v1h-2zM19 124h1v1h-1zM35 124h2v1h-2zM19 125h1v1h-1zM36 125h2v1h-2zM19 126h1v1h-1zM36 126h2v1h-2zM19 127h1v1h-1zM35 127h2v1h-2zM20 128h1v1h-1zM37 128h1v1h-1zM20 129h2v1h-2zM36 129h1v1h-1zM22 130h4v1h-4zM35 130h2v1h-2zM22 131h15v1h-15zM22 132h15v1h-15zM22 134h1v1h-1zM38 134h1v1h-1zM22 135h1v1h-1zM38 135h1v1h-1zM22 136h1v1h-1zM38 136h1v1h-1zM22 137h1v1h-1zM38 137h1v1h-1zM22 138h1v1h-1zM38 138h1v1h-1zM22 139h1v1h-1zM38 139h1v1h-1zM22 140h1v1h-1zM37 140h2v1h-2zM22 141h1v1h-1zM39 141h1v1h-1zM22 142h1v1h-1zM39 142h1v1h-1zM21 143h1v1h-1zM38 143h1v1h-1zM21 144h1v1h-1zM39 144h2v1h-2zM24 145h1v1h-1zM41 145h1v1h-1zM24 146h1v1h-1zM42 146h1v1h-1zM24 147h1v1h-1zM42 147h1v1h-1zM42 148h1v1h-1zM42 149h1v1h-1zM40 150h1v1h-1zM40 151h1v1h-1zM19 152h1v1h-1zM40 152h1v1h-1zM19 153h1v1h-1zM40 153h1v1h-1zM84 154h1v1h-1zM79 155h2v1h-2zM79 156h2v1h-2zM3 157h1v1h-1zM88 157h1v1h-1zM63 158h3v1h-3zM80 158h3v1h-3z"/>
<path fill="#fdff02" d="M14 0h1v1h-1zM13 1h2v1h-2zM13 2h1v1h-1zM14 3h1v1h-1zM13 4h1v1h-1zM13 5h1v1h-1zM13 6h1v1h-1zM13 7h1v1h-1zM15 8h1v1h-1zM15 9h1v1h-1zM15 10h1v1h-1zM15 11h1v1h-1zM14 12h1v1h-1zM14 13h1v1h-1zM15 14h1v1h-1zM15 15h1v1h-1zM16 16h1v1h-1zM16 17h1v1h-1zM16 18h1v1h-1zM16 19h1v1h-1zM16 20h1v1h-1zM16 21h1v1h-1zM16 22h1v1h-1zM16 23h1v1h-1zM16 24h1v1h-1zM16 25h1v1h-1zM15 26h1v1h-1zM11 27h7v1h-7zM7 28h11v1h-11zM15 29h2v1h-2zM15 30h2v1h-2zM16 31h1v1h-1zM15 32h2v1h-2zM13 33h1v1h-1zM13 34h1v1h-1zM15 35h1v1h-1zM14 36h1v1h-1zM14 37h1v1h-1zM15 38h1v1h-1zM14 39h1v1h-1zM14 40h1v1h-1zM14 41h1v1h-1zM14 42h1v1h-1zM14 43h1v1h-1zM14 44h1v1h-1zM15 45h1v1h-1zM14 46h1v1h-1zM15 47h1v1h-1zM14 48h1v1h-1zM14 49h1v1h-1zM15 50h1v1h-1zM14 51h1v1h-1zM14 52h1v1h-1zM14 53h1v1h-1zM16 54h1v1h-1zM16 55h1v1h-1zM16 56h1v1h-1zM16 57h1v1h-1zM16 58h1v1h-1zM17 59h1v1h-1zM15 60h1v1h-1zM15 61h1v1h-1zM15 62h1v1h-1zM15 63h1v1h-1zM0 70h10v1h-10zM1 71h9v1h-9zM8 76h6v1h-6zM12 77h3v1h-3zM11 78h2v1h-2zM11 79h2v1h-2zM5 80h10v1h-10zM12 81h3v1h-3zM10 82h5v1h-5zM13 83h5v1h-5zM13 84h3v1h-3zM8 85h12v1h-12zM7 86h18v1h-18zM0 89h5v1h-5zM17 94h2v1h-2zM38 94h2v1h-2zM16 95h1v1h-1zM37 95h2v1h-2zM17 96h1v1h-1zM36 96h1v1h-1zM17 97h2v1h-2zM31 97h5v1h-5zM18 98h17v1h-17zM18 99h1v1h-1zM31 99h3v1h-3zM18 100h2v1h-2zM30 100h3v1h-3zM19 101h14v1h-14zM20 102h11v1h-11zM15 103h10v1h-10zM16 104h12v1h-12zM17 105h1v1h-1zM33 105h2v1h-2zM9 106h9v1h-9zM23 106h9v1h-9zM17 107h2v1h-2zM28 107h3v1h-3zM17 108h2v1h-2zM28 108h2v1h-2zM0 109h27v1h-27zM8 110h21v1h-21zM27 116h13v1h-13zM28 117h1v1h-1zM34 117h5v1h-5zM19 119h2v1h-2zM33 119h4v1h-4zM19 120h2v1h-2zM34 120h3v1h-3zM19 121h2v1h-2zM34 121h1v1h-1zM20 122h1v1h-1zM35 122h1v1h-1zM20 123h1v1h-1zM34 123h1v1h-1zM20 124h4v1h-4zM34 124h1v1h-1zM20 125h16v1h-16zM20 126h6v1h-6zM32 126h4v1h-4zM20 127h15v1h-15zM21 128h16v1h-16zM22 129h14v1h-14zM26 130h9v1h-9zM23 134h15v1h-15zM23 135h15v1h-15zM23 136h15v1h-15zM23 137h5v1h-5zM34 137h4v1h-4zM23 138h3v1h-3zM35 138h3v1h-3zM23 139h4v1h-4zM33 139h5v1h-5zM23 140h6v1h-6zM32 140h5v1h-5zM23 141h1v1h-1zM37 141h2v1h-2zM23 142h1v1h-1zM37 142h2v1h-2zM22 143h3v1h-3zM36 143h2v1h-2zM22 144h3v1h-3zM37 144h2v1h-2zM25 145h1v1h-1zM39 145h2v1h-2zM25 146h1v1h-1zM40 146h2v1h-2zM25 147h1v1h-1zM40 147h2v1h-2zM22 148h1v1h-1zM40 148h2v1h-2zM22 149h1v1h-1zM40 149h2v1h-2zM20 150h1v1h-1zM38 150h2v1h-2zM20 151h1v1h-1zM39 151h1v1h-1zM20 152h1v1h-1zM38 152h2v1h-2zM20 153h1v1h-1zM38 153h2v1h-2zM85 154h1v1h-1zM81 155h2v1h-2zM81 156h4v1h-4zM2 157h1v1h-1zM89 157h2v1h-2zM66 158h14v1h-14z"/>
<path fill="#fff600" d="M13 0h1v1h-1zM12 1h1v1h-1zM13 3h1v1h-1zM14 9h1v1h-1zM14 11h1v1h-1zM14 15h1v1h-1zM15 16h1v1h-1zM15 17h1v1h-1zM15 18h1v1h-1zM15 19h1v1h-1zM15 20h1v1h-1zM15 21h1v1h-1zM15 24h1v1h-1zM9 27h2v1h-2zM14 29h1v1h-1zM14 30h1v1h-1zM15 31h1v1h-1zM14 32h1v1h-1zM15 56h1v1h-1zM15 57h1v1h-1zM15 58h1v1h-1zM16 59h1v1h-1zM9 82h1v1h-1zM19 94h1v1h-1zM17 95h3v1h-3zM36 95h1v1h-1zM18 96h1v1h-1zM35 96h1v1h-1zM19 97h4v1h-4zM19 99h3v1h-3zM20 100h3v1h-3zM18 105h1v1h-1zM19 107h2v1h-2zM19 108h1v1h-1zM29 117h3v1h-3zM21 119h3v1h-3zM21 120h1v1h-1zM21 121h1v1h-1zM21 122h1v1h-1zM21 123h1v1h-1zM26 147h1v1h-1zM21 150h2v1h-2zM21 151h1v1h-1zM21 152h1v1h-1zM21 153h1v1h-1zM91 157h1v1h-1z"/>
<path fill="#ffe900" d="M12 0h1v1h-1zM11 1h1v1h-1zM12 2h1v1h-1zM12 3h1v1h-1zM12 4h1v1h-1zM12 5h1v1h-1zM12 6h1v1h-1zM12 7h1v1h-1zM14 8h1v1h-1zM13 9h1v1h-1zM14 10h1v1h-1zM13 12h1v1h-1zM13 13h1v1h-1zM14 14h1v1h-1zM14 16h1v1h-1zM14 17h1v1h-1zM14 18h1v1h-1zM14 19h1v1h-1zM14 20h1v1h-1zM14 21h1v1h-1zM15 22h1v1h-1zM15 23h1v1h-1zM14 24h1v1h-1zM15 25h1v1h-1zM0 27h9v1h-9zM5 28h2v1h-2zM13 29h1v1h-1zM12 30h2v1h-2zM14 31h1v1h-1zM13 32h1v1h-1zM13 36h1v1h-1zM13 37h1v1h-1zM13 39h1v1h-1zM13 40h1v1h-1zM13 41h1v1h-1zM13 42h1v1h-1zM14 45h1v1h-1zM14 47h1v1h-1zM13 49h1v1h-1zM14 50h1v1h-1zM13 51h1v1h-1zM13 52h1v1h-1zM15 59h1v1h-1zM14 60h1v1h-1zM14 61h1v1h-1zM14 62h1v1h-1zM14 63h1v1h-1zM0 71h1v1h-1zM7 76h1v1h-1zM10 78h1v1h-1zM10 79h1v1h-1zM4 80h1v1h-1zM11 81h1v1h-1zM6 82h3v1h-3zM12 83h1v1h-1zM12 84h1v1h-1zM2 85h6v1h-6zM0 86h7v1h-7zM20 94h1v1h-1zM37 94h1v1h-1zM20 95h1v1h-1zM35 95h1v1h-1zM19 96h2v1h-2zM33 96h2v1h-2zM23 100h7v1h-7zM19 105h1v1h-1zM31 105h2v1h-2zM18 106h5v1h-5zM21 107h7v1h-7zM20 108h8v1h-8zM32 117h2v1h-2zM24 119h9v1h-9zM22 120h12v1h-12zM22 121h6v1h-6zM29 121h5v1h-5zM22 122h4v1h-4zM32 122h3v1h-3zM22 123h12v1h-12zM24 124h10v1h-10zM26 126h6v1h-6zM28 137h6v1h-6zM26 138h9v1h-9zM27 139h6v1h-6zM29 140h3v1h-3zM24 141h4v1h-4zM33 141h4v1h-4zM24 142h4v1h-4zM34 142h3v1h-3zM25 143h11v1h-11zM25 144h12v1h-12zM26 145h3v1h-3zM36 145h3v1h-3zM26 146h3v1h-3zM37 146h3v1h-3zM27 147h3v1h-3zM37 147h3v1h-3zM23 148h1v1h-1zM39 148h1v1h-1zM23 149h1v1h-1zM38 149h2v1h-2zM23 150h3v1h-3zM36 150h2v1h-2zM22 151h1v1h-1zM37 151h2v1h-2zM22 152h1v1h-1zM36 152h2v1h-2zM22 153h3v1h-3zM36 153h2v1h-2zM83 155h1v1h-1zM1 157h1v1h-1zM92 157h1v1h-1z"/>
<path fill="#ffdc00" d="M11 0h1v1h-1zM10 1h1v1h-1zM11 2h1v1h-1zM11 3h1v1h-1zM12 9h1v1h-1zM13 11h1v1h-1zM12 12h1v1h-1zM13 14h1v1h-1zM13 15h1v1h-1zM13 16h1v1h-1zM13 17h1v1h-1zM13 18h1v1h-1zM13 19h1v1h-1zM13 20h1v1h-1zM13 21h1v1h-1zM14 22h1v1h-1zM14 25h1v1h-1zM14 26h1v1h-1zM0 28h5v1h-5zM12 29h1v1h-1zM8 30h4v1h-4zM12 31h2v1h-2zM10 32h3v1h-3zM12 33h1v1h-1zM12 34h1v1h-1zM14 38h1v1h-1zM12 39h1v1h-1zM12 42h1v1h-1zM13 43h1v1h-1zM13 44h1v1h-1zM13 46h1v1h-1zM13 47h1v1h-1zM13 48h1v1h-1zM13 53h1v1h-1zM15 54h1v1h-1zM15 55h1v1h-1zM14 56h1v1h-1zM14 57h1v1h-1zM14 58h1v1h-1zM14 59h1v1h-1zM13 62h1v1h-1zM6 76h1v1h-1zM11 77h1v1h-1zM8 78h2v1h-2zM7 79h3v1h-3zM0 80h4v1h-4zM9 81h2v1h-2zM3 82h3v1h-3zM10 83h2v1h-2zM10 84h2v1h-2zM0 85h2v1h-2zM21 94h3v1h-3zM35 94h2v1h-2zM21 95h1v1h-1zM34 95h1v1h-1zM21 96h1v1h-1zM23 97h8v1h-8zM22 99h9v1h-9zM20 105h4v1h-4zM27 105h4v1h-4zM28 121h1v1h-1zM24 148h1v1h-1zM24 149h1v1h-1zM23 151h1v1h-1zM23 152h1v1h-1zM84 155h1v1h-1zM85 156h1v1h-1zM93 157h1v1h-1z"/>
<path fill="#ffcf00" d="M10 0h1v1h-1zM9 1h1v1h-1zM10 2h1v1h-1zM11 4h1v1h-1zM11 5h1v1h-1zM11 6h1v1h-1zM11 7h1v1h-1zM13 8h1v1h-1zM11 9h1v1h-1zM13 10h1v1h-1zM12 11h1v1h-1zM12 13h1v1h-1zM12 14h1v1h-1zM12 15h1v1h-1zM12 16h1v1h-1zM12 17h1v1h-1zM12 18h1v1h-1zM12 19h1v1h-1zM12 20h1v1h-1zM12 21h1v1h-1zM14 23h1v1h-1zM13 24h1v1h-1zM13 25h1v1h-1zM13 26h1v1h-1zM9 29h3v1h-3zM6 30h2v1h-2zM11 31h1v1h-1zM8 32h2v1h-2zM14 35h1v1h-1zM12 37h1v1h-1zM11 42h1v1h-1zM13 45h1v1h-1zM13 50h1v1h-1zM14 54h1v1h-1zM14 55h1v1h-1zM13 59h1v1h-1zM13 60h1v1h-1zM13 61h1v1h-1zM13 63h1v1h-1zM4 76h2v1h-2zM9 77h2v1h-2zM7 78h1v1h-1zM6 79h1v1h-1zM7 81h2v1h-2zM0 82h3v1h-3zM7 83h3v1h-3zM7 84h3v1h-3zM24 94h11v1h-11zM22 95h12v1h-12zM22 96h11v1h-11zM26 122h6v1h-6zM28 141h5v1h-5zM28 142h6v1h-6zM29 145h7v1h-7zM29 146h8v1h-8zM30 147h7v1h-7zM25 148h1v1h-1zM37 148h2v1h-2zM25 149h3v1h-3zM36 149h2v1h-2zM26 150h10v1h-10zM24 151h2v1h-2zM35 151h2v1h-2zM24 152h3v1h-3zM33 152h3v1h-3zM25 153h11v1h-11zM86 156h1v1h-1zM94 157h2v1h-2z"/>
<path fill="#ffc200" d="M9 0h1v1h-1zM7 1h2v1h-2zM10 3h1v1h-1zM10 5h1v1h-1zM10 6h1v1h-1zM10 7h1v1h-1zM10 9h1v1h-1zM11 11h1v1h-1zM11 12h1v1h-1zM11 13h1v1h-1zM11 14h1v1h-1zM11 15h1v1h-1zM10 16h2v1h-2zM10 17h2v1h-2zM10 18h2v1h-2zM10 19h2v1h-2zM10 20h2v1h-2zM10 21h2v1h-2zM13 22h1v1h-1zM12 23h2v1h-2zM12 24h1v1h-1zM12 25h1v1h-1zM12 26h1v1h-1zM6 29h3v1h-3zM3 30h3v1h-3zM10 31h1v1h-1zM6 32h2v1h-2zM11 33h1v1h-1zM11 34h1v1h-1zM12 36h1v1h-1zM11 37h1v1h-1zM13 38h1v1h-1zM11 39h1v1h-1zM12 44h1v1h-1zM12 46h1v1h-1zM12 47h1v1h-1zM12 48h1v1h-1zM12 49h1v1h-1zM12 51h1v1h-1zM12 52h1v1h-1zM12 53h1v1h-1zM13 54h1v1h-1zM13 55h1v1h-1zM13 56h1v1h-1zM13 57h1v1h-1zM13 58h1v1h-1zM12 59h1v1h-1zM12 61h1v1h-1zM12 62h1v1h-1zM12 63h1v1h-1zM0 76h4v1h-4zM7 77h2v1h-2zM5 78h2v1h-2zM5 79h1v1h-1zM5 81h2v1h-2zM4 83h3v1h-3zM4 84h3v1h-3zM24 105h3v1h-3zM26 148h1v1h-1zM86 154h1v1h-1zM85 155h1v1h-1zM87 156h1v1h-1zM0 157h1v1h-1zM96 157h2v1h-2z"/>
<path fill="#ffb600" d="M8 0h1v1h-1zM6 1h1v1h-1zM9 2h1v1h-1zM10 4h1v1h-1zM12 8h1v1h-1zM12 10h1v1h-1zM10 12h1v1h-1zM10 14h1v1h-1zM10 15h1v1h-1zM8 16h2v1h-2zM8 17h2v1h-2zM8 18h2v1h-2zM8 19h2v1h-2zM7 20h3v1h-3zM8 21h2v1h-2zM12 22h1v1h-1zM11 23h1v1h-1zM11 24h1v1h-1zM10 25h2v1h-2zM5 29h1v1h-1zM0 30h3v1h-3zM9 31h1v1h-1zM5 32h1v1h-1zM13 35h1v1h-1zM11 36h1v1h-1zM10 37h1v1h-1zM12 38h1v1h-1zM10 39h1v1h-1zM12 40h1v1h-1zM12 41h1v1h-1zM12 43h1v1h-1zM12 45h1v1h-1zM11 46h1v1h-1zM11 47h1v1h-1zM12 50h1v1h-1zM12 54h1v1h-1zM12 55h1v1h-1zM12 56h1v1h-1zM12 57h1v1h-1zM12 58h1v1h-1zM12 60h1v1h-1zM11 62h1v1h-1zM6 77h1v1h-1zM2 78h3v1h-3zM4 79h1v1h-1zM1 81h4v1h-4zM3 83h1v1h-1zM27 148h4v1h-4zM33 148h4v1h-4zM28 149h8v1h-8zM26 151h9v1h-9zM27 152h6v1h-6zM86 155h1v1h-1zM88 156h1v1h-1zM98 157h1v1h-1z"/>
<path fill="#ffa900" d="M7 0h1v1h-1zM5 1h1v1h-1zM9 3h1v1h-1zM9 4h1v1h-1zM9 5h1v1h-1zM9 6h1v1h-1zM9 7h1v1h-1zM11 8h1v1h-1zM9 9h1v1h-1zM10 11h1v1h-1zM10 13h1v1h-1zM7 16h1v1h-1zM7 17h1v1h-1zM7 18h1v1h-1zM7 19h1v1h-1zM6 20h1v1h-1zM7 21h1v1h-1zM11 22h1v1h-1zM10 23h1v1h-1zM10 24h1v1h-1zM11 26h1v1h-1zM3 29h2v1h-2zM8 31h1v1h-1zM3 32h2v1h-2zM10 34h1v1h-1zM12 35h1v1h-1zM10 36h1v1h-1zM11 38h1v1h-1zM11 40h1v1h-1zM11 41h1v1h-1zM11 44h1v1h-1zM11 45h1v1h-1zM10 47h1v1h-1zM11 48h1v1h-1zM11 49h1v1h-1zM11 50h1v1h-1zM11 51h1v1h-1zM11 52h1v1h-1zM11 53h1v1h-1zM11 54h1v1h-1zM11 55h1v1h-1zM11 56h1v1h-1zM11 57h1v1h-1zM11 58h1v1h-1zM11 59h1v1h-1zM11 60h1v1h-1zM11 63h1v1h-1zM5 77h1v1h-1zM1 78h1v1h-1zM2 79h2v1h-2zM0 83h3v1h-3zM0 84h4v1h-4zM87 154h1v1h-1zM87 155h1v1h-1zM89 156h1v1h-1zM99 157h1v1h-1z"/>
<path fill="#ff9c00" d="M6 0h1v1h-1zM4 1h1v1h-1zM8 2h1v1h-1zM8 4h1v1h-1zM8 5h1v1h-1zM8 6h1v1h-1zM8 7h1v1h-1zM8 9h1v1h-1zM11 10h1v1h-1zM9 11h1v1h-1zM9 12h1v1h-1zM9 13h1v1h-1zM9 14h1v1h-1zM9 15h1v1h-1zM6 16h1v1h-1zM6 17h1v1h-1zM6 18h1v1h-1zM6 19h1v1h-1zM5 20h1v1h-1zM5 21h2v1h-2zM10 22h1v1h-1zM9 23h1v1h-1zM9 24h1v1h-1zM9 25h1v1h-1zM10 26h1v1h-1zM0 29h3v1h-3zM6 31h2v1h-2zM2 32h1v1h-1zM10 33h1v1h-1zM11 35h1v1h-1zM9 37h1v1h-1zM10 38h1v1h-1zM10 40h1v1h-1zM10 41h1v1h-1zM10 42h1v1h-1zM11 43h1v1h-1zM10 46h1v1h-1zM9 47h1v1h-1zM10 62h1v1h-1zM10 63h1v1h-1zM3 77h2v1h-2zM0 78h1v1h-1zM1 79h1v1h-1zM0 81h1v1h-1zM31 148h2v1h-2zM88 154h1v1h-1zM88 155h1v1h-1zM90 156h1v1h-1z"/>
<path fill="#ff8f00" d="M5 0h1v1h-1zM3 1h1v1h-1zM7 2h1v1h-1zM8 3h1v1h-1zM7 4h1v1h-1zM10 8h1v1h-1zM8 12h1v1h-1zM8 14h1v1h-1zM8 15h1v1h-1zM5 16h1v1h-1zM5 17h1v1h-1zM5 18h1v1h-1zM5 19h1v1h-1zM2 20h3v1h-3zM3 21h2v1h-2zM9 22h1v1h-1zM8 23h1v1h-1zM8 24h1v1h-1zM8 25h1v1h-1zM5 31h1v1h-1zM0 32h2v1h-2zM9 33h1v1h-1zM9 34h1v1h-1zM10 35h1v1h-1zM10 43h1v1h-1zM10 44h1v1h-1zM9 46h1v1h-1zM10 48h1v1h-1zM10 49h1v1h-1zM10 50h1v1h-1zM10 51h1v1h-1zM10 52h1v1h-1zM10 53h1v1h-1zM10 54h1v1h-1zM10 55h1v1h-1zM10 56h1v1h-1zM10 57h1v1h-1zM10 58h1v1h-1zM10 59h1v1h-1zM10 60h1v1h-1zM11 61h1v1h-1zM2 77h1v1h-1zM0 79h1v1h-1zM89 154h1v1h-1zM89 155h1v1h-1zM91 156h1v1h-1z"/>
<path fill="#ff8200" d="M4 0h1v1h-1zM2 1h1v1h-1zM6 2h1v1h-1zM7 3h1v1h-1zM6 4h1v1h-1zM7 5h1v1h-1zM7 6h1v1h-1zM7 7h1v1h-1zM9 8h1v1h-1zM10 10h1v1h-1zM8 11h1v1h-1zM7 12h1v1h-1zM8 13h1v1h-1zM7 14h1v1h-1zM7 15h1v1h-1zM4 16h1v1h-1zM4 17h1v1h-1zM4 18h1v1h-1zM4 19h1v1h-1zM1 20h1v1h-1zM2 21h1v1h-1zM8 22h1v1h-1zM7 23h1v1h-1zM7 25h1v1h-1zM9 26h1v1h-1zM3 31h2v1h-2zM8 33h1v1h-1zM8 34h1v1h-1zM9 36h1v1h-1zM9 38h1v1h-1zM9 39h1v1h-1zM9 40h1v1h-1zM9 41h1v1h-1zM9 42h1v1h-1zM9 44h1v1h-1zM9 48h1v1h-1zM9 49h1v1h-1zM9 50h1v1h-1zM9 51h1v1h-1zM9 52h1v1h-1zM9 53h1v1h-1zM9 54h1v1h-1zM9 55h1v1h-1zM9 56h1v1h-1zM9 57h1v1h-1zM9 58h1v1h-1zM9 59h1v1h-1zM9 60h1v1h-1zM9 62h1v1h-1zM9 63h1v1h-1zM1 77h1v1h-1zM90 154h1v1h-1zM90 155h1v1h-1zM92 156h1v1h-1z"/>
<path fill="#ff7500" d="M1 1h1v1h-1zM5 2h1v1h-1zM6 3h1v1h-1zM5 4h1v1h-1zM7 9h1v1h-1zM9 10h1v1h-1zM7 11h1v1h-1zM6 12h1v1h-1zM7 13h1v1h-1zM2 16h2v1h-2zM2 17h2v1h-2zM2 18h2v1h-2zM1 19h3v1h-3zM0 20h1v1h-1zM0 21h2v1h-2zM6 23h1v1h-1zM7 24h1v1h-1zM6 25h1v1h-1zM8 26h1v1h-1zM2 31h1v1h-1zM9 43h1v1h-1zM10 45h1v1h-1zM8 63h1v1h-1zM0 77h1v1h-1zM91 155h1v1h-1zM93 156h1v1h-1z"/>
<path fill="#ff6800" d="M3 0h1v1h-1zM0 1h1v1h-1zM4 2h1v1h-1zM4 3h2v1h-2zM4 4h1v1h-1zM6 5h1v1h-1zM6 6h1v1h-1zM6 7h1v1h-1zM8 8h1v1h-1zM8 10h1v1h-1zM5 12h1v1h-1zM6 14h1v1h-1zM6 15h1v1h-1zM1 16h1v1h-1zM1 17h1v1h-1zM1 18h1v1h-1zM7 22h1v1h-1zM4 25h2v1h-2zM7 26h1v1h-1zM0 31h2v1h-2zM7 34h1v1h-1zM9 35h1v1h-1zM8 38h1v1h-1zM8 39h1v1h-1zM8 40h1v1h-1zM8 41h1v1h-1zM8 42h1v1h-1zM8 43h1v1h-1zM8 44h1v1h-1zM8 50h1v1h-1zM8 54h1v1h-1zM8 55h1v1h-1zM8 56h1v1h-1zM8 57h1v1h-1zM8 58h1v1h-1zM8 59h1v1h-1zM8 60h1v1h-1zM10 61h1v1h-1zM8 62h1v1h-1zM91 154h1v1h-1zM92 155h1v1h-1zM94 156h1v1h-1z"/>
<path fill="#ff5b00" d="M2 0h1v1h-1zM3 2h1v1h-1zM3 3h1v1h-1zM3 4h1v1h-1zM7 8h1v1h-1zM6 9h1v1h-1zM7 10h1v1h-1zM6 11h1v1h-1zM4 12h1v1h-1zM5 14h1v1h-1zM5 15h1v1h-1zM0 16h1v1h-1zM0 17h1v1h-1zM0 18h1v1h-1zM0 19h1v1h-1zM6 22h1v1h-1zM5 23h1v1h-1zM6 24h1v1h-1zM3 25h1v1h-1zM6 26h1v1h-1zM8 37h1v1h-1zM7 44h1v1h-1zM9 45h1v1h-1zM8 46h1v1h-1zM8 47h1v1h-1zM7 50h1v1h-1zM8 51h1v1h-1zM8 52h1v1h-1zM8 53h1v1h-1zM7 62h1v1h-1zM92 154h1v1h-1zM95 156h2v1h-2z"/>
<path fill="#ff4f00" d="M1 0h1v1h-1zM2 2h1v1h-1zM2 3h1v1h-1zM2 4h1v1h-1zM5 5h1v1h-1zM5 6h1v1h-1zM5 7h1v1h-1zM6 8h1v1h-1zM5 11h1v1h-1zM4 14h1v1h-1zM4 15h1v1h-1zM4 23h1v1h-1zM4 24h2v1h-2zM2 25h1v1h-1zM7 33h1v1h-1zM6 34h1v1h-1zM8 36h1v1h-1zM7 38h1v1h-1zM7 39h1v1h-1zM7 40h1v1h-1zM7 41h1v1h-1zM7 42h1v1h-1zM8 48h1v1h-1zM8 49h1v1h-1zM7 54h1v1h-1zM7 55h1v1h-1zM7 56h1v1h-1zM7 57h1v1h-1zM7 58h1v1h-1zM7 59h1v1h-1zM7 60h1v1h-1zM9 61h1v1h-1zM93 155h1v1h-1zM97 156h2v1h-2z"/>
<path fill="#ff4200" d="M0 0h1v1h-1zM1 2h1v1h-1zM1 3h1v1h-1zM1 4h1v1h-1zM4 5h1v1h-1zM4 6h1v1h-1zM4 7h1v1h-1zM5 8h1v1h-1zM5 9h1v1h-1zM6 10h1v1h-1zM4 11h1v1h-1zM3 12h1v1h-1zM6 13h1v1h-1zM3 15h1v1h-1zM5 22h1v1h-1zM2 23h2v1h-2zM2 24h2v1h-2zM5 26h1v1h-1zM6 33h1v1h-1zM8 35h1v1h-1zM7 37h1v1h-1zM6 40h1v1h-1zM6 41h1v1h-1zM6 42h1v1h-1zM8 45h1v1h-1zM7 46h1v1h-1zM7 47h1v1h-1zM7 52h1v1h-1zM7 53h1v1h-1zM5 54h2v1h-2zM6 59h1v1h-1zM8 61h1v1h-1zM7 63h1v1h-1zM93 154h1v1h-1zM94 155h1v1h-1zM99 156h1v1h-1z"/>
<path fill="#ff3500" d="M0 2h1v1h-1zM0 3h1v1h-1zM0 4h1v1h-1zM5 10h1v1h-1zM3 11h1v1h-1zM2 12h1v1h-1zM3 14h1v1h-1zM2 15h1v1h-1zM4 22h1v1h-1zM1 23h1v1h-1zM1 25h1v1h-1zM4 26h1v1h-1zM5 33h1v1h-1zM6 35h2v1h-2zM7 36h1v1h-1zM6 37h1v1h-1zM6 38h1v1h-1zM7 43h1v1h-1zM6 47h1v1h-1zM7 48h1v1h-1zM7 49h1v1h-1zM6 53h1v1h-1zM4 54h1v1h-1zM6 55h1v1h-1zM6 56h1v1h-1zM6 57h1v1h-1zM6 58h1v1h-1zM6 60h1v1h-1zM94 154h1v1h-1zM95 155h1v1h-1z"/>
<path fill="#ff2800" d="M3 5h1v1h-1zM3 6h1v1h-1zM3 7h1v1h-1zM4 8h1v1h-1zM4 9h1v1h-1zM2 11h1v1h-1zM5 13h1v1h-1zM1 15h1v1h-1zM2 22h2v1h-2zM0 23h1v1h-1zM1 24h1v1h-1zM0 25h1v1h-1zM5 34h1v1h-1zM6 36h1v1h-1zM5 38h1v1h-1zM5 40h1v1h-1zM5 41h1v1h-1zM5 42h1v1h-1zM6 44h1v1h-1zM7 45h1v1h-1zM6 46h1v1h-1zM6 48h1v1h-1zM6 49h1v1h-1zM7 51h1v1h-1zM6 52h1v1h-1zM5 53h1v1h-1zM5 57h1v1h-1zM5 59h1v1h-1zM7 61h1v1h-1zM96 155h1v1h-1z"/>
<path fill="#ff1b00" d="M2 5h1v1h-1zM2 6h1v1h-1zM2 7h1v1h-1zM3 8h1v1h-1zM4 10h1v1h-1zM1 12h1v1h-1zM4 13h1v1h-1zM2 14h1v1h-1zM1 22h1v1h-1zM0 24h1v1h-1zM3 26h1v1h-1zM5 37h1v1h-1zM3 38h2v1h-2zM6 39h1v1h-1zM4 40h1v1h-1zM4 41h1v1h-1zM4 42h1v1h-1zM6 43h1v1h-1zM6 45h1v1h-1zM5 47h1v1h-1zM6 50h1v1h-1zM4 53h1v1h-1zM3 54h1v1h-1zM5 55h1v1h-1zM5 56h1v1h-1zM3 57h2v1h-2zM5 58h1v1h-1zM4 59h1v1h-1zM5 60h1v1h-1zM6 61h1v1h-1zM6 62h1v1h-1zM6 63h1v1h-1zM95 154h1v1h-1zM97 155h2v1h-2z"/>
<path fill="#ff0e00" d="M1 5h1v1h-1zM1 6h1v1h-1zM1 7h1v1h-1zM2 8h1v1h-1zM3 9h1v1h-1zM3 10h1v1h-1zM1 11h1v1h-1zM3 13h1v1h-1zM1 14h1v1h-1zM0 22h1v1h-1zM2 26h1v1h-1zM4 34h1v1h-1zM5 35h1v1h-1zM4 37h1v1h-1zM5 43h1v1h-1zM5 44h1v1h-1zM5 45h1v1h-1zM5 46h1v1h-1zM5 50h1v1h-1zM6 51h1v1h-1zM2 54h1v1h-1zM4 55h1v1h-1zM4 56h1v1h-1zM4 58h1v1h-1zM3 59h1v1h-1zM4 60h1v1h-1zM5 61h1v1h-1zM5 62h1v1h-1zM5 63h1v1h-1zM96 154h1v1h-1zM99 155h1v1h-1z"/>
<path fill="#ff0100" d="M0 5h1v1h-1zM0 6h1v1h-1zM0 7h1v1h-1zM1 8h1v1h-1zM2 9h1v1h-1zM2 10h1v1h-1zM0 11h1v1h-1zM0 12h1v1h-1zM0 13h3v1h-3zM0 14h1v1h-1zM0 15h1v1h-1zM0 26h2v1h-2zM4 33h1v1h-1zM4 35h1v1h-1zM4 36h2v1h-2zM2 38h1v1h-1zM5 39h1v1h-1zM2 40h2v1h-2zM2 41h2v1h-2zM2 42h2v1h-2zM4 43h1v1h-1zM4 44h1v1h-1zM4 45h1v1h-1zM4 46h1v1h-1zM4 47h1v1h-1zM5 48h1v1h-1zM5 49h1v1h-1zM4 50h1v1h-1zM5 51h1v1h-1zM5 52h1v1h-1zM1 54h1v1h-1zM3 55h1v1h-1zM3 56h1v1h-1zM2 57h1v1h-1zM3 58h1v1h-1zM2 59h1v1h-1zM3 60h1v1h-1zM4 61h1v1h-1zM4 62h1v1h-1zM4 63h1v1h-1zM97 154h1v1h-1z"/>
<path fill="#f30000" d="M0 8h1v1h-1zM0 9h2v1h-2zM0 10h2v1h-2zM2 33h2v1h-2zM1 34h3v1h-3zM1 35h3v1h-3zM1 36h3v1h-3zM1 37h3v1h-3zM0 38h2v1h-2zM4 39h1v1h-1zM0 40h2v1h-2zM0 41h2v1h-2zM0 42h2v1h-2zM3 43h1v1h-1zM1 44h3v1h-3zM2 45h2v1h-2zM2 47h2v1h-2zM3 48h2v1h-2zM4 49h1v1h-1zM2 50h2v1h-2zM4 51h1v1h-1zM3 52h2v1h-2zM2 53h2v1h-2zM0 54h1v1h-1zM1 55h2v1h-2zM1 56h2v1h-2zM1 57h1v1h-1zM1 58h2v1h-2zM1 59h1v1h-1zM1 60h2v1h-2zM2 61h2v1h-2zM3 62h1v1h-1zM3 63h1v1h-1zM98 154h1v1h-1z"/>
<path fill="#e70000" d="M0 33h2v1h-2zM0 34h1v1h-1zM0 35h1v1h-1zM0 36h1v1h-1zM0 37h1v1h-1zM2 39h2v1h-2zM0 43h3v1h-3zM0 44h1v1h-1zM0 45h2v1h-2zM2 46h2v1h-2zM0 47h2v1h-2zM0 48h3v1h-3zM2 49h2v1h-2zM0 50h2v1h-2zM2 51h2v1h-2zM0 52h3v1h-3zM0 53h2v1h-2zM0 55h1v1h-1zM0 56h1v1h-1zM0 57h1v1h-1zM0 58h1v1h-1zM0 59h1v1h-1zM0 60h1v1h-1zM0 61h2v1h-2zM1 62h2v1h-2zM1 63h2v1h-2zM99 154h1v1h-1z"/>
<path fill="#da0000" d="M0 39h2v1h-2zM0 46h2v1h-2zM1 49h1v1h-1zM1 51h1v1h-1zM0 62h1v1h-1zM0 63h1v1h-1z"/>
<path fill="#cd0000" d="M0 49h1v1h-1zM0 51h1v1h-1z"/>
</g>
<rect x="82.2" y="0" width="20.3" height="2705" fill="#ff9389"/>
<path fill="#000" d="M1.1 1083.1H3.3V2677.6H1.1zM1.1 1083.1H61.5V1085.5H1.1zM1.1 2675.2H60V2677.6H1.1zM59.15 463.3H61.65V1704.6H59.15zM59.2 463.3H73V465.7H59.2zM59.2 1702.2H72V1704.6H59.2zM77.6 18H79.4V95H77.6zM74.9 95H79.5V270H74.9zM72.6 270H79.5V465H72.6zM72.8 465H75.2V565H72.8zM73 565H75.2V580H73zM73 580H79.5V650H73zM75 650H79.4V843H75zM76 843H79.5V975H76zM77.8 975H79.5V1094H77.8zM78 1107H79.5V1176H78zM76.9 1176H79.5V1275H76.9zM73 1275H79.3V1397H73zM71 1397H79.3V1500H71zM71.3 1500H74.4V1703H71.3zM76 1500H79.4V1610H76zM76.2 1625H79.5V1703H76.2zM71 1703H79.3V1800H71zM71 1800H75.2V2007H71zM76.5 1800H79.4V1890H76.5zM76.5 1905H79.5V2100H76.5zM72.6 2007H75.2V2100H72.6zM72.6 2100H79.5V2315H72.6zM74.9 2315H79.5V2470H74.9zM74.9 2470H77.5V2484H74.9zM75.2 2484H79.5V2550H75.2zM77.2 2550H79.6V2624H77.2zM75.4 465L77.2 465L79.5 565L77.8 565zM58.4 2651.4H61.2V2710H58.4zM58.4 2651.6H73V2654H58.4zM72 2639.2H74.6V2667.2H72zM72 2639.2H79.7V2642H72zM72 2664.9H77.5V2667.1H72zM76.5 2656.5H79.1V2675.7H76.5zM59.8 2690.1H79.7V2692.9H59.8zM59.8 2707.6H79.7V2710.4H59.8z"/>
<g font-size="19.55" stroke="#000" stroke-width="0.45" transform="scale(1,1.035)">
<text x="1142" y="14.88">Inherit from proNOG: DNA RNA NON−specific endonuclease</text>
<text x="1142" y="31.32">cathepsin−2</text>
<text x="1142" y="47.76">GRN−2</text>
<text x="1142" y="64.20">Xe−004547</text>
<text x="1142" y="80.65">NPC1−2</text>
<text x="1142" y="97.09">FTH1−3</text>
<text x="1142" y="113.53">Xe−013837</text>
<text x="1142" y="129.97">IFI30−3</text>
<text x="1142" y="146.41">Xe−009904</text>
<text x="1142" y="162.85">GRPR−3</text>
<text x="1142" y="179.29">SVEP1−9</text>
<text x="1142" y="195.74">Xe−009153</text>
<text x="1142" y="212.18">TSPAN4−1</text>
<text x="1142" y="228.62">CUB and sushi multiple domains−1</text>
<text x="1142" y="245.06">Xe−003792</text>
<text x="1142" y="261.50">Xe−023049</text>
<text x="1142" y="277.94">GAS6</text>
<text x="1142" y="294.39">LIPA−1</text>
<text x="1142" y="310.83">PLBD2−1</text>
<text x="1142" y="327.27">Xe−015896</text>
<text x="1142" y="343.71">Xe−009340</text>
<text x="1142" y="360.15">STEAP2−2</text>
<text x="1142" y="376.59">BCHE−1</text>
<text x="1142" y="393.03">LIPA−2</text>
<text x="1142" y="409.48">BICC1−1</text>
<text x="1142" y="425.92">Xe−004577</text>
<text x="1142" y="442.36">PAPPA</text>
<text x="1142" y="458.80">GUSB−1</text>
<text x="1142" y="475.24">NAT8L</text>
<text x="1142" y="491.68">Xe−003022</text>
<text x="1142" y="508.13">protein tyrosine phosphatase receptor type−4</text>
<text x="1142" y="524.57">von Willebrand factor type A domain−7</text>
<text x="1142" y="541.01">Xe−015047</text>
<text x="1142" y="557.45">Receptor−43</text>
<text x="1142" y="573.89">C10ORF112−6</text>
<text x="1142" y="590.33">FZD8−2</text>
<text x="1142" y="606.77">PZP</text>
<text x="1142" y="623.22">Xe−002627</text>
<text x="1142" y="639.66">COL3A1</text>
<text x="1142" y="656.10">Xe−012407</text>
<text x="1142" y="672.54">HEBP2−1</text>
<text x="1142" y="688.98">Xe−027510</text>
<text x="1142" y="705.42">OLFML2A−1</text>
<text x="1142" y="721.87">Collagen triple helix repeat (20 copies)−1</text>
<text x="1142" y="738.31">Ficolin (Collagen fibrinogen domain containing)−9</text>
<text x="1142" y="754.75">AGRN−1</text>
<text x="1142" y="771.19">Xe−014039</text>
<text x="1142" y="787.63">astacin−like metalloendopeptidase (M12 family)−3</text>
<text x="1142" y="804.07">C4</text>
<text x="1142" y="820.51">Xe−029068</text>
<text x="1142" y="836.96">Sushi domain (SCR repeat)−1</text>
<text x="1142" y="853.40">mannose receptor, C type 1−4</text>
<text x="1142" y="869.84">GPR98</text>
<text x="1142" y="886.28">Xe−003623</text>
<text x="1142" y="902.72">CTSZ−4</text>
<text x="1142" y="919.16">astacin−like metalloendopeptidase (M12 family)−2</text>
<text x="1142" y="935.61">Xe−000994</text>
<text x="1142" y="952.05">CMC1</text>
<text x="1142" y="968.49">MAC/Perforin domain−2</text>
<text x="1142" y="984.93">Thyroglobulin type−1 repeat−2</text>
<text x="1142" y="1001.37">MFRP−1</text>
<text x="1142" y="1017.81">Xe−027840</text>
<text x="1142" y="1034.26">Xe−020456</text>
<text x="1142" y="1050.70">Xe−027591</text>
<text x="1142" y="1067.14">Tropomyosin−2</text>
<text x="1142" y="1083.58">Xe−008396</text>
<text x="1142" y="1100.02">ACPL2−2</text>
<text x="1142" y="1116.46">HEXB</text>
<text x="1142" y="1132.90">APOB</text>
<text x="1142" y="1149.35">PHOX2B</text>
<text x="1142" y="1165.79">AOAH</text>
<text x="1142" y="1182.23">Xe−012447</text>
<text x="1142" y="1198.67">RAPGEF1</text>
<text x="1142" y="1215.11">MACF1−2</text>
<text x="1142" y="1231.55">LAP−2</text>
<text x="1142" y="1248.00">NPC2−1</text>
<text x="1142" y="1264.44">Xe−002907</text>
<text x="1142" y="1280.88">CST3</text>
<text x="1142" y="1297.32">Xe−004579</text>
<text x="1142" y="1313.76">BTB POZ domain containing−3</text>
<text x="1142" y="1330.20">Xe−012446</text>
<text x="1142" y="1346.64">BTD</text>
<text x="1142" y="1363.09">Heme binding protein 2−1</text>
<text x="1142" y="1379.53">Xe−013097</text>
<text x="1142" y="1395.97">Xe−014448</text>
<text x="1142" y="1412.41">STYKc−192</text>
<text x="1142" y="1428.85">ARFGEF2−66</text>
<text x="1142" y="1445.29">PC</text>
<text x="1142" y="1461.74">Domain of Unknown Function (DUF1081)</text>
<text x="1142" y="1478.18">Xe−002503</text>
<text x="1142" y="1494.62">CASKIN2</text>
<text x="1142" y="1511.06">Xe−003134</text>
<text x="1142" y="1527.50">Xe−002445</text>
<text x="1142" y="1543.94">FAEA−3</text>
<text x="1142" y="1560.38">MAM domain containing 4−7</text>
<text x="1142" y="1576.83">PSAP−1</text>
<text x="1142" y="1593.27">NUS1</text>
<text x="1142" y="1609.71">OSI−34149</text>
<text x="1142" y="1626.15">HUNK−1</text>
<text x="1142" y="1642.59">ec 3.4.21.4−3</text>
<text x="1142" y="1659.03">PVDN−1</text>
<text x="1142" y="1675.48">PNLIP</text>
<text x="1142" y="1691.92">DPP7−2</text>
<text x="1142" y="1708.36">Papain family cysteine protease−1</text>
<text x="1142" y="1724.80">CD151 molecule (Raph blood group)−3</text>
<text x="1142" y="1741.24">CBS</text>
<text x="1142" y="1757.68">Xe−012365</text>
<text x="1142" y="1774.12">COL6A6−2</text>
<text x="1142" y="1790.57">MAN2B1−1</text>
<text x="1142" y="1807.01">cathepsin−5</text>
<text x="1142" y="1823.45">Xe−012449</text>
<text x="1142" y="1839.89">CD36</text>
<text x="1142" y="1856.33">Xe−016132</text>
<text x="1142" y="1872.77">Xe−011707</text>
<text x="1142" y="1889.22">Xe−012455</text>
<text x="1142" y="1905.66">Xe−004451</text>
<text x="1142" y="1922.10">Xe−005069</text>
<text x="1142" y="1938.54">MAL−A8</text>
<text x="1142" y="1954.98">WBSCR27−6</text>
<text x="1142" y="1971.42">protein Hydra magnipapillata−43</text>
<text x="1142" y="1987.86">PSAP−2</text>
<text x="1142" y="2004.31">SLC20A2</text>
<text x="1142" y="2020.75">Xe−003599</text>
<text x="1142" y="2037.19">CAMSAP CH domain−2</text>
<text x="1142" y="2053.63">HLX−1</text>
<text x="1142" y="2070.07">SF3B5</text>
<text x="1142" y="2086.51">Xe−023290</text>
<text x="1142" y="2102.96">Xe−000582</text>
<text x="1142" y="2119.40">Xe−014805L</text>
<text x="1142" y="2135.84">Xe−015824</text>
<text x="1142" y="2152.28">Xe−022876</text>
<text x="1142" y="2168.72">NPC2L1</text>
<text x="1142" y="2185.16">GLUT8</text>
<text x="1142" y="2201.60">Xe−003454</text>
<text x="1142" y="2218.05">solute carrier family 15, member−3</text>
<text x="1142" y="2234.49">Xe−014085</text>
<text x="1142" y="2250.93">ConA/glucAL</text>
<text x="1142" y="2267.37">Glycogenin</text>
<text x="1142" y="2283.81">CD5L−2</text>
<text x="1142" y="2300.25">IFI30−1</text>
<text x="1142" y="2316.70">Xe−021367</text>
<text x="1142" y="2333.14">MOGAT2</text>
<text x="1142" y="2349.58">PLEKHG5</text>
<text x="1142" y="2366.02">Xe−005070</text>
<text x="1142" y="2382.46">Xe−015013</text>
<text x="1142" y="2398.90">CH</text>
<text x="1142" y="2415.34">MASP1−1</text>
<text x="1142" y="2431.79">AQP3</text>
<text x="1142" y="2448.23">Xe−000774</text>
<text x="1142" y="2464.67">Grip</text>
<text x="1142" y="2481.11">Xe−006920</text>
<text x="1142" y="2497.55">Xe−002818</text>
<text x="1142" y="2513.99">protein Hydra magnipapillata−46</text>
<text x="1142" y="2530.44">GLUT1</text>
<text x="1142" y="2546.88">Xe−019441</text>
<text x="1142" y="2563.32">Xe−002616</text>
<text x="1142" y="2579.76">transglutaminase−2</text>
<text x="1142" y="2596.20">CACNA1G−5</text>
<text x="1142" y="2612.64">Xe−024468</text>
</g>
<defs><linearGradient id="lg" gradientUnits="userSpaceOnUse" x1="0" y1="86.8" x2="0" y2="575.8">
<stop offset="0.0000" stop-color="#b90000"/>
<stop offset="0.0979" stop-color="#ff0000"/>
<stop offset="0.1986" stop-color="#ff7f00"/>
<stop offset="0.2993" stop-color="#ffff00"/>
<stop offset="0.5007" stop-color="#7fff7f"/>
<stop offset="0.7021" stop-color="#00ffff"/>
<stop offset="0.8028" stop-color="#007fff"/>
<stop offset="0.9035" stop-color="#0000ff"/>
<stop offset="1.0000" stop-color="#0000b9"/>
</linearGradient></defs>
<rect x="1734" y="86.8" width="32.6" height="489" fill="url(#lg)"/>
<g font-size="19.8" stroke="#000" stroke-width="0.45">
<text x="1779.2" y="102.40">3</text>
<text x="1779.2" y="181.18">2</text>
<text x="1779.2" y="259.97">1</text>
<text x="1779.2" y="338.75">0</text>
<text x="1779.2" y="417.53">−1</text>
<text x="1779.2" y="496.32">−2</text>
<text x="1779.2" y="575.10">−3</text>
</g>
<g font-size="27.3" stroke="#000" stroke-width="0.5">
<text x="1727.2" y="74.4">High</text>
<text x="1723.6" y="611">Low</text>
<text transform="translate(1716.6,394.8) rotate(-90)">Expression</text>
</g>
</svg></body></html>
